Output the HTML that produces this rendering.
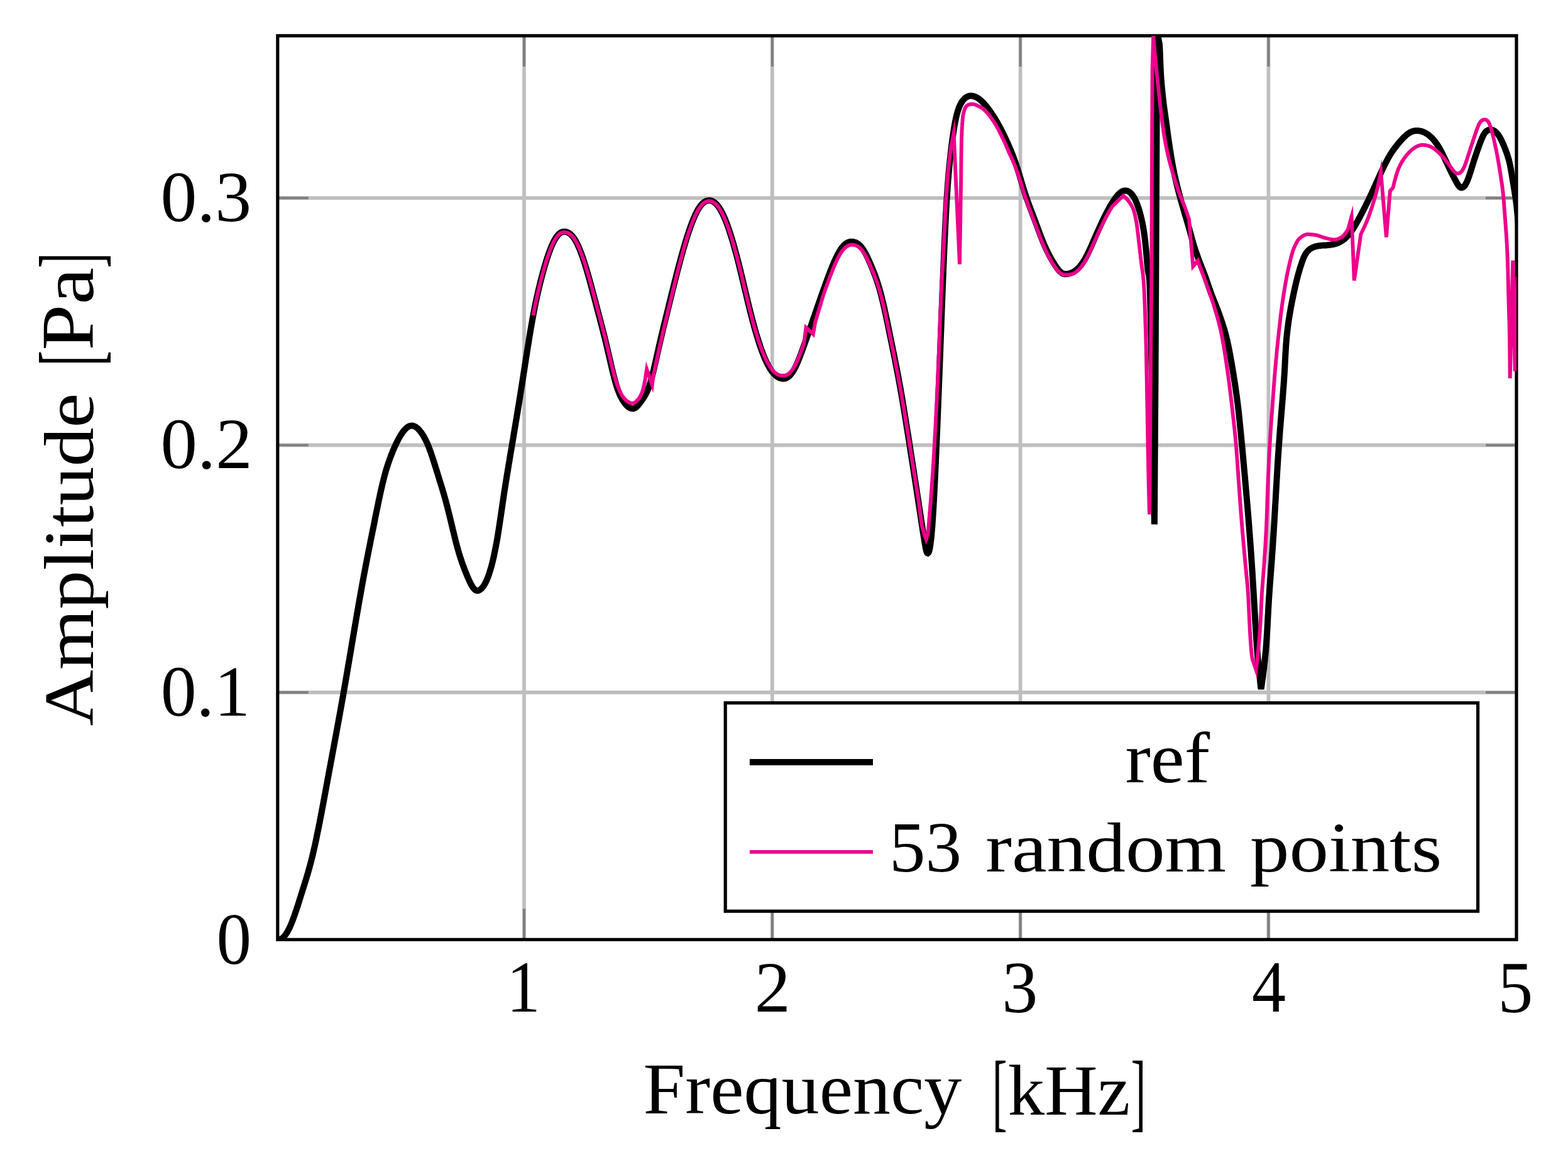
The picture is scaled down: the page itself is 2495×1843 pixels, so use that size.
<!DOCTYPE html>
<html lang="en"><head><meta charset="utf-8"><title>Amplitude vs. Frequency</title>
<style>html,body{margin:0;padding:0;background:#fff;}body{width:2495px;height:1843px;overflow:hidden;}svg{display:block;}text{font-family:"Liberation Serif", "DejaVu Serif", serif;fill:#000;}</style>
</head><body>
<svg xmlns="http://www.w3.org/2000/svg" width="2495" height="1843" viewBox="0 0 2495 1843">
<rect x="0" y="0" width="2495" height="1843" fill="#fff"/>
<defs><clipPath id="pc"><rect x="441.8" y="56.9" width="1971.2" height="1438.5"/></clipPath></defs>
<g stroke="#bfbfbf" stroke-width="5.8" fill="none">
<line x1="834.0" y1="56.9" x2="834.0" y2="1495.4"/>
<line x1="1228.8" y1="56.9" x2="1228.8" y2="1495.4"/>
<line x1="1623.6" y1="56.9" x2="1623.6" y2="1495.4"/>
<line x1="2018.4" y1="56.9" x2="2018.4" y2="1495.4"/>
<line x1="441.8" y1="1102.0" x2="2413.0" y2="1102.0"/>
<line x1="441.8" y1="708.5" x2="2413.0" y2="708.5"/>
<line x1="441.8" y1="315.2" x2="2413.0" y2="315.2"/>
</g>
<g stroke="#808080" stroke-width="4.2" fill="none">
<line x1="834.0" y1="1495.4" x2="834.0" y2="1446.4"/>
<line x1="834.0" y1="56.9" x2="834.0" y2="105.9"/>
<line x1="1228.8" y1="1495.4" x2="1228.8" y2="1446.4"/>
<line x1="1228.8" y1="56.9" x2="1228.8" y2="105.9"/>
<line x1="1623.6" y1="1495.4" x2="1623.6" y2="1446.4"/>
<line x1="1623.6" y1="56.9" x2="1623.6" y2="105.9"/>
<line x1="2018.4" y1="1495.4" x2="2018.4" y2="1446.4"/>
<line x1="2018.4" y1="56.9" x2="2018.4" y2="105.9"/>
<line x1="441.8" y1="1102.0" x2="490.8" y2="1102.0"/>
<line x1="2413.0" y1="1102.0" x2="2364.0" y2="1102.0"/>
<line x1="441.8" y1="708.5" x2="490.8" y2="708.5"/>
<line x1="2413.0" y1="708.5" x2="2364.0" y2="708.5"/>
<line x1="441.8" y1="315.2" x2="490.8" y2="315.2"/>
<line x1="2413.0" y1="315.2" x2="2364.0" y2="315.2"/>
</g>
<rect x="441.8" y="56.9" width="1971.2" height="1438.5" fill="none" stroke="#000" stroke-width="5.2"/>
<g clip-path="url(#pc)" fill="none" stroke-linejoin="bevel" stroke-linecap="butt">
<path d="M441.8,1495.3L442.8,1495.4L443.8,1495.5L444.8,1495.3L445.7,1495.1L446.7,1494.7L447.6,1494.3L448.4,1493.8L449.2,1493.2L450.0,1492.5L450.7,1491.9L451.5,1491.2L452.1,1490.4L452.8,1489.7L453.4,1488.9L454.0,1488.1L454.6,1487.3L455.2,1486.4L455.7,1485.6L456.2,1484.8L456.8,1483.9L457.3,1483.1L457.8,1482.2L458.2,1481.3L458.7,1480.4L459.2,1479.5L459.6,1478.6L460.1,1477.8L460.5,1476.9L460.9,1476.0L461.4,1475.0L461.8,1474.1L462.2,1473.2L462.6,1472.3L463.0,1471.4L463.4,1470.5L463.8,1469.5L464.1,1468.6L464.5,1467.7L464.9,1466.8L465.2,1465.8L465.6,1464.9L466.0,1464.0L466.3,1463.0L466.7,1462.1L467.0,1461.2L467.4,1460.2L467.7,1459.3L468.0,1458.3L468.4,1457.4L468.7,1456.5L469.0,1455.5L469.4,1454.6L469.7,1453.6L470.0,1452.7L470.3,1451.7L470.6,1450.8L471.0,1449.8L471.3,1448.9L471.6,1447.9L471.9,1447.0L472.2,1446.0L472.5,1445.1L472.8,1444.1L473.1,1443.2L473.5,1442.2L473.8,1441.3L474.1,1440.3L474.4,1439.4L474.7,1438.4L475.0,1437.5L475.3,1436.5L475.6,1435.6L475.9,1434.6L476.2,1433.7L476.5,1432.7L476.8,1431.7L477.1,1430.8L477.4,1429.8L477.7,1428.9L478.0,1427.9L478.3,1427.0L478.6,1426.0L478.9,1425.1L479.2,1424.1L479.5,1423.2L479.8,1422.2L480.1,1421.3L480.4,1420.3L480.7,1419.4L481.0,1418.4L481.3,1417.4L481.6,1416.5L481.9,1415.5L482.2,1414.6L482.5,1413.6L482.8,1412.7L483.1,1411.7L483.4,1410.8L483.7,1409.8L484.0,1408.9L484.3,1407.9L484.6,1407.0L484.9,1406.0L485.2,1405.1L485.5,1404.1L485.8,1403.1L486.1,1402.2L486.4,1401.2L486.7,1400.3L487.0,1399.3L487.3,1398.4L487.6,1397.4L487.8,1396.4L488.1,1395.5L488.4,1394.5L488.7,1393.6L489.0,1392.6L489.3,1391.7L489.6,1390.7L489.8,1389.7L490.1,1388.8L490.4,1387.8L490.7,1386.9L490.9,1385.9L491.2,1384.9L491.5,1384.0L491.7,1383.0L492.0,1382.0L492.3,1381.1L492.5,1380.1L492.8,1379.1L493.1,1378.2L493.3,1377.2L493.6,1376.3L493.8,1375.3L494.1,1374.3L494.4,1373.4L494.6,1372.4L494.9,1371.4L495.1,1370.4L495.4,1369.5L495.6,1368.5L495.8,1367.5L496.1,1366.6L496.3,1365.6L496.6,1364.6L496.8,1363.7L497.0,1362.7L497.3,1361.7L497.5,1360.7L497.8,1359.8L498.0,1358.8L498.2,1357.8L498.4,1356.9L498.7,1355.9L498.9,1354.9L499.1,1353.9L499.3,1353.0L499.6,1352.0L499.8,1351.0L500.0,1350.0L500.2,1349.1L500.4,1348.1L500.7,1347.1L500.9,1346.1L501.1,1345.2L501.3,1344.2L501.5,1343.2L501.7,1342.2L501.9,1341.2L502.2,1340.3L502.4,1339.3L502.6,1338.3L502.8,1337.3L503.0,1336.4L503.2,1335.4L503.4,1334.4L503.6,1333.4L503.8,1332.4L504.0,1331.5L504.2,1330.5L504.4,1329.5L504.6,1328.5L504.8,1327.5L505.0,1326.6L505.2,1325.6L505.4,1324.6L505.6,1323.6L505.8,1322.7L506.0,1321.7L506.2,1320.7L506.4,1319.7L506.6,1318.7L506.8,1317.8L507.0,1316.8L507.2,1315.8L507.4,1314.8L507.6,1313.8L507.8,1312.8L508.0,1311.9L508.2,1310.9L508.4,1309.9L508.6,1308.9L508.8,1307.9L508.9,1307.0L509.1,1306.0L509.3,1305.0L509.5,1304.0L509.7,1303.0L509.9,1302.1L510.1,1301.1L510.3,1300.1L510.5,1299.1L510.7,1298.1L510.8,1297.1L511.0,1296.2L511.2,1295.2L511.4,1294.2L511.6,1293.2L511.8,1292.2L512.0,1291.3L512.2,1290.3L512.3,1289.3L512.5,1288.3L512.7,1287.3L512.9,1286.3L513.1,1285.4L513.3,1284.4L513.4,1283.4L513.6,1282.4L513.8,1281.4L514.0,1280.4L514.2,1279.5L514.4,1278.5L514.6,1277.5L514.7,1276.5L514.9,1275.5L515.1,1274.5L515.3,1273.6L515.5,1272.6L515.7,1271.6L515.8,1270.6L516.0,1269.6L516.2,1268.6L516.4,1267.7L516.6,1266.7L516.7,1265.7L516.9,1264.7L517.1,1263.7L517.3,1262.8L517.5,1261.8L517.7,1260.8L517.8,1259.8L518.0,1258.8L518.2,1257.8L518.4,1256.9L518.6,1255.9L518.8,1254.9L518.9,1253.9L519.1,1252.9L519.3,1251.9L519.5,1251.0L519.7,1250.0L519.8,1249.0L520.0,1248.0L520.2,1247.0L520.4,1246.0L520.6,1245.1L520.8,1244.1L520.9,1243.1L521.1,1242.1L521.3,1241.1L521.5,1240.1L521.7,1239.2L521.8,1238.2L522.0,1237.2L522.2,1236.2L522.4,1235.2L522.6,1234.2L522.8,1233.3L522.9,1232.3L523.1,1231.3L523.3,1230.3L523.5,1229.3L523.7,1228.3L523.9,1227.4L524.0,1226.4L524.2,1225.4L524.4,1224.4L524.6,1223.4L524.8,1222.4L525.0,1221.5L525.1,1220.5L525.3,1219.5L525.5,1218.5L525.7,1217.5L525.9,1216.5L526.1,1215.6L526.2,1214.6L526.4,1213.6L526.6,1212.6L526.8,1211.6L527.0,1210.7L527.2,1209.7L527.3,1208.7L527.5,1207.7L527.7,1206.7L527.9,1205.7L528.1,1204.8L528.3,1203.8L528.4,1202.8L528.6,1201.8L528.8,1200.8L529.0,1199.8L529.2,1198.9L529.3,1197.9L529.5,1196.9L529.7,1195.9L529.9,1194.9L530.1,1193.9L530.3,1193.0L530.4,1192.0L530.6,1191.0L530.8,1190.0L531.0,1189.0L531.2,1188.0L531.4,1187.1L531.5,1186.1L531.7,1185.1L531.9,1184.1L532.1,1183.1L532.3,1182.1L532.5,1181.2L532.6,1180.2L532.8,1179.2L533.0,1178.2L533.2,1177.2L533.4,1176.2L533.5,1175.3L533.7,1174.3L533.9,1173.3L534.1,1172.3L534.3,1171.3L534.5,1170.3L534.6,1169.4L534.8,1168.4L535.0,1167.4L535.2,1166.4L535.4,1165.4L535.5,1164.4L535.7,1163.5L535.9,1162.5L536.1,1161.5L536.3,1160.5L536.4,1159.5L536.6,1158.5L536.8,1157.6L537.0,1156.6L537.2,1155.6L537.4,1154.6L537.5,1153.6L537.7,1152.6L537.9,1151.7L538.1,1150.7L538.3,1149.7L538.4,1148.7L538.6,1147.7L538.8,1146.7L539.0,1145.8L539.1,1144.8L539.3,1143.8L539.5,1142.8L539.7,1141.8L539.9,1140.8L540.0,1139.9L540.2,1138.9L540.4,1137.9L540.6,1136.9L540.8,1135.9L540.9,1134.9L541.1,1134.0L541.3,1133.0L541.5,1132.0L541.6,1131.0L541.8,1130.0L542.0,1129.0L542.2,1128.1L542.4,1127.1L542.5,1126.1L542.7,1125.1L542.9,1124.1L543.1,1123.1L543.2,1122.1L543.4,1121.2L543.6,1120.2L543.8,1119.2L543.9,1118.2L544.1,1117.2L544.3,1116.2L544.5,1115.3L544.6,1114.3L544.8,1113.3L545.0,1112.3L545.2,1111.3L545.3,1110.3L545.5,1109.4L545.7,1108.4L545.9,1107.4L546.0,1106.4L546.2,1105.4L546.4,1104.4L546.5,1103.4L546.7,1102.5L546.9,1101.5L547.1,1100.5L547.2,1099.5L547.4,1098.5L547.6,1097.5L547.8,1096.6L547.9,1095.6L548.1,1094.6L548.3,1093.6L548.4,1092.6L548.6,1091.6L548.8,1090.6L549.0,1089.7L549.1,1088.7L549.3,1087.7L549.5,1086.7L549.6,1085.7L549.8,1084.7L550.0,1083.7L550.1,1082.8L550.3,1081.8L550.5,1080.8L550.7,1079.8L550.8,1078.8L551.0,1077.8L551.2,1076.8L551.3,1075.9L551.5,1074.9L551.7,1073.9L551.8,1072.9L552.0,1071.9L552.2,1070.9L552.3,1069.9L552.5,1069.0L552.7,1068.0L552.8,1067.0L553.0,1066.0L553.2,1065.0L553.3,1064.0L553.5,1063.0L553.7,1062.1L553.9,1061.1L554.0,1060.1L554.2,1059.1L554.4,1058.1L554.5,1057.1L554.7,1056.1L554.9,1055.2L555.0,1054.2L555.2,1053.2L555.4,1052.2L555.5,1051.2L555.7,1050.2L555.9,1049.2L556.0,1048.3L556.2,1047.3L556.4,1046.3L556.5,1045.3L556.7,1044.3L556.9,1043.3L557.0,1042.3L557.2,1041.4L557.4,1040.4L557.5,1039.4L557.7,1038.4L557.9,1037.4L558.0,1036.4L558.2,1035.4L558.4,1034.5L558.5,1033.5L558.7,1032.5L558.9,1031.5L559.0,1030.5L559.2,1029.5L559.4,1028.5L559.5,1027.6L559.7,1026.6L559.9,1025.6L560.0,1024.6L560.2,1023.6L560.4,1022.6L560.5,1021.6L560.7,1020.7L560.9,1019.7L561.0,1018.7L561.2,1017.7L561.4,1016.7L561.5,1015.7L561.7,1014.7L561.9,1013.8L562.0,1012.8L562.2,1011.8L562.4,1010.8L562.5,1009.8L562.7,1008.8L562.9,1007.8L563.0,1006.9L563.2,1005.9L563.4,1004.9L563.5,1003.9L563.7,1002.9L563.9,1001.9L564.0,1000.9L564.2,1000.0L564.4,999.0L564.5,998.0L564.7,997.0L564.9,996.0L565.0,995.0L565.2,994.0L565.4,993.1L565.5,992.1L565.7,991.1L565.9,990.1L566.1,989.1L566.2,988.1L566.4,987.1L566.6,986.2L566.7,985.2L566.9,984.2L567.1,983.2L567.2,982.2L567.4,981.2L567.6,980.2L567.7,979.3L567.9,978.3L568.1,977.3L568.2,976.3L568.4,975.3L568.6,974.3L568.8,973.4L568.9,972.4L569.1,971.4L569.3,970.4L569.4,969.4L569.6,968.4L569.8,967.4L570.0,966.5L570.1,965.5L570.3,964.5L570.5,963.5L570.6,962.5L570.8,961.5L571.0,960.5L571.2,959.6L571.3,958.6L571.5,957.6L571.7,956.6L571.8,955.6L572.0,954.6L572.2,953.7L572.4,952.7L572.5,951.7L572.7,950.7L572.9,949.7L573.1,948.7L573.2,947.7L573.4,946.8L573.6,945.8L573.8,944.8L573.9,943.8L574.1,942.8L574.3,941.8L574.5,940.9L574.6,939.9L574.8,938.9L575.0,937.9L575.2,936.9L575.3,935.9L575.5,935.0L575.7,934.0L575.9,933.0L576.1,932.0L576.2,931.0L576.4,930.0L576.6,929.0L576.8,928.1L577.0,927.1L577.1,926.1L577.3,925.1L577.5,924.1L577.7,923.1L577.9,922.2L578.0,921.2L578.2,920.2L578.4,919.2L578.6,918.2L578.8,917.2L578.9,916.3L579.1,915.3L579.3,914.3L579.5,913.3L579.7,912.3L579.9,911.4L580.1,910.4L580.2,909.4L580.4,908.4L580.6,907.4L580.8,906.4L581.0,905.5L581.2,904.5L581.4,903.5L581.5,902.5L581.7,901.5L581.9,900.5L582.1,899.6L582.3,898.6L582.5,897.6L582.7,896.6L582.9,895.6L583.1,894.7L583.2,893.7L583.4,892.7L583.6,891.7L583.8,890.7L584.0,889.7L584.2,888.8L584.4,887.8L584.6,886.8L584.8,885.8L585.0,884.8L585.2,883.9L585.4,882.9L585.5,881.9L585.7,880.9L585.9,879.9L586.1,879.0L586.3,878.0L586.5,877.0L586.7,876.0L586.9,875.0L587.1,874.1L587.3,873.1L587.5,872.1L587.7,871.1L587.9,870.1L588.1,869.1L588.3,868.2L588.5,867.2L588.7,866.2L588.9,865.2L589.1,864.2L589.3,863.3L589.4,862.3L589.6,861.3L589.8,860.3L590.0,859.3L590.2,858.4L590.4,857.4L590.6,856.4L590.8,855.4L591.0,854.4L591.2,853.5L591.4,852.5L591.6,851.5L591.8,850.5L592.0,849.5L592.2,848.6L592.4,847.6L592.6,846.6L592.8,845.6L593.0,844.6L593.2,843.7L593.4,842.7L593.6,841.7L593.8,840.7L594.0,839.7L594.2,838.8L594.4,837.8L594.6,836.8L594.8,835.8L595.0,834.8L595.2,833.9L595.4,832.9L595.6,831.9L595.8,830.9L596.0,829.9L596.2,829.0L596.3,828.0L596.5,827.0L596.7,826.0L596.9,825.0L597.1,824.1L597.3,823.1L597.5,822.1L597.7,821.1L597.9,820.1L598.1,819.2L598.3,818.2L598.5,817.2L598.7,816.2L598.9,815.2L599.1,814.3L599.3,813.3L599.5,812.3L599.7,811.3L599.9,810.3L600.1,809.4L600.3,808.4L600.5,807.4L600.7,806.4L600.9,805.4L601.1,804.5L601.3,803.5L601.5,802.5L601.7,801.5L601.9,800.5L602.1,799.6L602.3,798.6L602.5,797.6L602.7,796.6L602.9,795.7L603.1,794.7L603.4,793.7L603.6,792.7L603.8,791.7L604.0,790.8L604.2,789.8L604.4,788.8L604.6,787.8L604.8,786.9L605.0,785.9L605.2,784.9L605.5,783.9L605.7,782.9L605.9,782.0L606.1,781.0L606.3,780.0L606.5,779.0L606.8,778.1L607.0,777.1L607.2,776.1L607.4,775.1L607.7,774.2L607.9,773.2L608.1,772.2L608.3,771.2L608.6,770.3L608.8,769.3L609.0,768.3L609.3,767.4L609.5,766.4L609.7,765.4L610.0,764.4L610.2,763.5L610.5,762.5L610.7,761.5L611.0,760.6L611.2,759.6L611.5,758.6L611.7,757.7L612.0,756.7L612.2,755.7L612.5,754.8L612.8,753.8L613.0,752.8L613.3,751.9L613.6,750.9L613.8,750.0L614.1,749.0L614.4,748.0L614.7,747.1L615.0,746.1L615.3,745.2L615.6,744.2L615.9,743.3L616.2,742.3L616.5,741.3L616.8,740.4L617.1,739.4L617.4,738.5L617.7,737.5L618.0,736.6L618.4,735.7L618.7,734.7L619.0,733.8L619.4,732.8L619.7,731.9L620.0,730.9L620.4,730.0L620.7,729.1L621.1,728.1L621.4,727.2L621.8,726.3L622.1,725.3L622.5,724.4L622.9,723.5L623.2,722.5L623.6,721.6L624.0,720.7L624.4,719.8L624.7,718.8L625.1,717.9L625.5,717.0L625.9,716.1L626.3,715.1L626.7,714.2L627.1,713.3L627.5,712.4L627.9,711.5L628.3,710.6L628.7,709.7L629.1,708.8L629.6,707.8L630.0,706.9L630.4,706.0L630.8,705.1L631.3,704.2L631.7,703.3L632.2,702.4L632.6,701.6L633.1,700.7L633.6,699.8L634.0,698.9L634.5,698.0L635.0,697.1L635.5,696.3L636.0,695.4L636.5,694.5L637.0,693.7L637.5,692.8L638.0,692.0L638.6,691.1L639.1,690.3L639.7,689.5L640.2,688.6L640.8,687.8L641.4,687.0L642.0,686.2L642.7,685.5L643.3,684.7L644.0,684.0L644.7,683.2L645.4,682.5L646.1,681.8L646.8,681.2L647.6,680.5L648.4,679.9L649.2,679.4L650.1,678.9L651.0,678.4L651.9,678.1L652.9,677.8L653.9,677.6L654.9,677.5L655.9,677.5L656.9,677.6L657.8,677.9L658.8,678.2L659.7,678.5L660.6,679.0L661.5,679.5L662.3,680.1L663.1,680.7L663.9,681.3L664.6,681.9L665.4,682.6L666.1,683.3L666.7,684.1L667.4,684.8L668.0,685.6L668.7,686.4L669.3,687.2L669.9,687.9L670.5,688.8L671.1,689.6L671.6,690.4L672.2,691.2L672.7,692.1L673.2,692.9L673.8,693.8L674.3,694.6L674.8,695.5L675.3,696.4L675.7,697.3L676.2,698.1L676.7,699.0L677.1,699.9L677.6,700.8L678.0,701.7L678.4,702.6L678.9,703.5L679.3,704.4L679.7,705.3L680.1,706.3L680.5,707.2L680.9,708.1L681.3,709.0L681.6,709.9L682.0,710.9L682.4,711.8L682.7,712.7L683.1,713.7L683.4,714.6L683.8,715.5L684.1,716.5L684.5,717.4L684.8,718.4L685.2,719.3L685.5,720.2L685.8,721.2L686.1,722.1L686.5,723.1L686.8,724.0L687.1,725.0L687.4,725.9L687.8,726.9L688.1,727.8L688.4,728.8L688.7,729.7L689.0,730.7L689.3,731.6L689.6,732.6L689.9,733.5L690.2,734.5L690.5,735.4L690.8,736.4L691.1,737.3L691.4,738.3L691.7,739.2L692.0,740.2L692.3,741.1L692.6,742.1L692.9,743.1L693.2,744.0L693.5,745.0L693.8,745.9L694.1,746.9L694.4,747.8L694.7,748.8L695.0,749.7L695.3,750.7L695.6,751.6L695.9,752.6L696.2,753.6L696.5,754.5L696.8,755.5L697.1,756.4L697.4,757.4L697.7,758.3L698.0,759.3L698.3,760.2L698.6,761.2L698.8,762.2L699.1,763.1L699.4,764.1L699.7,765.0L700.0,766.0L700.3,766.9L700.6,767.9L700.9,768.8L701.2,769.8L701.5,770.7L701.8,771.7L702.1,772.7L702.4,773.6L702.7,774.6L703.0,775.5L703.3,776.5L703.6,777.4L703.8,778.4L704.1,779.4L704.4,780.3L704.7,781.3L705.0,782.2L705.3,783.2L705.5,784.2L705.8,785.1L706.1,786.1L706.4,787.0L706.7,788.0L706.9,789.0L707.2,789.9L707.5,790.9L707.8,791.8L708.0,792.8L708.3,793.8L708.6,794.7L708.8,795.7L709.1,796.7L709.4,797.6L709.6,798.6L709.9,799.5L710.1,800.5L710.4,801.5L710.6,802.4L710.9,803.4L711.2,804.4L711.4,805.4L711.7,806.3L711.9,807.3L712.2,808.3L712.4,809.2L712.6,810.2L712.9,811.2L713.1,812.1L713.4,813.1L713.6,814.1L713.9,815.0L714.1,816.0L714.3,817.0L714.6,818.0L714.8,818.9L715.1,819.9L715.3,820.9L715.5,821.8L715.8,822.8L716.0,823.8L716.2,824.8L716.5,825.7L716.7,826.7L717.0,827.7L717.2,828.6L717.4,829.6L717.7,830.6L717.9,831.6L718.1,832.5L718.4,833.5L718.6,834.5L718.8,835.4L719.1,836.4L719.3,837.4L719.5,838.4L719.8,839.3L720.0,840.3L720.2,841.3L720.5,842.2L720.7,843.2L720.9,844.2L721.2,845.2L721.4,846.1L721.6,847.1L721.9,848.1L722.1,849.1L722.3,850.0L722.6,851.0L722.8,852.0L723.1,852.9L723.3,853.9L723.5,854.9L723.8,855.8L724.0,856.8L724.3,857.8L724.5,858.8L724.7,859.7L725.0,860.7L725.2,861.7L725.5,862.6L725.7,863.6L726.0,864.6L726.2,865.5L726.5,866.5L726.7,867.5L727.0,868.4L727.3,869.4L727.5,870.4L727.8,871.3L728.0,872.3L728.3,873.3L728.6,874.2L728.9,875.2L729.1,876.1L729.4,877.1L729.7,878.1L730.0,879.0L730.2,880.0L730.5,880.9L730.8,881.9L731.1,882.9L731.4,883.8L731.7,884.8L732.0,885.7L732.3,886.7L732.6,887.6L732.9,888.6L733.2,889.5L733.6,890.5L733.9,891.4L734.2,892.4L734.5,893.3L734.8,894.3L735.2,895.2L735.5,896.2L735.8,897.1L736.2,898.0L736.5,899.0L736.9,899.9L737.2,900.9L737.5,901.8L737.9,902.7L738.3,903.7L738.6,904.6L739.0,905.5L739.3,906.5L739.7,907.4L740.0,908.3L740.4,909.3L740.8,910.2L741.1,911.1L741.5,912.0L741.9,913.0L742.3,913.9L742.6,914.8L743.0,915.8L743.4,916.7L743.8,917.6L744.2,918.5L744.6,919.4L745.0,920.4L745.4,921.3L745.8,922.2L746.2,923.1L746.6,924.0L747.0,924.9L747.4,925.8L747.9,926.7L748.3,927.6L748.8,928.5L749.2,929.4L749.7,930.3L750.2,931.2L750.7,932.0L751.2,932.9L751.7,933.7L752.3,934.6L752.9,935.4L753.5,936.2L754.1,936.9L754.8,937.7L755.5,938.3L756.3,938.9L757.2,939.5L758.1,939.8L759.1,940.0L760.1,940.0L761.1,939.8L762.0,939.5L762.9,939.1L763.8,938.6L764.6,938.0L765.4,937.4L766.1,936.7L766.8,936.0L767.5,935.3L768.1,934.5L768.7,933.7L769.3,932.9L769.9,932.0L770.4,931.2L770.9,930.3L771.4,929.5L771.9,928.6L772.4,927.7L772.8,926.8L773.2,925.9L773.7,925.0L774.1,924.1L774.5,923.2L774.9,922.3L775.3,921.3L775.7,920.4L776.0,919.5L776.4,918.6L776.7,917.6L777.1,916.7L777.4,915.7L777.7,914.8L778.1,913.9L778.4,912.9L778.7,912.0L779.0,911.0L779.3,910.1L779.6,909.1L779.9,908.1L780.2,907.2L780.5,906.2L780.8,905.3L781.1,904.3L781.3,903.3L781.6,902.4L781.9,901.4L782.1,900.5L782.4,899.5L782.6,898.5L782.9,897.6L783.1,896.6L783.4,895.6L783.6,894.6L783.9,893.7L784.1,892.7L784.3,891.7L784.6,890.8L784.8,889.8L785.0,888.8L785.2,887.8L785.5,886.9L785.7,885.9L785.9,884.9L786.1,883.9L786.3,883.0L786.5,882.0L786.7,881.0L786.9,880.0L787.1,879.0L787.3,878.1L787.5,877.1L787.7,876.1L787.9,875.1L788.1,874.1L788.3,873.2L788.5,872.2L788.7,871.2L788.9,870.2L789.1,869.2L789.3,868.2L789.4,867.3L789.6,866.3L789.8,865.3L790.0,864.3L790.2,863.3L790.3,862.3L790.5,861.4L790.7,860.4L790.9,859.4L791.0,858.4L791.2,857.4L791.4,856.4L791.5,855.5L791.7,854.5L791.9,853.5L792.0,852.5L792.2,851.5L792.4,850.5L792.5,849.5L792.7,848.5L792.8,847.6L793.0,846.6L793.2,845.6L793.3,844.6L793.5,843.6L793.6,842.6L793.8,841.6L793.9,840.6L794.1,839.7L794.2,838.7L794.4,837.7L794.5,836.7L794.7,835.7L794.8,834.7L795.0,833.7L795.1,832.7L795.3,831.8L795.4,830.8L795.6,829.8L795.7,828.8L795.9,827.8L796.0,826.8L796.2,825.8L796.3,824.8L796.5,823.8L796.6,822.9L796.7,821.9L796.9,820.9L797.0,819.9L797.2,818.9L797.3,817.9L797.5,816.9L797.6,815.9L797.8,814.9L797.9,813.9L798.0,813.0L798.2,812.0L798.3,811.0L798.5,810.0L798.6,809.0L798.8,808.0L798.9,807.0L799.1,806.0L799.2,805.0L799.3,804.1L799.5,803.1L799.6,802.1L799.8,801.1L799.9,800.1L800.1,799.1L800.2,798.1L800.4,797.1L800.5,796.1L800.7,795.2L800.8,794.2L801.0,793.2L801.1,792.2L801.3,791.2L801.4,790.2L801.5,789.2L801.7,788.2L801.8,787.2L802.0,786.3L802.1,785.3L802.3,784.3L802.4,783.3L802.6,782.3L802.8,781.3L802.9,780.3L803.1,779.3L803.2,778.3L803.4,777.4L803.5,776.4L803.7,775.4L803.8,774.4L804.0,773.4L804.1,772.4L804.3,771.4L804.4,770.4L804.6,769.5L804.8,768.5L804.9,767.5L805.1,766.5L805.2,765.5L805.4,764.5L805.5,763.5L805.7,762.5L805.9,761.6L806.0,760.6L806.2,759.6L806.3,758.6L806.5,757.6L806.7,756.6L806.8,755.6L807.0,754.6L807.1,753.7L807.3,752.7L807.5,751.7L807.6,750.7L807.8,749.7L807.9,748.7L808.1,747.7L808.3,746.8L808.4,745.8L808.6,744.8L808.8,743.8L808.9,742.8L809.1,741.8L809.2,740.8L809.4,739.8L809.6,738.9L809.7,737.9L809.9,736.9L810.1,735.9L810.2,734.9L810.4,733.9L810.6,732.9L810.7,732.0L810.9,731.0L811.0,730.0L811.2,729.0L811.4,728.0L811.5,727.0L811.7,726.0L811.9,725.1L812.0,724.1L812.2,723.1L812.4,722.1L812.5,721.1L812.7,720.1L812.9,719.1L813.0,718.2L813.2,717.2L813.4,716.2L813.5,715.2L813.7,714.2L813.9,713.2L814.0,712.2L814.2,711.3L814.4,710.3L814.5,709.3L814.7,708.3L814.9,707.3L815.0,706.3L815.2,705.3L815.4,704.4L815.5,703.4L815.7,702.4L815.9,701.4L816.0,700.4L816.2,699.4L816.4,698.4L816.5,697.5L816.7,696.5L816.9,695.5L817.0,694.5L817.2,693.5L817.4,692.5L817.5,691.5L817.7,690.5L817.8,689.6L818.0,688.6L818.2,687.6L818.3,686.6L818.5,685.6L818.7,684.6L818.8,683.6L819.0,682.7L819.2,681.7L819.3,680.7L819.5,679.7L819.7,678.7L819.8,677.7L820.0,676.7L820.2,675.8L820.3,674.8L820.5,673.8L820.6,672.8L820.8,671.8L821.0,670.8L821.1,669.8L821.3,668.9L821.5,667.9L821.6,666.9L821.8,665.9L822.0,664.9L822.1,663.9L822.3,662.9L822.4,661.9L822.6,661.0L822.8,660.0L822.9,659.0L823.1,658.0L823.3,657.0L823.4,656.0L823.6,655.0L823.7,654.1L823.9,653.1L824.1,652.1L824.2,651.1L824.4,650.1L824.5,649.1L824.7,648.1L824.9,647.1L825.0,646.2L825.2,645.2L825.4,644.2L825.5,643.2L825.7,642.2L825.8,641.2L826.0,640.2L826.2,639.3L826.3,638.3L826.5,637.3L826.6,636.3L826.8,635.3L826.9,634.3L827.1,633.3L827.3,632.3L827.4,631.4L827.6,630.4L827.7,629.4L827.9,628.4L828.1,627.4L828.2,626.4L828.4,625.4L828.5,624.4L828.7,623.5L828.8,622.5L829.0,621.5L829.2,620.5L829.3,619.5L829.5,618.5L829.6,617.5L829.8,616.5L829.9,615.6L830.1,614.6L830.3,613.6L830.4,612.6L830.6,611.6L830.7,610.6L830.9,609.6L831.0,608.6L831.2,607.7L831.3,606.7L831.5,605.7L831.7,604.7L831.8,603.7L832.0,602.7L832.1,601.7L832.3,600.7L832.4,599.8L832.6,598.8L832.7,597.8L832.9,596.8L833.0,595.8L833.2,594.8L833.3,593.8L833.5,592.8L833.7,591.9L833.8,590.9L834.0,589.9L834.1,588.9L834.3,587.9L834.4,586.9L834.6,585.9L834.7,584.9L834.9,583.9L835.0,583.0L835.2,582.0L835.3,581.0L835.5,580.0L835.6,579.0L835.8,578.0L836.0,577.0L836.1,576.0L836.3,575.1L836.4,574.1L836.6,573.1L836.7,572.1L836.9,571.1L837.0,570.1L837.2,569.1L837.3,568.1L837.5,567.2L837.7,566.2L837.8,565.2L838.0,564.2L838.1,563.2L838.3,562.2L838.4,561.2L838.6,560.2L838.7,559.3L838.9,558.3L839.0,557.3L839.2,556.3L839.4,555.3L839.5,554.3L839.7,553.3L839.8,552.3L840.0,551.4L840.1,550.4L840.3,549.4L840.5,548.4L840.6,547.4L840.8,546.4L840.9,545.4L841.1,544.4L841.3,543.5L841.4,542.5L841.6,541.5L841.7,540.5L841.9,539.5L842.1,538.5L842.2,537.5L842.4,536.5L842.5,535.6L842.7,534.6L842.9,533.6L843.0,532.6L843.2,531.6L843.4,530.6L843.5,529.6L843.7,528.7L843.9,527.7L844.0,526.7L844.2,525.7L844.4,524.7L844.5,523.7L844.7,522.7L844.9,521.8L845.0,520.8L845.2,519.8L845.4,518.8L845.5,517.8L845.7,516.8L845.9,515.8L846.1,514.9L846.2,513.9L846.4,512.9L846.6,511.9L846.8,510.9L846.9,509.9L847.1,509.0L847.3,508.0L847.5,507.0L847.7,506.0L847.8,505.0L848.0,504.0L848.2,503.1L848.4,502.1L848.6,501.1L848.7,500.1L848.9,499.1L849.1,498.1L849.3,497.2L849.5,496.2L849.7,495.2L849.9,494.2L850.1,493.2L850.3,492.3L850.5,491.3L850.6,490.3L850.8,489.3L851.0,488.3L851.2,487.3L851.4,486.4L851.6,485.4L851.8,484.4L852.0,483.4L852.2,482.5L852.4,481.5L852.6,480.5L852.8,479.5L853.1,478.5L853.3,477.6L853.5,476.6L853.7,475.6L853.9,474.6L854.1,473.6L854.3,472.7L854.5,471.7L854.7,470.7L855.0,469.7L855.2,468.8L855.4,467.8L855.6,466.8L855.8,465.8L856.1,464.9L856.3,463.9L856.5,462.9L856.7,461.9L857.0,461.0L857.2,460.0L857.4,459.0L857.7,458.1L857.9,457.1L858.1,456.1L858.4,455.1L858.6,454.2L858.8,453.2L859.1,452.2L859.3,451.2L859.5,450.3L859.8,449.3L860.0,448.3L860.3,447.4L860.5,446.4L860.8,445.4L861.0,444.5L861.3,443.5L861.5,442.5L861.8,441.6L862.0,440.6L862.3,439.6L862.5,438.7L862.8,437.7L863.1,436.7L863.3,435.8L863.6,434.8L863.8,433.8L864.1,432.9L864.4,431.9L864.6,430.9L864.9,430.0L865.2,429.0L865.4,428.1L865.7,427.1L866.0,426.1L866.3,425.2L866.5,424.2L866.8,423.3L867.1,422.3L867.4,421.3L867.7,420.4L868.0,419.4L868.3,418.5L868.5,417.5L868.8,416.5L869.1,415.6L869.4,414.6L869.7,413.7L870.0,412.7L870.3,411.8L870.6,410.8L871.0,409.9L871.3,408.9L871.6,408.0L871.9,407.0L872.2,406.1L872.6,405.1L872.9,404.2L873.2,403.3L873.5,402.3L873.9,401.4L874.2,400.4L874.6,399.5L874.9,398.6L875.3,397.6L875.6,396.7L876.0,395.8L876.4,394.8L876.8,393.9L877.1,393.0L877.5,392.1L877.9,391.1L878.3,390.2L878.7,389.3L879.1,388.4L879.6,387.5L880.0,386.6L880.4,385.7L880.9,384.8L881.3,383.9L881.8,383.0L882.3,382.1L882.8,381.3L883.3,380.4L883.8,379.6L884.3,378.7L884.9,377.9L885.5,377.1L886.0,376.3L886.7,375.5L887.3,374.7L887.9,373.9L888.6,373.2L889.3,372.5L890.1,371.8L890.9,371.2L891.7,370.6L892.5,370.1L893.4,369.6L894.3,369.3L895.3,369.0L896.3,368.8L897.3,368.7L898.3,368.7L899.3,368.8L900.3,369.0L901.2,369.2L902.2,369.5L903.1,369.8L904.0,370.3L904.9,370.7L905.8,371.3L906.6,371.8L907.4,372.4L908.1,373.1L908.9,373.8L909.6,374.5L910.3,375.2L910.9,376.0L911.6,376.7L912.2,377.5L912.8,378.3L913.3,379.1L913.9,380.0L914.4,380.8L915.0,381.7L915.5,382.5L916.0,383.4L916.5,384.2L916.9,385.1L917.4,386.0L917.9,386.9L918.3,387.8L918.8,388.7L919.2,389.6L919.6,390.5L920.0,391.4L920.4,392.3L920.8,393.2L921.2,394.2L921.6,395.1L922.0,396.0L922.4,396.9L922.8,397.9L923.1,398.8L923.5,399.7L923.8,400.6L924.2,401.6L924.6,402.5L924.9,403.5L925.3,404.4L925.6,405.3L925.9,406.3L926.3,407.2L926.6,408.2L926.9,409.1L927.3,410.0L927.6,411.0L927.9,411.9L928.2,412.9L928.6,413.8L928.9,414.8L929.2,415.7L929.5,416.7L929.8,417.6L930.1,418.6L930.4,419.5L930.7,420.5L931.0,421.4L931.3,422.4L931.6,423.4L931.9,424.3L932.2,425.3L932.5,426.2L932.8,427.2L933.1,428.1L933.4,429.1L933.6,430.0L933.9,431.0L934.2,432.0L934.5,432.9L934.8,433.9L935.0,434.8L935.3,435.8L935.6,436.8L935.9,437.7L936.2,438.7L936.4,439.6L936.7,440.6L937.0,441.6L937.2,442.5L937.5,443.5L937.8,444.5L938.1,445.4L938.3,446.4L938.6,447.4L938.9,448.3L939.1,449.3L939.4,450.2L939.6,451.2L939.9,452.2L940.2,453.1L940.4,454.1L940.7,455.1L941.0,456.0L941.2,457.0L941.5,458.0L941.7,458.9L942.0,459.9L942.3,460.9L942.5,461.8L942.8,462.8L943.0,463.8L943.3,464.7L943.5,465.7L943.8,466.7L944.1,467.6L944.3,468.6L944.6,469.6L944.8,470.5L945.1,471.5L945.3,472.5L945.6,473.4L945.8,474.4L946.1,475.4L946.3,476.3L946.6,477.3L946.8,478.3L947.1,479.2L947.4,480.2L947.6,481.2L947.9,482.1L948.1,483.1L948.4,484.1L948.6,485.0L948.9,486.0L949.1,487.0L949.4,487.9L949.6,488.9L949.9,489.9L950.1,490.8L950.4,491.8L950.6,492.8L950.9,493.7L951.2,494.7L951.4,495.7L951.7,496.6L951.9,497.6L952.2,498.6L952.4,499.5L952.7,500.5L952.9,501.5L953.2,502.4L953.4,503.4L953.7,504.4L954.0,505.3L954.2,506.3L954.5,507.3L954.7,508.2L955.0,509.2L955.2,510.2L955.5,511.1L955.7,512.1L956.0,513.1L956.2,514.0L956.5,515.0L956.7,516.0L957.0,516.9L957.2,517.9L957.5,518.9L957.7,519.8L958.0,520.8L958.2,521.8L958.5,522.8L958.7,523.7L959.0,524.7L959.2,525.7L959.5,526.6L959.7,527.6L960.0,528.6L960.2,529.5L960.5,530.5L960.7,531.5L961.0,532.4L961.2,533.4L961.4,534.4L961.7,535.4L961.9,536.3L962.2,537.3L962.4,538.3L962.7,539.2L962.9,540.2L963.1,541.2L963.4,542.1L963.6,543.1L963.8,544.1L964.1,545.1L964.3,546.0L964.5,547.0L964.8,548.0L965.0,548.9L965.2,549.9L965.5,550.9L965.7,551.9L965.9,552.8L966.2,553.8L966.4,554.8L966.6,555.8L966.8,556.7L967.1,557.7L967.3,558.7L967.5,559.7L967.7,560.6L968.0,561.6L968.2,562.6L968.4,563.6L968.6,564.5L968.9,565.5L969.1,566.5L969.3,567.5L969.5,568.4L969.8,569.4L970.0,570.4L970.2,571.3L970.4,572.3L970.7,573.3L970.9,574.3L971.1,575.2L971.3,576.2L971.6,577.2L971.8,578.2L972.0,579.1L972.2,580.1L972.5,581.1L972.7,582.1L972.9,583.0L973.1,584.0L973.4,585.0L973.6,586.0L973.8,586.9L974.1,587.9L974.3,588.9L974.5,589.8L974.8,590.8L975.0,591.8L975.2,592.8L975.5,593.7L975.7,594.7L976.0,595.7L976.2,596.6L976.5,597.6L976.7,598.6L976.9,599.5L977.2,600.5L977.5,601.5L977.7,602.5L978.0,603.4L978.2,604.4L978.5,605.3L978.8,606.3L979.0,607.3L979.3,608.2L979.6,609.2L979.9,610.2L980.1,611.1L980.4,612.1L980.7,613.0L981.0,614.0L981.3,614.9L981.6,615.9L981.9,616.8L982.3,617.8L982.6,618.7L982.9,619.7L983.3,620.6L983.6,621.6L984.0,622.5L984.3,623.4L984.7,624.3L985.1,625.3L985.4,626.2L985.8,627.1L986.2,628.0L986.6,628.9L987.1,629.9L987.5,630.8L987.9,631.7L988.4,632.5L988.9,633.4L989.3,634.3L989.8,635.2L990.3,636.0L990.8,636.9L991.4,637.8L991.9,638.6L992.5,639.4L993.0,640.2L993.6,641.1L994.2,641.9L994.8,642.6L995.5,643.4L996.1,644.2L996.8,644.9L997.5,645.6L998.2,646.3L999.0,647.0L999.8,647.6L1000.6,648.1L1001.4,648.7L1002.3,649.1L1003.2,649.6L1004.2,649.9L1005.1,650.1L1006.1,650.3L1007.1,650.3L1008.1,650.2L1009.1,649.9L1010.0,649.5L1010.9,649.0L1011.7,648.4L1012.5,647.8L1013.2,647.1L1013.9,646.4L1014.6,645.7L1015.3,645.0L1015.9,644.2L1016.6,643.4L1017.2,642.7L1017.8,641.9L1018.4,641.1L1019.0,640.3L1019.6,639.5L1020.2,638.6L1020.8,637.8L1021.3,637.0L1021.9,636.2L1022.5,635.4L1023.1,634.6L1023.6,633.7L1024.2,632.9L1024.7,632.1L1025.2,631.2L1025.8,630.4L1026.3,629.5L1026.8,628.6L1027.2,627.8L1027.7,626.9L1028.2,626.0L1028.6,625.1L1029.1,624.2L1029.5,623.3L1029.9,622.4L1030.3,621.5L1030.7,620.5L1031.1,619.6L1031.4,618.7L1031.8,617.8L1032.2,616.8L1032.5,615.9L1032.8,614.9L1033.2,614.0L1033.5,613.0L1033.8,612.1L1034.1,611.1L1034.4,610.2L1034.7,609.2L1035.0,608.3L1035.3,607.3L1035.5,606.4L1035.8,605.4L1036.1,604.4L1036.4,603.5L1036.6,602.5L1036.9,601.5L1037.1,600.6L1037.4,599.6L1037.7,598.6L1037.9,597.7L1038.2,596.7L1038.4,595.7L1038.6,594.8L1038.9,593.8L1039.1,592.8L1039.4,591.9L1039.6,590.9L1039.8,589.9L1040.1,588.9L1040.3,588.0L1040.5,587.0L1040.8,586.0L1041.0,585.1L1041.2,584.1L1041.4,583.1L1041.7,582.1L1041.9,581.2L1042.1,580.2L1042.3,579.2L1042.6,578.2L1042.8,577.3L1043.0,576.3L1043.2,575.3L1043.5,574.3L1043.7,573.4L1043.9,572.4L1044.1,571.4L1044.3,570.4L1044.5,569.5L1044.8,568.5L1045.0,567.5L1045.2,566.5L1045.4,565.5L1045.6,564.6L1045.9,563.6L1046.1,562.6L1046.3,561.6L1046.5,560.7L1046.7,559.7L1046.9,558.7L1047.2,557.7L1047.4,556.8L1047.6,555.8L1047.8,554.8L1048.0,553.8L1048.3,552.9L1048.5,551.9L1048.7,550.9L1048.9,549.9L1049.1,549.0L1049.4,548.0L1049.6,547.0L1049.8,546.0L1050.0,545.1L1050.3,544.1L1050.5,543.1L1050.7,542.1L1051.0,541.2L1051.2,540.2L1051.4,539.2L1051.6,538.3L1051.9,537.3L1052.1,536.3L1052.3,535.3L1052.6,534.4L1052.8,533.4L1053.0,532.4L1053.2,531.4L1053.5,530.5L1053.7,529.5L1053.9,528.5L1054.2,527.6L1054.4,526.6L1054.6,525.6L1054.9,524.6L1055.1,523.7L1055.3,522.7L1055.6,521.7L1055.8,520.7L1056.0,519.8L1056.3,518.8L1056.5,517.8L1056.8,516.9L1057.0,515.9L1057.2,514.9L1057.5,513.9L1057.7,513.0L1057.9,512.0L1058.2,511.0L1058.4,510.1L1058.7,509.1L1058.9,508.1L1059.1,507.1L1059.4,506.2L1059.6,505.2L1059.8,504.2L1060.1,503.3L1060.3,502.3L1060.6,501.3L1060.8,500.4L1061.0,499.4L1061.3,498.4L1061.5,497.4L1061.8,496.5L1062.0,495.5L1062.2,494.5L1062.5,493.6L1062.7,492.6L1062.9,491.6L1063.2,490.6L1063.4,489.7L1063.7,488.7L1063.9,487.7L1064.1,486.8L1064.4,485.8L1064.6,484.8L1064.9,483.8L1065.1,482.9L1065.3,481.9L1065.6,480.9L1065.8,480.0L1066.0,479.0L1066.3,478.0L1066.5,477.1L1066.8,476.1L1067.0,475.1L1067.2,474.1L1067.5,473.2L1067.7,472.2L1068.0,471.2L1068.2,470.3L1068.4,469.3L1068.7,468.3L1068.9,467.3L1069.1,466.4L1069.4,465.4L1069.6,464.4L1069.9,463.5L1070.1,462.5L1070.3,461.5L1070.6,460.5L1070.8,459.6L1071.1,458.6L1071.3,457.6L1071.6,456.7L1071.8,455.7L1072.0,454.7L1072.3,453.8L1072.5,452.8L1072.8,451.8L1073.0,450.8L1073.3,449.9L1073.5,448.9L1073.7,447.9L1074.0,447.0L1074.2,446.0L1074.5,445.0L1074.7,444.1L1075.0,443.1L1075.2,442.1L1075.5,441.2L1075.7,440.2L1075.9,439.2L1076.2,438.2L1076.4,437.3L1076.7,436.3L1076.9,435.3L1077.2,434.4L1077.4,433.4L1077.7,432.4L1077.9,431.5L1078.2,430.5L1078.4,429.5L1078.7,428.6L1078.9,427.6L1079.2,426.6L1079.4,425.7L1079.7,424.7L1080.0,423.7L1080.2,422.8L1080.5,421.8L1080.7,420.8L1081.0,419.9L1081.2,418.9L1081.5,417.9L1081.8,417.0L1082.0,416.0L1082.3,415.0L1082.5,414.1L1082.8,413.1L1083.1,412.1L1083.3,411.2L1083.6,410.2L1083.8,409.2L1084.1,408.3L1084.4,407.3L1084.6,406.4L1084.9,405.4L1085.2,404.4L1085.4,403.5L1085.7,402.5L1086.0,401.5L1086.3,400.6L1086.5,399.6L1086.8,398.7L1087.1,397.7L1087.4,396.7L1087.6,395.8L1087.9,394.8L1088.2,393.8L1088.5,392.9L1088.7,391.9L1089.0,391.0L1089.3,390.0L1089.6,389.1L1089.9,388.1L1090.2,387.1L1090.5,386.2L1090.7,385.2L1091.0,384.3L1091.3,383.3L1091.6,382.4L1091.9,381.4L1092.2,380.4L1092.5,379.5L1092.8,378.5L1093.1,377.6L1093.4,376.6L1093.7,375.7L1094.0,374.7L1094.3,373.8L1094.6,372.8L1094.9,371.9L1095.3,370.9L1095.6,370.0L1095.9,369.0L1096.2,368.1L1096.5,367.1L1096.9,366.2L1097.2,365.2L1097.5,364.3L1097.8,363.3L1098.2,362.4L1098.5,361.5L1098.8,360.5L1099.2,359.6L1099.5,358.6L1099.9,357.7L1100.2,356.8L1100.6,355.8L1100.9,354.9L1101.3,354.0L1101.6,353.0L1102.0,352.1L1102.4,351.2L1102.8,350.2L1103.1,349.3L1103.5,348.4L1103.9,347.5L1104.3,346.5L1104.7,345.6L1105.1,344.7L1105.5,343.8L1105.9,342.9L1106.3,342.0L1106.7,341.1L1107.2,340.2L1107.6,339.3L1108.1,338.4L1108.5,337.5L1109.0,336.6L1109.5,335.7L1109.9,334.9L1110.4,334.0L1110.9,333.1L1111.5,332.3L1112.0,331.4L1112.5,330.6L1113.1,329.7L1113.7,328.9L1114.2,328.1L1114.9,327.3L1115.5,326.5L1116.1,325.8L1116.8,325.0L1117.5,324.3L1118.2,323.6L1119.0,323.0L1119.7,322.3L1120.5,321.7L1121.4,321.2L1122.2,320.7L1123.1,320.2L1124.0,319.8L1125.0,319.5L1126.0,319.3L1126.9,319.1L1127.9,319.0L1128.9,319.0L1129.9,319.1L1130.9,319.3L1131.9,319.5L1132.8,319.8L1133.8,320.2L1134.6,320.7L1135.5,321.2L1136.3,321.8L1137.1,322.4L1137.9,323.0L1138.7,323.7L1139.4,324.3L1140.1,325.1L1140.7,325.8L1141.4,326.6L1142.0,327.3L1142.6,328.1L1143.2,328.9L1143.8,329.8L1144.4,330.6L1144.9,331.4L1145.5,332.3L1146.0,333.1L1146.5,334.0L1147.0,334.8L1147.5,335.7L1148.0,336.6L1148.4,337.5L1148.9,338.4L1149.3,339.2L1149.8,340.1L1150.2,341.0L1150.6,341.9L1151.1,342.8L1151.5,343.8L1151.9,344.7L1152.3,345.6L1152.7,346.5L1153.1,347.4L1153.5,348.3L1153.9,349.3L1154.3,350.2L1154.6,351.1L1155.0,352.0L1155.4,353.0L1155.7,353.9L1156.1,354.8L1156.5,355.8L1156.8,356.7L1157.2,357.6L1157.5,358.6L1157.8,359.5L1158.2,360.5L1158.5,361.4L1158.8,362.3L1159.2,363.3L1159.5,364.2L1159.8,365.2L1160.2,366.1L1160.5,367.1L1160.8,368.0L1161.1,369.0L1161.4,369.9L1161.7,370.9L1162.0,371.8L1162.3,372.8L1162.6,373.7L1162.9,374.7L1163.2,375.6L1163.5,376.6L1163.8,377.5L1164.1,378.5L1164.4,379.5L1164.7,380.4L1165.0,381.4L1165.3,382.3L1165.6,383.3L1165.9,384.2L1166.1,385.2L1166.4,386.2L1166.7,387.1L1167.0,388.1L1167.3,389.0L1167.5,390.0L1167.8,391.0L1168.1,391.9L1168.3,392.9L1168.6,393.9L1168.9,394.8L1169.1,395.8L1169.4,396.7L1169.7,397.7L1169.9,398.7L1170.2,399.6L1170.5,400.6L1170.7,401.6L1171.0,402.5L1171.2,403.5L1171.5,404.5L1171.8,405.4L1172.0,406.4L1172.3,407.4L1172.5,408.3L1172.8,409.3L1173.0,410.3L1173.3,411.2L1173.5,412.2L1173.8,413.2L1174.0,414.1L1174.3,415.1L1174.5,416.1L1174.8,417.0L1175.0,418.0L1175.3,419.0L1175.5,420.0L1175.8,420.9L1176.0,421.9L1176.2,422.9L1176.5,423.8L1176.7,424.8L1177.0,425.8L1177.2,426.7L1177.4,427.7L1177.7,428.7L1177.9,429.7L1178.2,430.6L1178.4,431.6L1178.6,432.6L1178.9,433.5L1179.1,434.5L1179.3,435.5L1179.6,436.5L1179.8,437.4L1180.0,438.4L1180.3,439.4L1180.5,440.3L1180.7,441.3L1181.0,442.3L1181.2,443.3L1181.4,444.2L1181.7,445.2L1181.9,446.2L1182.1,447.2L1182.4,448.1L1182.6,449.1L1182.8,450.1L1183.1,451.0L1183.3,452.0L1183.5,453.0L1183.7,454.0L1184.0,454.9L1184.2,455.9L1184.4,456.9L1184.7,457.9L1184.9,458.8L1185.1,459.8L1185.4,460.8L1185.6,461.7L1185.8,462.7L1186.0,463.7L1186.3,464.7L1186.5,465.6L1186.7,466.6L1187.0,467.6L1187.2,468.6L1187.4,469.5L1187.7,470.5L1187.9,471.5L1188.1,472.4L1188.3,473.4L1188.6,474.4L1188.8,475.4L1189.0,476.3L1189.3,477.3L1189.5,478.3L1189.7,479.3L1190.0,480.2L1190.2,481.2L1190.4,482.2L1190.7,483.1L1190.9,484.1L1191.2,485.1L1191.4,486.1L1191.6,487.0L1191.9,488.0L1192.1,489.0L1192.3,489.9L1192.6,490.9L1192.8,491.9L1193.1,492.9L1193.3,493.8L1193.5,494.8L1193.8,495.8L1194.0,496.7L1194.3,497.7L1194.5,498.7L1194.8,499.6L1195.0,500.6L1195.3,501.6L1195.5,502.5L1195.8,503.5L1196.0,504.5L1196.3,505.5L1196.5,506.4L1196.8,507.4L1197.0,508.4L1197.3,509.3L1197.5,510.3L1197.8,511.3L1198.0,512.2L1198.3,513.2L1198.6,514.2L1198.8,515.1L1199.1,516.1L1199.4,517.0L1199.6,518.0L1199.9,519.0L1200.1,519.9L1200.4,520.9L1200.7,521.9L1201.0,522.8L1201.2,523.8L1201.5,524.8L1201.8,525.7L1202.0,526.7L1202.3,527.6L1202.6,528.6L1202.9,529.6L1203.2,530.5L1203.4,531.5L1203.7,532.4L1204.0,533.4L1204.3,534.3L1204.6,535.3L1204.9,536.3L1205.2,537.2L1205.5,538.2L1205.8,539.1L1206.1,540.1L1206.4,541.0L1206.7,542.0L1207.0,542.9L1207.3,543.9L1207.6,544.8L1207.9,545.8L1208.2,546.7L1208.5,547.7L1208.8,548.6L1209.1,549.6L1209.5,550.5L1209.8,551.5L1210.1,552.4L1210.4,553.4L1210.8,554.3L1211.1,555.3L1211.4,556.2L1211.8,557.1L1212.1,558.1L1212.5,559.0L1212.8,560.0L1213.2,560.9L1213.5,561.8L1213.9,562.8L1214.3,563.7L1214.6,564.6L1215.0,565.6L1215.4,566.5L1215.7,567.4L1216.1,568.3L1216.5,569.2L1216.9,570.2L1217.3,571.1L1217.7,572.0L1218.1,572.9L1218.5,573.8L1218.9,574.7L1219.4,575.6L1219.8,576.5L1220.2,577.4L1220.7,578.3L1221.1,579.2L1221.6,580.1L1222.0,581.0L1222.5,581.9L1223.0,582.8L1223.5,583.6L1224.0,584.5L1224.5,585.4L1225.0,586.2L1225.5,587.1L1226.1,587.9L1226.6,588.7L1227.2,589.6L1227.8,590.4L1228.4,591.2L1229.0,592.0L1229.6,592.8L1230.2,593.5L1230.9,594.3L1231.5,595.0L1232.2,595.8L1233.0,596.5L1233.7,597.1L1234.4,597.8L1235.2,598.4L1236.0,599.0L1236.8,599.6L1237.7,600.1L1238.5,600.6L1239.4,601.1L1240.4,601.5L1241.3,601.8L1242.2,602.1L1243.2,602.4L1244.2,602.5L1245.2,602.6L1246.2,602.7L1247.2,602.7L1248.2,602.6L1249.2,602.4L1250.1,602.1L1251.1,601.7L1252.0,601.3L1252.8,600.8L1253.7,600.2L1254.5,599.6L1255.2,599.0L1256.0,598.3L1256.7,597.6L1257.4,596.9L1258.0,596.2L1258.7,595.4L1259.3,594.6L1259.9,593.8L1260.5,593.0L1261.1,592.2L1261.6,591.3L1262.1,590.5L1262.7,589.6L1263.2,588.8L1263.7,587.9L1264.1,587.0L1264.6,586.2L1265.1,585.3L1265.5,584.4L1266.0,583.5L1266.4,582.6L1266.8,581.7L1267.3,580.8L1267.7,579.9L1268.1,578.9L1268.5,578.0L1268.9,577.1L1269.3,576.2L1269.7,575.3L1270.1,574.4L1270.4,573.4L1270.8,572.5L1271.2,571.6L1271.6,570.6L1271.9,569.7L1272.3,568.8L1272.7,567.9L1273.0,566.9L1273.4,566.0L1273.7,565.1L1274.1,564.1L1274.4,563.2L1274.8,562.2L1275.1,561.3L1275.5,560.4L1275.8,559.4L1276.2,558.5L1276.5,557.6L1276.9,556.6L1277.2,555.7L1277.6,554.7L1277.9,553.8L1278.2,552.9L1278.6,551.9L1278.9,551.0L1279.3,550.0L1279.6,549.1L1279.9,548.2L1280.3,547.2L1280.6,546.3L1280.9,545.3L1281.3,544.4L1281.6,543.5L1282.0,542.5L1282.3,541.6L1282.6,540.6L1283.0,539.7L1283.3,538.7L1283.6,537.8L1284.0,536.9L1284.3,535.9L1284.6,535.0L1285.0,534.0L1285.3,533.1L1285.6,532.1L1286.0,531.2L1286.3,530.3L1286.6,529.3L1287.0,528.4L1287.3,527.4L1287.6,526.5L1287.9,525.5L1288.3,524.6L1288.6,523.7L1288.9,522.7L1289.3,521.8L1289.6,520.8L1289.9,519.9L1290.2,518.9L1290.6,518.0L1290.9,517.0L1291.2,516.1L1291.6,515.2L1291.9,514.2L1292.2,513.3L1292.5,512.3L1292.9,511.4L1293.2,510.4L1293.5,509.5L1293.9,508.5L1294.2,507.6L1294.5,506.7L1294.8,505.7L1295.2,504.8L1295.5,503.8L1295.8,502.9L1296.1,501.9L1296.5,501.0L1296.8,500.0L1297.1,499.1L1297.4,498.1L1297.8,497.2L1298.1,496.3L1298.4,495.3L1298.8,494.4L1299.1,493.4L1299.4,492.5L1299.7,491.5L1300.1,490.6L1300.4,489.6L1300.7,488.7L1301.0,487.8L1301.4,486.8L1301.7,485.9L1302.0,484.9L1302.3,484.0L1302.7,483.0L1303.0,482.1L1303.3,481.1L1303.7,480.2L1304.0,479.2L1304.3,478.3L1304.6,477.4L1305.0,476.4L1305.3,475.5L1305.6,474.5L1306.0,473.6L1306.3,472.6L1306.6,471.7L1306.9,470.8L1307.3,469.8L1307.6,468.9L1307.9,467.9L1308.3,467.0L1308.6,466.0L1308.9,465.1L1309.3,464.1L1309.6,463.2L1309.9,462.3L1310.3,461.3L1310.6,460.4L1310.9,459.4L1311.3,458.5L1311.6,457.6L1312.0,456.6L1312.3,455.7L1312.6,454.7L1313.0,453.8L1313.3,452.9L1313.7,451.9L1314.0,451.0L1314.3,450.0L1314.7,449.1L1315.0,448.2L1315.4,447.2L1315.7,446.3L1316.1,445.3L1316.4,444.4L1316.8,443.5L1317.1,442.5L1317.5,441.6L1317.8,440.7L1318.2,439.7L1318.5,438.8L1318.9,437.9L1319.2,436.9L1319.6,436.0L1320.0,435.1L1320.3,434.1L1320.7,433.2L1321.0,432.3L1321.4,431.3L1321.8,430.4L1322.1,429.5L1322.5,428.5L1322.9,427.6L1323.3,426.7L1323.6,425.8L1324.0,424.8L1324.4,423.9L1324.8,423.0L1325.1,422.1L1325.5,421.1L1325.9,420.2L1326.3,419.3L1326.7,418.4L1327.1,417.5L1327.5,416.5L1327.9,415.6L1328.3,414.7L1328.7,413.8L1329.1,412.9L1329.6,412.0L1330.0,411.1L1330.4,410.2L1330.8,409.3L1331.3,408.4L1331.7,407.5L1332.2,406.6L1332.6,405.7L1333.1,404.8L1333.6,403.9L1334.0,403.0L1334.5,402.2L1335.0,401.3L1335.5,400.4L1336.0,399.6L1336.5,398.7L1337.1,397.9L1337.6,397.0L1338.2,396.2L1338.7,395.4L1339.3,394.6L1339.9,393.8L1340.6,393.0L1341.2,392.2L1341.9,391.5L1342.5,390.7L1343.2,390.0L1344.0,389.4L1344.7,388.7L1345.5,388.1L1346.3,387.5L1347.2,386.9L1348.0,386.4L1348.9,386.0L1349.8,385.6L1350.8,385.3L1351.7,385.0L1352.7,384.8L1353.7,384.7L1354.7,384.7L1355.7,384.7L1356.7,384.8L1357.7,384.9L1358.7,385.1L1359.7,385.4L1360.6,385.7L1361.5,386.0L1362.5,386.5L1363.3,386.9L1364.2,387.4L1365.0,388.0L1365.9,388.6L1366.6,389.2L1367.4,389.8L1368.1,390.5L1368.8,391.2L1369.5,392.0L1370.2,392.7L1370.8,393.5L1371.4,394.3L1372.0,395.1L1372.6,395.9L1373.2,396.7L1373.7,397.5L1374.3,398.4L1374.8,399.2L1375.3,400.1L1375.8,401.0L1376.3,401.8L1376.8,402.7L1377.2,403.6L1377.7,404.5L1378.2,405.4L1378.6,406.2L1379.1,407.1L1379.5,408.0L1380.0,408.9L1380.4,409.8L1380.8,410.7L1381.2,411.6L1381.7,412.6L1382.1,413.5L1382.5,414.4L1382.9,415.3L1383.3,416.2L1383.7,417.1L1384.1,418.0L1384.5,418.9L1384.9,419.9L1385.3,420.8L1385.7,421.7L1386.1,422.6L1386.4,423.5L1386.8,424.5L1387.2,425.4L1387.6,426.3L1388.0,427.2L1388.4,428.2L1388.7,429.1L1389.1,430.0L1389.5,431.0L1389.8,431.9L1390.2,432.8L1390.6,433.7L1390.9,434.7L1391.3,435.6L1391.7,436.5L1392.0,437.5L1392.4,438.4L1392.7,439.3L1393.1,440.3L1393.4,441.2L1393.7,442.2L1394.1,443.1L1394.4,444.1L1394.7,445.0L1395.1,445.9L1395.4,446.9L1395.7,447.8L1396.0,448.8L1396.3,449.7L1396.6,450.7L1396.9,451.6L1397.2,452.6L1397.5,453.5L1397.8,454.5L1398.1,455.5L1398.4,456.4L1398.7,457.4L1399.0,458.3L1399.3,459.3L1399.5,460.3L1399.8,461.2L1400.1,462.2L1400.3,463.1L1400.6,464.1L1400.9,465.1L1401.1,466.0L1401.4,467.0L1401.6,468.0L1401.9,468.9L1402.1,469.9L1402.4,470.9L1402.6,471.8L1402.9,472.8L1403.1,473.8L1403.4,474.8L1403.6,475.7L1403.9,476.7L1404.1,477.7L1404.3,478.6L1404.6,479.6L1404.8,480.6L1405.0,481.6L1405.2,482.5L1405.5,483.5L1405.7,484.5L1405.9,485.4L1406.2,486.4L1406.4,487.4L1406.6,488.4L1406.8,489.3L1407.0,490.3L1407.3,491.3L1407.5,492.3L1407.7,493.2L1407.9,494.2L1408.1,495.2L1408.3,496.2L1408.6,497.2L1408.8,498.1L1409.0,499.1L1409.2,500.1L1409.4,501.1L1409.6,502.0L1409.8,503.0L1410.0,504.0L1410.3,505.0L1410.5,505.9L1410.7,506.9L1410.9,507.9L1411.1,508.9L1411.3,509.9L1411.5,510.8L1411.7,511.8L1411.9,512.8L1412.1,513.8L1412.3,514.8L1412.5,515.7L1412.7,516.7L1412.9,517.7L1413.1,518.7L1413.3,519.6L1413.5,520.6L1413.7,521.6L1413.9,522.6L1414.1,523.6L1414.3,524.5L1414.5,525.5L1414.7,526.5L1414.9,527.5L1415.1,528.5L1415.3,529.4L1415.5,530.4L1415.7,531.4L1415.9,532.4L1416.1,533.4L1416.3,534.3L1416.5,535.3L1416.7,536.3L1416.9,537.3L1417.1,538.3L1417.3,539.2L1417.5,540.2L1417.7,541.2L1417.9,542.2L1418.1,543.2L1418.3,544.1L1418.5,545.1L1418.7,546.1L1418.9,547.1L1419.1,548.1L1419.3,549.0L1419.5,550.0L1419.7,551.0L1419.9,552.0L1420.1,553.0L1420.3,553.9L1420.5,554.9L1420.7,555.9L1420.9,556.9L1421.1,557.9L1421.3,558.8L1421.5,559.8L1421.7,560.8L1421.9,561.8L1422.1,562.8L1422.3,563.7L1422.5,564.7L1422.7,565.7L1422.9,566.7L1423.1,567.7L1423.3,568.6L1423.5,569.6L1423.7,570.6L1423.9,571.6L1424.1,572.6L1424.3,573.5L1424.5,574.5L1424.7,575.5L1424.8,576.5L1425.0,577.5L1425.2,578.4L1425.4,579.4L1425.6,580.4L1425.8,581.4L1426.0,582.4L1426.2,583.4L1426.4,584.3L1426.6,585.3L1426.8,586.3L1426.9,587.3L1427.1,588.3L1427.3,589.2L1427.5,590.2L1427.7,591.2L1427.9,592.2L1428.1,593.2L1428.3,594.2L1428.4,595.1L1428.6,596.1L1428.8,597.1L1429.0,598.1L1429.2,599.1L1429.4,600.0L1429.6,601.0L1429.7,602.0L1429.9,603.0L1430.1,604.0L1430.3,605.0L1430.5,605.9L1430.6,606.9L1430.8,607.9L1431.0,608.9L1431.2,609.9L1431.4,610.9L1431.5,611.8L1431.7,612.8L1431.9,613.8L1432.1,614.8L1432.3,615.8L1432.4,616.8L1432.6,617.8L1432.8,618.7L1433.0,619.7L1433.1,620.7L1433.3,621.7L1433.5,622.7L1433.6,623.7L1433.8,624.6L1434.0,625.6L1434.2,626.6L1434.3,627.6L1434.5,628.6L1434.7,629.6L1434.8,630.6L1435.0,631.5L1435.2,632.5L1435.4,633.5L1435.5,634.5L1435.7,635.5L1435.9,636.5L1436.0,637.5L1436.2,638.4L1436.4,639.4L1436.5,640.4L1436.7,641.4L1436.8,642.4L1437.0,643.4L1437.2,644.4L1437.3,645.3L1437.5,646.3L1437.7,647.3L1437.8,648.3L1438.0,649.3L1438.2,650.3L1438.3,651.3L1438.5,652.2L1438.6,653.2L1438.8,654.2L1439.0,655.2L1439.1,656.2L1439.3,657.2L1439.4,658.2L1439.6,659.2L1439.8,660.1L1439.9,661.1L1440.1,662.1L1440.2,663.1L1440.4,664.1L1440.6,665.1L1440.7,666.1L1440.9,667.1L1441.0,668.0L1441.2,669.0L1441.4,670.0L1441.5,671.0L1441.7,672.0L1441.8,673.0L1442.0,674.0L1442.1,674.9L1442.3,675.9L1442.5,676.9L1442.6,677.9L1442.8,678.9L1442.9,679.9L1443.1,680.9L1443.2,681.9L1443.4,682.8L1443.6,683.8L1443.7,684.8L1443.9,685.8L1444.0,686.8L1444.2,687.8L1444.3,688.8L1444.5,689.8L1444.6,690.8L1444.8,691.7L1445.0,692.7L1445.1,693.7L1445.3,694.7L1445.4,695.7L1445.6,696.7L1445.7,697.7L1445.9,698.7L1446.0,699.6L1446.2,700.6L1446.4,701.6L1446.5,702.6L1446.7,703.6L1446.8,704.6L1447.0,705.6L1447.1,706.6L1447.3,707.5L1447.4,708.5L1447.6,709.5L1447.7,710.5L1447.9,711.5L1448.1,712.5L1448.2,713.5L1448.4,714.5L1448.5,715.4L1448.7,716.4L1448.8,717.4L1449.0,718.4L1449.1,719.4L1449.3,720.4L1449.4,721.4L1449.6,722.4L1449.8,723.3L1449.9,724.3L1450.1,725.3L1450.2,726.3L1450.4,727.3L1450.5,728.3L1450.7,729.3L1450.8,730.3L1451.0,731.3L1451.1,732.2L1451.3,733.2L1451.4,734.2L1451.6,735.2L1451.8,736.2L1451.9,737.2L1452.1,738.2L1452.2,739.2L1452.4,740.1L1452.5,741.1L1452.7,742.1L1452.8,743.1L1453.0,744.1L1453.1,745.1L1453.3,746.1L1453.4,747.1L1453.6,748.0L1453.8,749.0L1453.9,750.0L1454.1,751.0L1454.2,752.0L1454.4,753.0L1454.5,754.0L1454.7,755.0L1454.8,755.9L1455.0,756.9L1455.1,757.9L1455.3,758.9L1455.4,759.9L1455.6,760.9L1455.7,761.9L1455.9,762.9L1456.0,763.9L1456.2,764.8L1456.4,765.8L1456.5,766.8L1456.7,767.8L1456.8,768.8L1457.0,769.8L1457.1,770.8L1457.3,771.8L1457.4,772.7L1457.6,773.7L1457.7,774.7L1457.9,775.7L1458.0,776.7L1458.2,777.7L1458.3,778.7L1458.5,779.7L1458.6,780.7L1458.8,781.6L1458.9,782.6L1459.1,783.6L1459.2,784.6L1459.4,785.6L1459.5,786.6L1459.7,787.6L1459.8,788.6L1460.0,789.5L1460.1,790.5L1460.3,791.5L1460.4,792.5L1460.6,793.5L1460.7,794.5L1460.9,795.5L1461.1,796.5L1461.2,797.5L1461.4,798.4L1461.5,799.4L1461.7,800.4L1461.8,801.4L1462.0,802.4L1462.1,803.4L1462.3,804.4L1462.4,805.4L1462.6,806.3L1462.7,807.3L1462.9,808.3L1463.0,809.3L1463.2,810.3L1463.3,811.3L1463.5,812.3L1463.6,813.3L1463.8,814.3L1463.9,815.2L1464.1,816.2L1464.2,817.2L1464.4,818.2L1464.5,819.2L1464.7,820.2L1464.8,821.2L1465.0,822.2L1465.1,823.2L1465.3,824.1L1465.4,825.1L1465.6,826.1L1465.7,827.1L1465.9,828.1L1466.0,829.1L1466.2,830.1L1466.3,831.1L1466.5,832.1L1466.6,833.0L1466.8,834.0L1466.9,835.0L1467.1,836.0L1467.2,837.0L1467.4,838.0L1467.5,839.0L1467.7,840.0L1467.8,840.9L1468.0,841.9L1468.1,842.9L1468.3,843.9L1468.4,844.9L1468.6,845.9L1468.7,846.9L1468.9,847.9L1469.1,848.8L1469.2,849.8L1469.4,850.8L1469.5,851.8L1469.7,852.8L1469.8,853.8L1470.0,854.8L1470.1,855.8L1470.3,856.7L1470.5,857.7L1470.6,858.7L1470.8,859.7L1470.9,860.7L1471.1,861.7L1471.3,862.7L1471.4,863.7L1471.6,864.6L1471.7,865.6L1471.9,866.6L1472.1,867.6L1472.3,868.6L1472.5,869.6L1472.6,870.5L1472.8,871.5L1473.0,872.5L1473.2,873.5L1473.5,874.5L1473.7,875.4L1473.9,876.4L1474.2,877.4L1474.5,878.3L1474.9,879.2L1475.4,880.1L1476.3,880.5L1477.0,879.9L1477.6,879.0L1478.0,878.1L1478.3,877.2L1478.6,876.2L1478.8,875.2L1479.1,874.3L1479.3,873.3L1479.5,872.3L1479.7,871.3L1479.8,870.3L1480.0,869.3L1480.2,868.4L1480.3,867.4L1480.5,866.4L1480.6,865.4L1480.7,864.4L1480.9,863.4L1481.0,862.4L1481.1,861.4L1481.2,860.4L1481.3,859.4L1481.4,858.4L1481.6,857.5L1481.7,856.5L1481.8,855.5L1481.9,854.5L1482.0,853.5L1482.1,852.5L1482.2,851.5L1482.3,850.5L1482.3,849.5L1482.4,848.5L1482.5,847.5L1482.6,846.5L1482.7,845.5L1482.8,844.5L1482.9,843.5L1482.9,842.5L1483.0,841.5L1483.1,840.5L1483.2,839.5L1483.3,838.5L1483.3,837.5L1483.4,836.5L1483.5,835.5L1483.6,834.5L1483.6,833.5L1483.7,832.5L1483.8,831.6L1483.8,830.6L1483.9,829.6L1484.0,828.6L1484.1,827.6L1484.1,826.6L1484.2,825.6L1484.3,824.6L1484.3,823.6L1484.4,822.6L1484.5,821.6L1484.5,820.6L1484.6,819.6L1484.6,818.6L1484.7,817.6L1484.8,816.6L1484.8,815.6L1484.9,814.6L1485.0,813.6L1485.0,812.6L1485.1,811.6L1485.1,810.6L1485.2,809.6L1485.3,808.6L1485.3,807.6L1485.4,806.6L1485.4,805.6L1485.5,804.6L1485.5,803.6L1485.6,802.6L1485.7,801.6L1485.7,800.6L1485.8,799.6L1485.8,798.6L1485.9,797.6L1485.9,796.6L1486.0,795.6L1486.0,794.6L1486.1,793.6L1486.2,792.6L1486.2,791.6L1486.3,790.6L1486.3,789.6L1486.4,788.6L1486.4,787.6L1486.5,786.6L1486.5,785.6L1486.6,784.6L1486.6,783.6L1486.7,782.6L1486.7,781.6L1486.8,780.6L1486.8,779.7L1486.9,778.7L1486.9,777.7L1487.0,776.7L1487.0,775.7L1487.1,774.7L1487.1,773.7L1487.2,772.7L1487.2,771.7L1487.3,770.7L1487.3,769.7L1487.4,768.7L1487.4,767.7L1487.5,766.7L1487.5,765.7L1487.6,764.7L1487.6,763.7L1487.7,762.7L1487.7,761.7L1487.8,760.7L1487.8,759.7L1487.8,758.7L1487.9,757.7L1487.9,756.7L1488.0,755.7L1488.0,754.7L1488.1,753.7L1488.1,752.7L1488.2,751.7L1488.2,750.7L1488.3,749.7L1488.3,748.7L1488.4,747.7L1488.4,746.7L1488.4,745.7L1488.5,744.7L1488.5,743.7L1488.6,742.7L1488.6,741.7L1488.7,740.7L1488.7,739.7L1488.8,738.7L1488.8,737.7L1488.9,736.7L1488.9,735.7L1488.9,734.7L1489.0,733.7L1489.0,732.7L1489.1,731.7L1489.1,730.7L1489.2,729.7L1489.2,728.7L1489.3,727.7L1489.3,726.7L1489.3,725.7L1489.4,724.7L1489.4,723.7L1489.5,722.7L1489.5,721.7L1489.6,720.7L1489.6,719.7L1489.6,718.7L1489.7,717.7L1489.7,716.7L1489.8,715.7L1489.8,714.7L1489.9,713.7L1489.9,712.7L1490.0,711.7L1490.0,710.7L1490.0,709.7L1490.1,708.7L1490.1,707.7L1490.2,706.7L1490.2,705.7L1490.3,704.7L1490.3,703.7L1490.3,702.7L1490.4,701.7L1490.4,700.7L1490.5,699.7L1490.5,698.8L1490.6,697.8L1490.6,696.8L1490.6,695.8L1490.7,694.8L1490.7,693.8L1490.8,692.8L1490.8,691.8L1490.9,690.8L1490.9,689.8L1490.9,688.8L1491.0,687.8L1491.0,686.8L1491.1,685.8L1491.1,684.8L1491.1,683.8L1491.2,682.8L1491.2,681.8L1491.3,680.8L1491.3,679.8L1491.4,678.8L1491.4,677.8L1491.4,676.8L1491.5,675.8L1491.5,674.8L1491.6,673.8L1491.6,672.8L1491.6,671.8L1491.7,670.8L1491.7,669.8L1491.8,668.8L1491.8,667.8L1491.9,666.8L1491.9,665.8L1491.9,664.8L1492.0,663.8L1492.0,662.8L1492.1,661.8L1492.1,660.8L1492.1,659.8L1492.2,658.8L1492.2,657.8L1492.3,656.8L1492.3,655.8L1492.3,654.8L1492.4,653.8L1492.4,652.8L1492.5,651.8L1492.5,650.8L1492.6,649.8L1492.6,648.8L1492.6,647.8L1492.7,646.8L1492.7,645.8L1492.8,644.8L1492.8,643.8L1492.8,642.8L1492.9,641.8L1492.9,640.8L1493.0,639.8L1493.0,638.8L1493.0,637.8L1493.1,636.8L1493.1,635.8L1493.2,634.8L1493.2,633.8L1493.2,632.8L1493.3,631.8L1493.3,630.8L1493.4,629.8L1493.4,628.8L1493.4,627.8L1493.5,626.8L1493.5,625.8L1493.6,624.8L1493.6,623.8L1493.6,622.8L1493.7,621.8L1493.7,620.8L1493.7,619.8L1493.8,618.8L1493.8,617.8L1493.9,616.8L1493.9,615.8L1493.9,614.8L1494.0,613.8L1494.0,612.8L1494.1,611.8L1494.1,610.8L1494.1,609.8L1494.2,608.8L1494.2,607.8L1494.3,606.8L1494.3,605.8L1494.3,604.8L1494.4,603.8L1494.4,602.8L1494.4,601.8L1494.5,600.8L1494.5,599.9L1494.6,598.9L1494.6,597.9L1494.6,596.9L1494.7,595.9L1494.7,594.9L1494.8,593.9L1494.8,592.9L1494.8,591.9L1494.9,590.9L1494.9,589.9L1494.9,588.9L1495.0,587.9L1495.0,586.9L1495.1,585.9L1495.1,584.9L1495.1,583.9L1495.2,582.9L1495.2,581.9L1495.3,580.9L1495.3,579.9L1495.3,578.9L1495.4,577.9L1495.4,576.9L1495.4,575.9L1495.5,574.9L1495.5,573.9L1495.6,572.9L1495.6,571.9L1495.6,570.9L1495.7,569.9L1495.7,568.9L1495.7,567.9L1495.8,566.9L1495.8,565.9L1495.9,564.9L1495.9,563.9L1495.9,562.9L1496.0,561.9L1496.0,560.9L1496.0,559.9L1496.1,558.9L1496.1,557.9L1496.2,556.9L1496.2,555.9L1496.2,554.9L1496.3,553.9L1496.3,552.9L1496.4,551.9L1496.4,550.9L1496.4,549.9L1496.5,548.9L1496.5,547.9L1496.5,546.9L1496.6,545.9L1496.6,544.9L1496.7,543.9L1496.7,542.9L1496.7,541.9L1496.8,540.9L1496.8,539.9L1496.8,538.9L1496.9,537.9L1496.9,536.9L1497.0,535.9L1497.0,534.9L1497.0,533.9L1497.1,532.9L1497.1,531.9L1497.1,530.9L1497.2,529.9L1497.2,528.9L1497.3,527.9L1497.3,526.9L1497.3,525.9L1497.4,524.9L1497.4,523.9L1497.4,522.9L1497.5,521.9L1497.5,520.9L1497.6,519.9L1497.6,518.9L1497.6,517.9L1497.7,516.9L1497.7,515.9L1497.7,514.9L1497.8,513.9L1497.8,512.9L1497.9,511.9L1497.9,510.9L1497.9,509.9L1498.0,508.9L1498.0,507.9L1498.1,506.9L1498.1,505.9L1498.1,504.9L1498.2,503.9L1498.2,502.9L1498.2,501.9L1498.3,500.9L1498.3,499.9L1498.4,498.9L1498.4,497.9L1498.4,496.9L1498.5,495.9L1498.5,494.9L1498.5,493.9L1498.6,492.9L1498.6,491.9L1498.7,490.9L1498.7,489.9L1498.7,489.0L1498.8,488.0L1498.8,487.0L1498.9,486.0L1498.9,485.0L1498.9,484.0L1499.0,483.0L1499.0,482.0L1499.0,481.0L1499.1,480.0L1499.1,479.0L1499.2,478.0L1499.2,477.0L1499.2,476.0L1499.3,475.0L1499.3,474.0L1499.4,473.0L1499.4,472.0L1499.4,471.0L1499.5,470.0L1499.5,469.0L1499.6,468.0L1499.6,467.0L1499.6,466.0L1499.7,465.0L1499.7,464.0L1499.8,463.0L1499.8,462.0L1499.8,461.0L1499.9,460.0L1499.9,459.0L1499.9,458.0L1500.0,457.0L1500.0,456.0L1500.1,455.0L1500.1,454.0L1500.1,453.0L1500.2,452.0L1500.2,451.0L1500.3,450.0L1500.3,449.0L1500.3,448.0L1500.4,447.0L1500.4,446.0L1500.5,445.0L1500.5,444.0L1500.5,443.0L1500.6,442.0L1500.6,441.0L1500.7,440.0L1500.7,439.0L1500.7,438.0L1500.8,437.0L1500.8,436.0L1500.9,435.0L1500.9,434.0L1501.0,433.0L1501.0,432.0L1501.0,431.0L1501.1,430.0L1501.1,429.0L1501.2,428.0L1501.2,427.0L1501.2,426.0L1501.3,425.0L1501.3,424.0L1501.4,423.0L1501.4,422.0L1501.4,421.0L1501.5,420.0L1501.5,419.0L1501.6,418.0L1501.6,417.0L1501.7,416.0L1501.7,415.0L1501.7,414.0L1501.8,413.0L1501.8,412.0L1501.9,411.0L1501.9,410.0L1502.0,409.0L1502.0,408.0L1502.0,407.0L1502.1,406.0L1502.1,405.0L1502.2,404.0L1502.2,403.0L1502.3,402.0L1502.3,401.0L1502.3,400.0L1502.4,399.0L1502.4,398.0L1502.5,397.0L1502.5,396.0L1502.6,395.0L1502.6,394.0L1502.6,393.0L1502.7,392.0L1502.7,391.1L1502.8,390.1L1502.8,389.1L1502.9,388.1L1502.9,387.1L1503.0,386.1L1503.0,385.1L1503.1,384.1L1503.1,383.1L1503.1,382.1L1503.2,381.1L1503.2,380.1L1503.3,379.1L1503.3,378.1L1503.4,377.1L1503.4,376.1L1503.5,375.1L1503.5,374.1L1503.6,373.1L1503.6,372.1L1503.7,371.1L1503.7,370.1L1503.7,369.1L1503.8,368.1L1503.8,367.1L1503.9,366.1L1503.9,365.1L1504.0,364.1L1504.0,363.1L1504.1,362.1L1504.1,361.1L1504.2,360.1L1504.2,359.1L1504.3,358.1L1504.3,357.1L1504.4,356.1L1504.4,355.1L1504.5,354.1L1504.5,353.1L1504.6,352.1L1504.6,351.1L1504.7,350.1L1504.7,349.1L1504.8,348.1L1504.8,347.1L1504.9,346.1L1504.9,345.1L1505.0,344.1L1505.0,343.1L1505.1,342.1L1505.1,341.1L1505.2,340.1L1505.3,339.1L1505.3,338.1L1505.4,337.1L1505.4,336.1L1505.5,335.1L1505.5,334.1L1505.6,333.1L1505.6,332.1L1505.7,331.1L1505.7,330.1L1505.8,329.1L1505.9,328.1L1505.9,327.1L1506.0,326.1L1506.0,325.1L1506.1,324.1L1506.2,323.1L1506.2,322.2L1506.3,321.2L1506.3,320.2L1506.4,319.2L1506.4,318.2L1506.5,317.2L1506.6,316.2L1506.6,315.2L1506.7,314.2L1506.8,313.2L1506.8,312.2L1506.9,311.2L1506.9,310.2L1507.0,309.2L1507.1,308.2L1507.1,307.2L1507.2,306.2L1507.3,305.2L1507.3,304.2L1507.4,303.2L1507.5,302.2L1507.6,301.2L1507.6,300.2L1507.7,299.2L1507.8,298.2L1507.8,297.2L1507.9,296.2L1508.0,295.2L1508.1,294.2L1508.1,293.2L1508.2,292.2L1508.3,291.2L1508.4,290.2L1508.4,289.2L1508.5,288.2L1508.6,287.2L1508.7,286.2L1508.8,285.2L1508.8,284.3L1508.9,283.3L1509.0,282.3L1509.1,281.3L1509.2,280.3L1509.2,279.3L1509.3,278.3L1509.4,277.3L1509.5,276.3L1509.6,275.3L1509.7,274.3L1509.8,273.3L1509.9,272.3L1510.0,271.3L1510.0,270.3L1510.1,269.3L1510.2,268.3L1510.3,267.3L1510.4,266.3L1510.5,265.3L1510.6,264.3L1510.7,263.3L1510.8,262.3L1510.9,261.3L1511.0,260.4L1511.1,259.4L1511.2,258.4L1511.3,257.4L1511.4,256.4L1511.5,255.4L1511.6,254.4L1511.7,253.4L1511.8,252.4L1512.0,251.4L1512.1,250.4L1512.2,249.4L1512.3,248.4L1512.4,247.4L1512.5,246.4L1512.6,245.4L1512.7,244.4L1512.8,243.5L1512.9,242.5L1513.1,241.5L1513.2,240.5L1513.3,239.5L1513.4,238.5L1513.5,237.5L1513.6,236.5L1513.8,235.5L1513.9,234.5L1514.0,233.5L1514.1,232.5L1514.2,231.5L1514.4,230.5L1514.5,229.6L1514.6,228.6L1514.7,227.6L1514.9,226.6L1515.0,225.6L1515.1,224.6L1515.2,223.6L1515.4,222.6L1515.5,221.6L1515.6,220.6L1515.8,219.6L1515.9,218.7L1516.1,217.7L1516.2,216.7L1516.3,215.7L1516.5,214.7L1516.6,213.7L1516.8,212.7L1516.9,211.7L1517.1,210.7L1517.2,209.7L1517.4,208.8L1517.5,207.8L1517.7,206.8L1517.8,205.8L1518.0,204.8L1518.1,203.8L1518.3,202.8L1518.5,201.8L1518.6,200.9L1518.8,199.9L1519.0,198.9L1519.2,197.9L1519.3,196.9L1519.5,195.9L1519.7,195.0L1519.9,194.0L1520.1,193.0L1520.3,192.0L1520.5,191.0L1520.7,190.1L1520.9,189.1L1521.1,188.1L1521.3,187.1L1521.5,186.2L1521.8,185.2L1522.0,184.2L1522.2,183.2L1522.5,182.3L1522.7,181.3L1523.0,180.3L1523.3,179.4L1523.5,178.4L1523.8,177.5L1524.1,176.5L1524.4,175.5L1524.7,174.6L1525.1,173.6L1525.4,172.7L1525.7,171.8L1526.1,170.8L1526.5,169.9L1526.9,169.0L1527.3,168.1L1527.7,167.2L1528.2,166.3L1528.6,165.4L1529.1,164.5L1529.6,163.7L1530.1,162.8L1530.7,162.0L1531.2,161.1L1531.8,160.3L1532.4,159.5L1533.1,158.8L1533.7,158.0L1534.4,157.3L1535.1,156.6L1535.9,155.9L1536.7,155.3L1537.5,154.8L1538.4,154.3L1539.3,153.8L1540.2,153.5L1541.2,153.1L1542.1,152.9L1543.1,152.7L1544.1,152.6L1545.1,152.6L1546.1,152.6L1547.1,152.7L1548.1,152.9L1549.1,153.1L1550.0,153.4L1551.0,153.7L1551.9,154.1L1552.8,154.5L1553.7,154.9L1554.6,155.4L1555.4,155.9L1556.3,156.5L1557.1,157.0L1557.9,157.6L1558.7,158.2L1559.5,158.8L1560.2,159.5L1561.0,160.1L1561.7,160.8L1562.5,161.5L1563.2,162.2L1563.9,162.9L1564.6,163.6L1565.3,164.4L1566.0,165.1L1566.6,165.8L1567.3,166.6L1567.9,167.3L1568.6,168.1L1569.2,168.9L1569.9,169.6L1570.5,170.4L1571.1,171.2L1571.7,172.0L1572.3,172.8L1572.9,173.6L1573.5,174.4L1574.1,175.2L1574.7,176.0L1575.3,176.8L1575.9,177.6L1576.4,178.4L1577.0,179.3L1577.6,180.1L1578.1,180.9L1578.7,181.8L1579.2,182.6L1579.8,183.4L1580.3,184.3L1580.9,185.1L1581.4,185.9L1581.9,186.8L1582.5,187.6L1583.0,188.5L1583.5,189.4L1584.0,190.2L1584.5,191.1L1585.1,191.9L1585.6,192.8L1586.1,193.7L1586.6,194.5L1587.1,195.4L1587.6,196.3L1588.0,197.1L1588.5,198.0L1589.0,198.9L1589.5,199.7L1590.0,200.6L1590.5,201.5L1590.9,202.4L1591.4,203.3L1591.9,204.1L1592.3,205.0L1592.8,205.9L1593.3,206.8L1593.7,207.7L1594.2,208.6L1594.6,209.5L1595.1,210.4L1595.5,211.3L1596.0,212.2L1596.4,213.1L1596.9,214.0L1597.3,214.9L1597.7,215.7L1598.2,216.6L1598.6,217.6L1599.0,218.5L1599.5,219.4L1599.9,220.3L1600.3,221.2L1600.7,222.1L1601.2,223.0L1601.6,223.9L1602.0,224.8L1602.4,225.7L1602.8,226.6L1603.2,227.5L1603.6,228.4L1604.0,229.4L1604.4,230.3L1604.8,231.2L1605.2,232.1L1605.6,233.0L1606.0,233.9L1606.4,234.9L1606.8,235.8L1607.2,236.7L1607.6,237.6L1608.0,238.5L1608.4,239.5L1608.8,240.4L1609.1,241.3L1609.5,242.2L1609.9,243.2L1610.3,244.1L1610.6,245.0L1611.0,246.0L1611.4,246.9L1611.7,247.8L1612.1,248.8L1612.4,249.7L1612.8,250.6L1613.1,251.6L1613.5,252.5L1613.8,253.4L1614.2,254.4L1614.5,255.3L1614.8,256.3L1615.2,257.2L1615.5,258.1L1615.8,259.1L1616.2,260.0L1616.5,261.0L1616.8,261.9L1617.1,262.9L1617.5,263.8L1617.8,264.8L1618.1,265.7L1618.4,266.7L1618.7,267.6L1619.0,268.6L1619.3,269.5L1619.6,270.5L1619.9,271.4L1620.2,272.4L1620.5,273.3L1620.8,274.3L1621.1,275.2L1621.4,276.2L1621.7,277.2L1622.0,278.1L1622.3,279.1L1622.6,280.0L1622.8,281.0L1623.1,281.9L1623.4,282.9L1623.7,283.9L1624.0,284.8L1624.3,285.8L1624.6,286.7L1624.9,287.7L1625.1,288.6L1625.4,289.6L1625.7,290.6L1626.0,291.5L1626.3,292.5L1626.6,293.4L1626.9,294.4L1627.2,295.3L1627.5,296.3L1627.7,297.3L1628.0,298.2L1628.3,299.2L1628.6,300.1L1628.9,301.1L1629.2,302.0L1629.5,303.0L1629.8,303.9L1630.1,304.9L1630.4,305.8L1630.7,306.8L1631.0,307.8L1631.3,308.7L1631.7,309.7L1632.0,310.6L1632.3,311.5L1632.6,312.5L1632.9,313.4L1633.3,314.4L1633.6,315.3L1633.9,316.3L1634.2,317.2L1634.6,318.2L1634.9,319.1L1635.2,320.1L1635.6,321.0L1635.9,321.9L1636.3,322.9L1636.6,323.8L1636.9,324.8L1637.3,325.7L1637.6,326.6L1638.0,327.6L1638.3,328.5L1638.7,329.4L1639.0,330.4L1639.4,331.3L1639.7,332.3L1640.1,333.2L1640.4,334.1L1640.8,335.1L1641.1,336.0L1641.5,336.9L1641.9,337.9L1642.2,338.8L1642.6,339.7L1642.9,340.7L1643.3,341.6L1643.6,342.5L1644.0,343.5L1644.3,344.4L1644.7,345.3L1645.0,346.3L1645.4,347.2L1645.8,348.1L1646.1,349.1L1646.5,350.0L1646.8,351.0L1647.2,351.9L1647.5,352.8L1647.9,353.8L1648.2,354.7L1648.5,355.6L1648.9,356.6L1649.2,357.5L1649.6,358.5L1649.9,359.4L1650.3,360.3L1650.6,361.3L1651.0,362.2L1651.3,363.1L1651.7,364.1L1652.0,365.0L1652.4,366.0L1652.7,366.9L1653.1,367.8L1653.4,368.8L1653.8,369.7L1654.1,370.6L1654.5,371.6L1654.8,372.5L1655.2,373.4L1655.5,374.4L1655.9,375.3L1656.2,376.2L1656.6,377.2L1657.0,378.1L1657.3,379.0L1657.7,380.0L1658.1,380.9L1658.4,381.8L1658.8,382.8L1659.2,383.7L1659.5,384.6L1659.9,385.5L1660.3,386.5L1660.7,387.4L1661.1,388.3L1661.5,389.2L1661.9,390.1L1662.3,391.1L1662.7,392.0L1663.1,392.9L1663.5,393.8L1663.9,394.7L1664.3,395.6L1664.7,396.5L1665.2,397.4L1665.6,398.3L1666.0,399.2L1666.5,400.1L1666.9,401.0L1667.4,401.9L1667.8,402.8L1668.3,403.7L1668.7,404.6L1669.2,405.5L1669.6,406.4L1670.1,407.3L1670.6,408.1L1671.1,409.0L1671.5,409.9L1672.0,410.8L1672.5,411.6L1673.0,412.5L1673.5,413.4L1674.0,414.2L1674.5,415.1L1675.0,416.0L1675.5,416.8L1676.1,417.7L1676.6,418.5L1677.1,419.4L1677.6,420.2L1678.2,421.1L1678.7,421.9L1679.3,422.7L1679.8,423.6L1680.4,424.4L1680.9,425.2L1681.5,426.0L1682.1,426.8L1682.7,427.6L1683.3,428.4L1684.0,429.2L1684.6,430.0L1685.3,430.7L1686.0,431.4L1686.7,432.2L1687.4,432.8L1688.2,433.5L1689.0,434.1L1689.8,434.7L1690.6,435.2L1691.5,435.6L1692.5,435.9L1693.5,436.1L1694.5,436.2L1695.5,436.2L1696.5,436.1L1697.5,436.1L1698.5,435.9L1699.4,435.8L1700.4,435.6L1701.4,435.4L1702.4,435.1L1703.3,434.8L1704.3,434.5L1705.2,434.1L1706.1,433.7L1707.0,433.3L1707.9,432.8L1708.7,432.3L1709.6,431.8L1710.4,431.2L1711.2,430.6L1712.0,430.0L1712.8,429.4L1713.6,428.7L1714.3,428.1L1715.1,427.4L1715.8,426.7L1716.5,426.0L1717.2,425.3L1717.8,424.5L1718.5,423.8L1719.1,423.0L1719.7,422.2L1720.4,421.4L1721.0,420.6L1721.6,419.8L1722.1,419.0L1722.7,418.2L1723.3,417.3L1723.8,416.5L1724.3,415.7L1724.9,414.8L1725.4,414.0L1725.9,413.1L1726.4,412.2L1726.9,411.4L1727.4,410.5L1727.8,409.6L1728.3,408.7L1728.8,407.8L1729.2,407.0L1729.7,406.1L1730.1,405.2L1730.6,404.3L1731.0,403.4L1731.5,402.5L1731.9,401.6L1732.3,400.7L1732.8,399.8L1733.2,398.9L1733.6,398.0L1734.0,397.1L1734.4,396.1L1734.9,395.2L1735.3,394.3L1735.7,393.4L1736.1,392.5L1736.5,391.6L1736.9,390.7L1737.3,389.8L1737.7,388.8L1738.1,387.9L1738.5,387.0L1738.9,386.1L1739.3,385.2L1739.7,384.3L1740.1,383.3L1740.5,382.4L1740.9,381.5L1741.3,380.6L1741.7,379.7L1742.1,378.8L1742.5,377.8L1742.9,376.9L1743.3,376.0L1743.7,375.1L1744.1,374.2L1744.5,373.3L1744.9,372.4L1745.3,371.4L1745.7,370.5L1746.1,369.6L1746.5,368.7L1746.9,367.8L1747.4,366.9L1747.8,366.0L1748.2,365.1L1748.6,364.1L1749.0,363.2L1749.4,362.3L1749.8,361.4L1750.2,360.5L1750.7,359.6L1751.1,358.7L1751.5,357.8L1751.9,356.9L1752.3,356.0L1752.8,355.1L1753.2,354.2L1753.6,353.2L1754.0,352.3L1754.5,351.4L1754.9,350.5L1755.3,349.6L1755.8,348.7L1756.2,347.8L1756.6,346.9L1757.1,346.0L1757.5,345.1L1758.0,344.2L1758.4,343.4L1758.9,342.5L1759.3,341.6L1759.8,340.7L1760.2,339.8L1760.7,338.9L1761.1,338.0L1761.6,337.1L1762.1,336.2L1762.5,335.4L1763.0,334.5L1763.5,333.6L1764.0,332.7L1764.4,331.8L1764.9,331.0L1765.4,330.1L1765.9,329.2L1766.4,328.3L1766.9,327.5L1767.4,326.6L1767.9,325.8L1768.4,324.9L1768.9,324.0L1769.5,323.2L1770.0,322.3L1770.5,321.5L1771.1,320.7L1771.6,319.8L1772.2,319.0L1772.7,318.2L1773.3,317.3L1773.9,316.5L1774.5,315.7L1775.0,314.9L1775.6,314.1L1776.3,313.3L1776.9,312.5L1777.5,311.8L1778.2,311.0L1778.8,310.3L1779.5,309.5L1780.2,308.8L1780.9,308.1L1781.7,307.4L1782.4,306.8L1783.2,306.2L1784.0,305.6L1784.9,305.1L1785.8,304.6L1786.7,304.2L1787.6,303.8L1788.6,303.6L1789.6,303.4L1790.6,303.4L1791.6,303.5L1792.6,303.6L1793.5,303.9L1794.5,304.2L1795.4,304.6L1796.3,305.1L1797.1,305.6L1797.9,306.2L1798.7,306.8L1799.4,307.5L1800.1,308.3L1800.8,309.0L1801.4,309.8L1802.0,310.6L1802.6,311.4L1803.1,312.2L1803.7,313.1L1804.2,313.9L1804.7,314.8L1805.2,315.6L1805.6,316.5L1806.1,317.4L1806.5,318.3L1807.0,319.2L1807.4,320.1L1807.8,321.0L1808.2,322.0L1808.6,322.9L1808.9,323.8L1809.3,324.7L1809.7,325.7L1810.0,326.6L1810.4,327.6L1810.7,328.5L1811.0,329.4L1811.3,330.4L1811.7,331.3L1812.0,332.3L1812.3,333.2L1812.6,334.2L1812.9,335.2L1813.1,336.1L1813.4,337.1L1813.7,338.0L1814.0,339.0L1814.2,340.0L1814.5,340.9L1814.8,341.9L1815.0,342.9L1815.2,343.8L1815.5,344.8L1815.7,345.8L1816.0,346.7L1816.2,347.7L1816.4,348.7L1816.6,349.7L1816.8,350.6L1817.0,351.6L1817.3,352.6L1817.5,353.6L1817.7,354.6L1817.9,355.5L1818.1,356.5L1818.2,357.5L1818.4,358.5L1818.6,359.5L1818.8,360.4L1819.0,361.4L1819.1,362.4L1819.3,363.4L1819.5,364.4L1819.7,365.4L1819.8,366.4L1820.0,367.3L1820.1,368.3L1820.3,369.3L1820.4,370.3L1820.6,371.3L1820.7,372.3L1820.8,373.3L1821.0,374.3L1821.1,375.3L1821.2,376.3L1821.4,377.2L1821.5,378.2L1821.6,379.2L1821.7,380.2L1821.9,381.2L1822.0,382.2L1822.1,383.2L1822.2,384.2L1822.3,385.2L1822.4,386.2L1822.5,387.2L1822.6,388.2L1822.7,389.2L1822.8,390.2L1822.9,391.2L1823.0,392.1L1823.1,393.1L1823.2,394.1L1823.3,395.1L1823.4,396.1L1823.5,397.1L1823.6,398.1L1823.7,399.1L1823.8,400.1L1823.9,401.1L1823.9,402.1L1824.0,403.1L1824.1,404.1L1824.2,405.1L1824.3,406.1L1824.4,407.1L1824.5,408.1L1824.5,409.1L1824.6,410.1L1824.7,411.1L1824.8,412.1L1824.9,413.1L1825.0,414.1L1825.1,415.1L1825.1,416.1L1825.2,417.0L1825.3,418.0L1825.4,419.0L1825.5,420.0L1825.6,421.0L1825.7,422.0L1825.8,423.0L1825.9,424.0L1826.0,425.0L1826.1,426.0L1826.2,427.0L1826.3,428.0L1826.4,429.0L1826.6,430.0L1826.7,431.0L1826.8,432.0L1827.0,432.9L1827.2,433.9L1827.4,434.9L1827.6,435.9L1827.9,436.8L1828.1,437.8L1828.3,438.8L1828.4,439.8L1828.5,440.8L1828.7,441.8L1828.7,442.8L1828.8,443.8L1828.9,444.8L1829.0,445.8L1829.1,446.8L1829.1,447.8L1829.2,448.8L1829.2,449.8L1829.3,450.8L1829.3,451.7L1829.4,452.7L1829.4,453.7L1829.5,454.7L1829.5,455.7L1829.6,456.7L1829.6,457.7L1829.7,458.7L1829.7,459.7L1829.7,460.7L1829.8,461.7L1829.8,462.7L1829.8,463.7L1829.9,464.7L1829.9,465.7L1829.9,466.7L1830.0,467.7L1830.0,468.7L1830.0,469.7L1830.0,470.7L1830.1,471.7L1830.1,472.7L1830.1,473.7L1830.2,474.7L1830.2,475.7L1830.2,476.7L1830.2,477.7L1830.3,478.7L1830.3,479.7L1830.3,480.7L1830.3,481.7L1830.4,482.7L1830.4,483.7L1830.4,484.7L1830.4,485.7L1830.5,486.7L1830.5,487.7L1830.5,488.7L1830.5,489.7L1830.6,490.7L1830.6,491.7L1830.6,492.7L1830.6,493.7L1830.7,494.7L1830.7,495.7L1830.7,496.7L1830.7,497.7L1830.7,498.7L1830.8,499.7L1830.8,500.7L1830.8,501.7L1830.8,502.7L1830.8,503.7L1830.9,504.7L1830.9,505.7L1830.9,506.7L1830.9,507.7L1831.0,508.7L1831.0,509.7L1831.0,510.7L1831.0,511.7L1831.0,512.7L1831.1,513.7L1831.1,514.7L1831.1,515.7L1831.1,516.7L1831.1,517.7L1831.2,518.7L1831.2,519.7L1831.2,520.7L1831.2,521.7L1831.2,522.7L1831.3,523.7L1831.3,524.7L1831.3,525.7L1831.3,526.7L1831.4,527.7L1831.4,528.7L1831.4,529.7L1831.4,530.7L1831.4,531.7L1831.5,532.7L1831.5,533.7L1831.5,534.7L1831.5,535.7L1831.5,536.7L1831.6,537.7L1831.6,538.7L1831.6,539.7L1831.6,540.7L1831.6,541.7L1831.7,542.7L1831.7,543.7L1831.7,544.7L1831.7,545.7L1831.7,546.7L1831.8,547.7L1831.8,548.7L1831.8,549.7L1831.8,550.7L1831.8,551.7L1831.9,552.7L1831.9,553.7L1831.9,554.7L1831.9,555.7L1831.9,556.7L1832.0,557.7L1832.0,558.7L1832.0,559.7L1832.0,560.7L1832.0,561.7L1832.1,562.7L1832.1,563.7L1832.1,564.7L1832.1,565.7L1832.1,566.7L1832.2,567.7L1832.2,568.7L1832.2,569.7L1832.2,570.7L1832.2,571.7L1832.3,572.7L1832.3,573.7L1832.3,574.7L1832.3,575.7L1832.3,576.7L1832.4,577.7L1832.4,578.7L1832.4,579.7L1832.4,580.7L1832.4,581.7L1832.5,582.7L1832.5,583.7L1832.5,584.7L1832.5,585.7L1832.5,586.7L1832.6,587.7L1832.6,588.7L1832.6,589.7L1832.6,590.7L1832.7,591.7L1832.7,592.7L1832.7,593.7L1832.7,594.7L1832.7,595.7L1832.8,596.7L1832.8,597.7L1832.8,598.7L1832.8,599.7L1832.8,600.7L1832.9,601.7L1832.9,602.7L1832.9,603.7L1832.9,604.7L1832.9,605.7L1833.0,606.7L1833.0,607.7L1833.0,608.7L1833.0,609.7L1833.0,610.7L1833.1,611.7L1833.1,612.7L1833.1,613.7L1833.1,614.7L1833.1,615.7L1833.2,616.7L1833.2,617.7L1833.2,618.7L1833.2,619.7L1833.2,620.7L1833.3,621.7L1833.3,622.7L1833.3,623.7L1833.3,624.7L1833.3,625.7L1833.4,626.7L1833.4,627.7L1833.4,628.7L1833.4,629.7L1833.4,630.7L1833.5,631.7L1833.5,632.7L1833.5,633.7L1833.5,634.7L1833.5,635.7L1833.6,636.7L1833.6,637.7L1833.6,638.7L1833.6,639.7L1833.6,640.7L1833.7,641.7L1833.7,642.7L1833.7,643.7L1833.7,644.7L1833.7,645.7L1833.8,646.7L1833.8,647.7L1833.8,648.7L1833.8,649.7L1833.8,650.7L1833.8,651.7L1833.9,652.7L1833.9,653.7L1833.9,654.7L1833.9,655.7L1833.9,656.7L1834.0,657.7L1834.0,658.7L1834.0,659.7L1834.0,660.7L1834.0,661.7L1834.0,662.7L1834.1,663.7L1834.1,664.7L1834.1,665.7L1834.1,666.7L1834.1,667.7L1834.2,668.7L1834.2,669.7L1834.2,670.7L1834.2,671.7L1834.2,672.7L1834.2,673.7L1834.3,674.7L1834.3,675.7L1834.3,676.7L1834.3,677.7L1834.3,678.7L1834.3,679.6L1834.4,680.6L1834.4,681.6L1834.4,682.6L1834.4,683.6L1834.4,684.6L1834.4,685.6L1834.5,686.6L1834.5,687.6L1834.5,688.6L1834.5,689.6L1834.5,690.6L1834.5,691.6L1834.6,692.6L1834.6,693.6L1834.6,694.6L1834.6,695.6L1834.6,696.6L1834.7,697.6L1834.7,698.6L1834.7,699.6L1834.7,700.6L1834.7,701.6L1834.7,702.6L1834.7,703.6L1834.8,704.6L1834.8,705.6L1834.8,706.6L1834.8,707.6L1834.8,708.6L1834.8,709.6L1834.9,710.6L1834.9,711.6L1834.9,712.6L1834.9,713.6L1834.9,714.6L1834.9,715.6L1835.0,716.6L1835.0,717.6L1835.0,718.6L1835.0,719.6L1835.0,720.6L1835.0,721.6L1835.1,722.6L1835.1,723.6L1835.1,724.6L1835.1,725.6L1835.1,726.6L1835.1,727.6L1835.2,728.6L1835.2,729.6L1835.2,730.6L1835.2,731.6L1835.2,732.6L1835.2,733.6L1835.3,734.6L1835.3,735.6L1835.3,736.6L1835.3,737.6L1835.3,738.6L1835.3,739.6L1835.3,740.6L1835.4,741.6L1835.4,742.6L1835.4,743.6L1835.4,744.6L1835.4,745.6L1835.4,746.6L1835.5,747.6L1835.5,748.6L1835.5,749.6L1835.5,750.6L1835.5,751.6L1835.5,752.6L1835.6,753.6L1835.6,754.6L1835.6,755.6L1835.6,756.6L1835.6,757.6L1835.6,758.6L1835.7,759.6L1835.7,760.6L1835.7,761.6L1835.7,762.6L1835.7,763.6L1835.7,764.6L1835.8,765.6L1835.8,766.6L1835.8,767.6L1835.8,768.6L1835.8,769.6L1835.8,770.6L1835.8,771.6L1835.9,772.6L1835.9,773.6L1835.9,774.6L1835.9,775.6L1835.9,776.6L1835.9,777.6L1836.0,778.6L1836.0,779.6L1836.0,780.6L1836.0,781.6L1836.0,782.6L1836.0,783.6L1836.1,784.6L1836.1,785.6L1836.1,786.6L1836.1,787.6L1836.1,788.6L1836.1,789.6L1836.2,790.6L1836.2,791.6L1836.2,792.6L1836.2,793.6L1836.2,794.6L1836.2,795.6L1836.3,796.6L1836.3,797.6L1836.3,798.6L1836.3,799.6L1836.3,800.6L1836.3,801.6L1836.4,802.6L1836.4,803.6L1836.4,804.6L1836.4,805.6L1836.4,806.6L1836.4,807.6L1836.5,808.6L1836.5,809.6L1836.5,810.6L1836.5,811.6L1836.5,812.6L1836.5,813.6L1836.6,814.6L1836.6,815.6L1836.6,816.6L1836.6,817.6L1836.6,818.6L1836.6,819.6L1836.7,820.6L1836.7,821.6L1836.7,822.6L1836.7,823.6L1836.7,824.6L1836.7,825.6L1836.8,826.6L1836.8,827.6L1836.8,828.6L1836.8,829.6L1836.8,830.6L1836.8,831.6L1836.9,832.6L1836.9,833.6L1836.9,834.6L1838.5,600.0L1840.0,300.0L1841.0,110.0L1841.6,58.5L1842.3,59.1L1842.7,60.1L1843.0,61.0L1843.3,62.0L1843.5,62.9L1843.7,63.9L1843.9,64.9L1844.1,65.9L1844.3,66.9L1844.5,67.8L1844.6,68.8L1844.8,69.8L1844.9,70.8L1845.0,71.8L1845.1,72.8L1845.2,73.8L1845.2,74.8L1845.3,75.8L1845.4,76.8L1845.4,77.8L1845.5,78.8L1845.5,79.8L1845.5,80.8L1845.6,81.8L1845.6,82.8L1845.7,83.8L1845.7,84.8L1845.7,85.8L1845.8,86.8L1845.8,87.8L1845.9,88.8L1845.9,89.8L1845.9,90.8L1846.0,91.8L1846.0,92.8L1846.0,93.8L1846.1,94.8L1846.1,95.8L1846.2,96.8L1846.2,97.8L1846.2,98.8L1846.3,99.7L1846.3,100.7L1846.3,101.7L1846.4,102.7L1846.4,103.7L1846.5,104.7L1846.5,105.7L1846.5,106.7L1846.6,107.7L1846.6,108.7L1846.7,109.7L1846.7,110.7L1846.8,111.7L1846.8,112.7L1846.9,113.7L1846.9,114.7L1847.0,115.7L1847.0,116.7L1847.1,117.7L1847.2,118.7L1847.2,119.7L1847.3,120.7L1847.4,121.7L1847.4,122.7L1847.5,123.7L1847.6,124.7L1847.7,125.7L1847.7,126.7L1847.8,127.7L1847.9,128.7L1848.0,129.7L1848.0,130.7L1848.1,131.7L1848.2,132.7L1848.3,133.7L1848.4,134.7L1848.5,135.6L1848.5,136.6L1848.6,137.6L1848.7,138.6L1848.8,139.6L1848.9,140.6L1849.0,141.6L1849.1,142.6L1849.2,143.6L1849.3,144.6L1849.4,145.6L1849.5,146.6L1849.6,147.6L1849.7,148.6L1849.8,149.6L1849.9,150.6L1850.0,151.6L1850.1,152.6L1850.2,153.5L1850.3,154.5L1850.4,155.5L1850.5,156.5L1850.6,157.5L1850.8,158.5L1850.9,159.5L1851.0,160.5L1851.1,161.5L1851.2,162.5L1851.3,163.5L1851.5,164.5L1851.6,165.5L1851.7,166.4L1851.8,167.4L1852.0,168.4L1852.1,169.4L1852.2,170.4L1852.4,171.4L1852.5,172.4L1852.6,173.4L1852.8,174.4L1852.9,175.4L1853.0,176.3L1853.2,177.3L1853.3,178.3L1853.5,179.3L1853.6,180.3L1853.7,181.3L1853.9,182.3L1854.0,183.3L1854.2,184.3L1854.3,185.3L1854.4,186.2L1854.6,187.2L1854.7,188.2L1854.8,189.2L1855.0,190.2L1855.1,191.2L1855.3,192.2L1855.4,193.2L1855.5,194.2L1855.7,195.2L1855.8,196.1L1855.9,197.1L1856.1,198.1L1856.2,199.1L1856.3,200.1L1856.5,201.1L1856.6,202.1L1856.7,203.1L1856.9,204.1L1857.0,205.1L1857.1,206.0L1857.3,207.0L1857.4,208.0L1857.5,209.0L1857.7,210.0L1857.8,211.0L1857.9,212.0L1858.1,213.0L1858.2,214.0L1858.3,215.0L1858.5,215.9L1858.6,216.9L1858.7,217.9L1858.9,218.9L1859.0,219.9L1859.2,220.9L1859.3,221.9L1859.4,222.9L1859.6,223.9L1859.7,224.8L1859.9,225.8L1860.0,226.8L1860.2,227.8L1860.3,228.8L1860.5,229.8L1860.6,230.8L1860.8,231.8L1860.9,232.8L1861.1,233.7L1861.2,234.7L1861.4,235.7L1861.5,236.7L1861.7,237.7L1861.8,238.7L1862.0,239.7L1862.1,240.6L1862.3,241.6L1862.5,242.6L1862.6,243.6L1862.8,244.6L1862.9,245.6L1863.1,246.6L1863.2,247.6L1863.4,248.5L1863.6,249.5L1863.7,250.5L1863.9,251.5L1864.1,252.5L1864.2,253.5L1864.4,254.5L1864.6,255.4L1864.7,256.4L1864.9,257.4L1865.1,258.4L1865.2,259.4L1865.4,260.4L1865.6,261.3L1865.8,262.3L1866.0,263.3L1866.1,264.3L1866.3,265.3L1866.5,266.3L1866.7,267.2L1866.9,268.2L1867.1,269.2L1867.3,270.2L1867.5,271.2L1867.7,272.1L1867.9,273.1L1868.1,274.1L1868.3,275.1L1868.5,276.0L1868.7,277.0L1868.9,278.0L1869.1,279.0L1869.3,280.0L1869.6,280.9L1869.8,281.9L1870.0,282.9L1870.2,283.9L1870.4,284.8L1870.7,285.8L1870.9,286.8L1871.1,287.7L1871.4,288.7L1871.6,289.7L1871.8,290.7L1872.1,291.6L1872.3,292.6L1872.5,293.6L1872.8,294.5L1873.0,295.5L1873.2,296.5L1873.5,297.5L1873.7,298.4L1874.0,299.4L1874.2,300.4L1874.5,301.3L1874.7,302.3L1874.9,303.3L1875.2,304.2L1875.4,305.2L1875.7,306.2L1875.9,307.1L1876.2,308.1L1876.5,309.1L1876.7,310.0L1877.0,311.0L1877.2,312.0L1877.5,312.9L1877.8,313.9L1878.0,314.9L1878.3,315.8L1878.6,316.8L1878.8,317.7L1879.1,318.7L1879.4,319.7L1879.6,320.6L1879.9,321.6L1880.2,322.5L1880.5,323.5L1880.7,324.5L1881.0,325.4L1881.3,326.4L1881.6,327.4L1881.8,328.3L1882.1,329.3L1882.4,330.2L1882.7,331.2L1882.9,332.2L1883.2,333.1L1883.5,334.1L1883.8,335.0L1884.0,336.0L1884.3,337.0L1884.6,337.9L1884.9,338.9L1885.2,339.8L1885.4,340.8L1885.7,341.7L1886.0,342.7L1886.3,343.7L1886.6,344.6L1886.9,345.6L1887.2,346.5L1887.5,347.5L1887.7,348.4L1888.0,349.4L1888.3,350.4L1888.6,351.3L1888.9,352.3L1889.2,353.2L1889.5,354.2L1889.7,355.1L1890.0,356.1L1890.3,357.1L1890.6,358.0L1890.9,359.0L1891.1,359.9L1891.4,360.9L1891.7,361.9L1892.0,362.8L1892.2,363.8L1892.5,364.7L1892.8,365.7L1893.1,366.7L1893.3,367.6L1893.6,368.6L1893.8,369.6L1894.1,370.5L1894.4,371.5L1894.6,372.5L1894.9,373.4L1895.1,374.4L1895.4,375.4L1895.6,376.3L1895.9,377.3L1896.1,378.3L1896.4,379.2L1896.7,380.2L1896.9,381.1L1897.2,382.1L1897.5,383.1L1897.7,384.0L1898.0,385.0L1898.3,386.0L1898.5,386.9L1898.8,387.9L1899.1,388.8L1899.4,389.8L1899.7,390.8L1900.0,391.7L1900.3,392.7L1900.6,393.6L1900.9,394.6L1901.2,395.5L1901.5,396.5L1901.8,397.4L1902.2,398.4L1902.5,399.3L1902.8,400.2L1903.1,401.2L1903.5,402.1L1903.8,403.1L1904.1,404.0L1904.5,405.0L1904.8,405.9L1905.1,406.8L1905.5,407.8L1905.8,408.7L1906.2,409.7L1906.5,410.6L1906.8,411.5L1907.2,412.5L1907.5,413.4L1907.9,414.3L1908.2,415.3L1908.6,416.2L1908.9,417.2L1909.3,418.1L1909.6,419.0L1910.0,420.0L1910.3,420.9L1910.7,421.8L1911.1,422.8L1911.4,423.7L1911.8,424.6L1912.2,425.5L1912.5,426.5L1912.9,427.4L1913.3,428.3L1913.7,429.2L1914.0,430.2L1914.4,431.1L1914.8,432.0L1915.1,433.0L1915.5,433.9L1915.9,434.8L1916.2,435.8L1916.6,436.7L1916.9,437.6L1917.3,438.6L1917.6,439.5L1918.0,440.4L1918.3,441.4L1918.6,442.3L1919.0,443.3L1919.3,444.2L1919.6,445.2L1919.9,446.1L1920.3,447.0L1920.6,448.0L1920.9,448.9L1921.2,449.9L1921.5,450.8L1921.9,451.8L1922.2,452.7L1922.5,453.7L1922.8,454.6L1923.1,455.6L1923.5,456.5L1923.8,457.5L1924.1,458.4L1924.4,459.3L1924.8,460.3L1925.1,461.2L1925.4,462.2L1925.8,463.1L1926.1,464.1L1926.4,465.0L1926.8,465.9L1927.1,466.9L1927.5,467.8L1927.8,468.7L1928.2,469.7L1928.5,470.6L1928.9,471.5L1929.3,472.5L1929.6,473.4L1930.0,474.3L1930.4,475.3L1930.7,476.2L1931.1,477.1L1931.5,478.0L1931.8,479.0L1932.2,479.9L1932.6,480.8L1933.0,481.8L1933.3,482.7L1933.7,483.6L1934.1,484.5L1934.4,485.5L1934.8,486.4L1935.2,487.3L1935.5,488.2L1935.9,489.2L1936.3,490.1L1936.6,491.0L1937.0,492.0L1937.4,492.9L1937.7,493.8L1938.1,494.8L1938.4,495.7L1938.8,496.6L1939.1,497.6L1939.4,498.5L1939.8,499.5L1940.1,500.4L1940.5,501.3L1940.8,502.3L1941.1,503.2L1941.4,504.2L1941.8,505.1L1942.1,506.1L1942.4,507.0L1942.7,508.0L1943.1,508.9L1943.4,509.8L1943.7,510.8L1944.0,511.7L1944.4,512.7L1944.7,513.6L1945.0,514.6L1945.3,515.5L1945.6,516.5L1945.9,517.4L1946.2,518.4L1946.5,519.3L1946.8,520.3L1947.1,521.2L1947.4,522.2L1947.7,523.1L1948.0,524.1L1948.3,525.1L1948.6,526.0L1948.8,527.0L1949.1,527.9L1949.4,528.9L1949.6,529.9L1949.9,530.8L1950.2,531.8L1950.4,532.8L1950.7,533.7L1950.9,534.7L1951.2,535.7L1951.4,536.6L1951.6,537.6L1951.9,538.6L1952.1,539.6L1952.3,540.5L1952.6,541.5L1952.8,542.5L1953.0,543.4L1953.2,544.4L1953.4,545.4L1953.6,546.4L1953.9,547.4L1954.1,548.3L1954.3,549.3L1954.5,550.3L1954.7,551.3L1954.9,552.2L1955.1,553.2L1955.3,554.2L1955.5,555.2L1955.7,556.2L1955.8,557.1L1956.0,558.1L1956.2,559.1L1956.4,560.1L1956.6,561.1L1956.8,562.0L1957.0,563.0L1957.2,564.0L1957.3,565.0L1957.5,566.0L1957.7,567.0L1957.9,567.9L1958.1,568.9L1958.2,569.9L1958.4,570.9L1958.6,571.9L1958.8,572.9L1958.9,573.8L1959.1,574.8L1959.3,575.8L1959.5,576.8L1959.6,577.8L1959.8,578.8L1960.0,579.7L1960.1,580.7L1960.3,581.7L1960.5,582.7L1960.6,583.7L1960.8,584.7L1961.0,585.7L1961.2,586.6L1961.3,587.6L1961.5,588.6L1961.6,589.6L1961.8,590.6L1962.0,591.6L1962.1,592.6L1962.3,593.5L1962.5,594.5L1962.6,595.5L1962.8,596.5L1962.9,597.5L1963.1,598.5L1963.3,599.5L1963.4,600.4L1963.6,601.4L1963.7,602.4L1963.9,603.4L1964.0,604.4L1964.2,605.4L1964.3,606.4L1964.5,607.4L1964.6,608.3L1964.8,609.3L1964.9,610.3L1965.1,611.3L1965.2,612.3L1965.4,613.3L1965.5,614.3L1965.7,615.3L1965.8,616.3L1966.0,617.2L1966.1,618.2L1966.2,619.2L1966.4,620.2L1966.5,621.2L1966.7,622.2L1966.8,623.2L1966.9,624.2L1967.1,625.2L1967.2,626.1L1967.3,627.1L1967.5,628.1L1967.6,629.1L1967.7,630.1L1967.9,631.1L1968.0,632.1L1968.1,633.1L1968.3,634.1L1968.4,635.1L1968.5,636.0L1968.6,637.0L1968.8,638.0L1968.9,639.0L1969.0,640.0L1969.2,641.0L1969.3,642.0L1969.4,643.0L1969.5,644.0L1969.7,645.0L1969.8,646.0L1969.9,647.0L1970.0,647.9L1970.1,648.9L1970.3,649.9L1970.4,650.9L1970.5,651.9L1970.6,652.9L1970.7,653.9L1970.8,654.9L1971.0,655.9L1971.1,656.9L1971.2,657.9L1971.3,658.9L1971.4,659.9L1971.5,660.8L1971.6,661.8L1971.7,662.8L1971.8,663.8L1971.9,664.8L1972.0,665.8L1972.1,666.8L1972.2,667.8L1972.3,668.8L1972.4,669.8L1972.5,670.8L1972.6,671.8L1972.7,672.8L1972.8,673.8L1972.9,674.8L1973.0,675.8L1973.1,676.7L1973.2,677.7L1973.3,678.7L1973.4,679.7L1973.5,680.7L1973.6,681.7L1973.7,682.7L1973.8,683.7L1973.9,684.7L1974.0,685.7L1974.1,686.7L1974.2,687.7L1974.3,688.7L1974.4,689.7L1974.5,690.7L1974.6,691.7L1974.7,692.7L1974.8,693.7L1974.9,694.6L1975.0,695.6L1975.1,696.6L1975.2,697.6L1975.2,698.6L1975.3,699.6L1975.4,700.6L1975.5,701.6L1975.6,702.6L1975.7,703.6L1975.8,704.6L1975.9,705.6L1976.0,706.6L1976.1,707.6L1976.2,708.6L1976.3,709.6L1976.4,710.6L1976.5,711.6L1976.6,712.6L1976.7,713.5L1976.8,714.5L1976.9,715.5L1977.0,716.5L1977.0,717.5L1977.1,718.5L1977.2,719.5L1977.3,720.5L1977.4,721.5L1977.5,722.5L1977.6,723.5L1977.7,724.5L1977.8,725.5L1977.9,726.5L1978.0,727.5L1978.1,728.5L1978.2,729.5L1978.3,730.5L1978.3,731.5L1978.4,732.4L1978.5,733.4L1978.6,734.4L1978.7,735.4L1978.8,736.4L1978.9,737.4L1979.0,738.4L1979.1,739.4L1979.2,740.4L1979.3,741.4L1979.3,742.4L1979.4,743.4L1979.5,744.4L1979.6,745.4L1979.7,746.4L1979.8,747.4L1979.9,748.4L1980.0,749.4L1980.1,750.4L1980.2,751.4L1980.2,752.3L1980.3,753.3L1980.4,754.3L1980.5,755.3L1980.6,756.3L1980.7,757.3L1980.8,758.3L1980.9,759.3L1981.0,760.3L1981.0,761.3L1981.1,762.3L1981.2,763.3L1981.3,764.3L1981.4,765.3L1981.5,766.3L1981.6,767.3L1981.7,768.3L1981.7,769.3L1981.8,770.3L1981.9,771.3L1982.0,772.3L1982.1,773.2L1982.2,774.2L1982.3,775.2L1982.4,776.2L1982.4,777.2L1982.5,778.2L1982.6,779.2L1982.7,780.2L1982.8,781.2L1982.9,782.2L1983.0,783.2L1983.1,784.2L1983.1,785.2L1983.2,786.2L1983.3,787.2L1983.4,788.2L1983.5,789.2L1983.6,790.2L1983.7,791.2L1983.7,792.2L1983.8,793.2L1983.9,794.2L1984.0,795.1L1984.1,796.1L1984.2,797.1L1984.3,798.1L1984.3,799.1L1984.4,800.1L1984.5,801.1L1984.6,802.1L1984.7,803.1L1984.8,804.1L1984.9,805.1L1984.9,806.1L1985.0,807.1L1985.1,808.1L1985.2,809.1L1985.3,810.1L1985.4,811.1L1985.4,812.1L1985.5,813.1L1985.6,814.1L1985.7,815.1L1985.8,816.1L1985.9,817.0L1985.9,818.0L1986.0,819.0L1986.1,820.0L1986.2,821.0L1986.3,822.0L1986.3,823.0L1986.4,824.0L1986.5,825.0L1986.6,826.0L1986.7,827.0L1986.7,828.0L1986.8,829.0L1986.9,830.0L1987.0,831.0L1987.1,832.0L1987.1,833.0L1987.2,834.0L1987.3,835.0L1987.4,836.0L1987.5,837.0L1987.5,838.0L1987.6,839.0L1987.7,840.0L1987.8,841.0L1987.8,841.9L1987.9,842.9L1988.0,843.9L1988.1,844.9L1988.1,845.9L1988.2,846.9L1988.3,847.9L1988.4,848.9L1988.4,849.9L1988.5,850.9L1988.6,851.9L1988.7,852.9L1988.7,853.9L1988.8,854.9L1988.9,855.9L1989.0,856.9L1989.0,857.9L1989.1,858.9L1989.2,859.9L1989.3,860.9L1989.3,861.9L1989.4,862.9L1989.5,863.9L1989.6,864.9L1989.6,865.9L1989.7,866.9L1989.8,867.9L1989.8,868.9L1989.9,869.8L1990.0,870.8L1990.1,871.8L1990.1,872.8L1990.2,873.8L1990.3,874.8L1990.3,875.8L1990.4,876.8L1990.5,877.8L1990.6,878.8L1990.6,879.8L1990.7,880.8L1990.8,881.8L1990.8,882.8L1990.9,883.8L1991.0,884.8L1991.0,885.8L1991.1,886.8L1991.2,887.8L1991.2,888.8L1991.3,889.8L1991.4,890.8L1991.4,891.8L1991.5,892.8L1991.6,893.8L1991.6,894.8L1991.7,895.8L1991.8,896.8L1991.9,897.8L1991.9,898.8L1992.0,899.7L1992.0,900.7L1992.1,901.7L1992.2,902.7L1992.2,903.7L1992.3,904.7L1992.4,905.7L1992.4,906.7L1992.5,907.7L1992.6,908.7L1992.6,909.7L1992.7,910.7L1992.8,911.7L1992.8,912.7L1992.9,913.7L1992.9,914.7L1993.0,915.7L1993.1,916.7L1993.1,917.7L1993.2,918.7L1993.2,919.7L1993.3,920.7L1993.4,921.7L1993.4,922.7L1993.5,923.7L1993.6,924.7L1993.6,925.7L1993.7,926.7L1993.7,927.7L1993.8,928.7L1993.9,929.7L1993.9,930.7L1994.0,931.7L1994.0,932.7L1994.1,933.7L1994.2,934.7L1994.2,935.6L1994.3,936.6L1994.3,937.6L1994.4,938.6L1994.5,939.6L1994.5,940.6L1994.6,941.6L1994.6,942.6L1994.7,943.6L1994.8,944.6L1994.8,945.6L1994.9,946.6L1994.9,947.6L1995.0,948.6L1995.1,949.6L1995.1,950.6L1995.2,951.6L1995.2,952.6L1995.3,953.6L1995.3,954.6L1995.4,955.6L1995.5,956.6L1995.5,957.6L1995.6,958.6L1995.6,959.6L1995.7,960.6L1995.8,961.6L1995.8,962.6L1995.9,963.6L1995.9,964.6L1996.0,965.6L1996.0,966.6L1996.1,967.6L1996.2,968.6L1996.2,969.6L1996.3,970.6L1996.3,971.6L1996.4,972.6L1996.5,973.5L1996.5,974.5L1996.6,975.5L1996.6,976.5L1996.7,977.5L1996.8,978.5L1996.8,979.5L1996.9,980.5L1996.9,981.5L1997.0,982.5L1997.1,983.5L1997.1,984.5L1997.2,985.5L1997.2,986.5L1997.3,987.5L1997.4,988.5L1997.4,989.5L1997.5,990.5L1997.5,991.5L1997.6,992.5L1997.7,993.5L1997.7,994.5L1997.8,995.5L1997.9,996.5L1997.9,997.5L1998.0,998.5L1998.0,999.5L1998.1,1000.5L1998.2,1001.5L1998.2,1002.5L1998.3,1003.5L1998.4,1004.5L1998.4,1005.5L1998.5,1006.5L1998.5,1007.5L1998.6,1008.5L1998.7,1009.4L1998.7,1010.4L1998.8,1011.4L1998.9,1012.4L1998.9,1013.4L1999.0,1014.4L1999.0,1015.4L1999.1,1016.4L1999.2,1017.4L1999.2,1018.4L1999.3,1019.4L1999.4,1020.4L1999.4,1021.4L1999.5,1022.4L1999.6,1023.4L1999.6,1024.4L1999.7,1025.4L1999.8,1026.4L1999.8,1027.4L1999.9,1028.4L2000.0,1029.4L2000.1,1030.4L2000.1,1031.4L2000.2,1032.4L2000.3,1033.4L2000.4,1034.4L2000.4,1035.4L2000.5,1036.4L2000.6,1037.4L2000.7,1038.4L2000.8,1039.3L2000.8,1040.3L2000.9,1041.3L2001.0,1042.3L2001.1,1043.3L2001.2,1044.3L2001.3,1045.3L2001.3,1046.3L2001.4,1047.3L2001.5,1048.3L2001.6,1049.3L2001.7,1050.3L2001.8,1051.3L2001.9,1052.3L2002.0,1053.3L2002.1,1054.3L2002.2,1055.3L2002.2,1056.3L2002.3,1057.3L2002.4,1058.3L2002.5,1059.3L2002.6,1060.2L2002.7,1061.2L2002.8,1062.2L2002.9,1063.2L2003.0,1064.2L2003.1,1065.2L2003.2,1066.2L2003.3,1067.2L2003.4,1068.2L2003.5,1069.2L2003.6,1070.2L2003.7,1071.2L2003.8,1072.2L2003.9,1073.2L2004.0,1074.2L2004.1,1075.2L2004.2,1076.2L2004.3,1077.1L2004.4,1078.1L2004.6,1079.1L2004.7,1080.1L2004.8,1081.1L2004.9,1082.1L2005.0,1083.1L2005.1,1084.1L2005.2,1085.1L2005.3,1086.1L2005.4,1087.1L2005.5,1088.1L2005.7,1089.1L2005.8,1090.1L2005.9,1091.0L2006.0,1092.0L2006.1,1093.0L2006.2,1094.0L2006.4,1095.0L2006.5,1096.0L2006.6,1097.0L2006.7,1096.0L2006.9,1095.0L2007.0,1094.0L2007.2,1093.0L2007.3,1092.1L2007.4,1091.1L2007.6,1090.1L2007.7,1089.1L2007.8,1088.1L2008.0,1087.1L2008.1,1086.1L2008.3,1085.1L2008.4,1084.1L2008.5,1083.1L2008.7,1082.1L2008.8,1081.2L2008.9,1080.2L2009.1,1079.2L2009.2,1078.2L2009.3,1077.2L2009.5,1076.2L2009.6,1075.2L2009.7,1074.2L2009.8,1073.2L2010.0,1072.2L2010.1,1071.2L2010.2,1070.3L2010.4,1069.3L2010.5,1068.3L2010.6,1067.3L2010.7,1066.3L2010.9,1065.3L2011.0,1064.3L2011.1,1063.3L2011.2,1062.3L2011.3,1061.3L2011.5,1060.3L2011.6,1059.3L2011.7,1058.3L2011.8,1057.3L2011.9,1056.4L2012.0,1055.4L2012.2,1054.4L2012.3,1053.4L2012.4,1052.4L2012.5,1051.4L2012.6,1050.4L2012.7,1049.4L2012.8,1048.4L2012.9,1047.4L2013.0,1046.4L2013.1,1045.4L2013.2,1044.4L2013.3,1043.4L2013.4,1042.4L2013.5,1041.4L2013.6,1040.4L2013.7,1039.4L2013.8,1038.5L2013.9,1037.5L2014.0,1036.5L2014.1,1035.5L2014.2,1034.5L2014.2,1033.5L2014.3,1032.5L2014.4,1031.5L2014.5,1030.5L2014.6,1029.5L2014.6,1028.5L2014.7,1027.5L2014.8,1026.5L2014.9,1025.5L2015.0,1024.5L2015.0,1023.5L2015.1,1022.5L2015.2,1021.5L2015.2,1020.5L2015.3,1019.5L2015.4,1018.5L2015.4,1017.5L2015.5,1016.5L2015.6,1015.5L2015.6,1014.5L2015.7,1013.5L2015.8,1012.5L2015.8,1011.5L2015.9,1010.5L2015.9,1009.5L2016.0,1008.5L2016.1,1007.5L2016.1,1006.5L2016.2,1005.5L2016.2,1004.5L2016.3,1003.5L2016.4,1002.6L2016.4,1001.6L2016.5,1000.6L2016.5,999.6L2016.6,998.6L2016.6,997.6L2016.7,996.6L2016.7,995.6L2016.8,994.6L2016.9,993.6L2016.9,992.6L2017.0,991.6L2017.0,990.6L2017.1,989.6L2017.1,988.6L2017.2,987.6L2017.2,986.6L2017.3,985.6L2017.3,984.6L2017.4,983.6L2017.4,982.6L2017.5,981.6L2017.5,980.6L2017.6,979.6L2017.7,978.6L2017.7,977.6L2017.8,976.6L2017.8,975.6L2017.9,974.6L2017.9,973.6L2018.0,972.6L2018.0,971.6L2018.1,970.6L2018.1,969.6L2018.2,968.6L2018.3,967.6L2018.3,966.6L2018.4,965.6L2018.4,964.6L2018.5,963.6L2018.5,962.6L2018.6,961.6L2018.7,960.6L2018.7,959.6L2018.8,958.6L2018.8,957.6L2018.9,956.6L2018.9,955.6L2019.0,954.6L2019.1,953.6L2019.1,952.6L2019.2,951.6L2019.3,950.6L2019.3,949.6L2019.4,948.6L2019.5,947.6L2019.5,946.6L2019.6,945.6L2019.7,944.6L2019.7,943.7L2019.8,942.7L2019.9,941.7L2019.9,940.7L2020.0,939.7L2020.1,938.7L2020.1,937.7L2020.2,936.7L2020.3,935.7L2020.4,934.7L2020.4,933.7L2020.5,932.7L2020.6,931.7L2020.6,930.7L2020.7,929.7L2020.8,928.7L2020.9,927.7L2020.9,926.7L2021.0,925.7L2021.1,924.7L2021.2,923.7L2021.3,922.7L2021.3,921.7L2021.4,920.7L2021.5,919.7L2021.6,918.7L2021.6,917.7L2021.7,916.7L2021.8,915.7L2021.9,914.7L2021.9,913.7L2022.0,912.7L2022.1,911.7L2022.2,910.7L2022.3,909.8L2022.3,908.8L2022.4,907.8L2022.5,906.8L2022.6,905.8L2022.6,904.8L2022.7,903.8L2022.8,902.8L2022.9,901.8L2022.9,900.8L2023.0,899.8L2023.1,898.8L2023.2,897.8L2023.2,896.8L2023.3,895.8L2023.4,894.8L2023.5,893.8L2023.5,892.8L2023.6,891.8L2023.7,890.8L2023.8,889.8L2023.8,888.8L2023.9,887.8L2024.0,886.8L2024.0,885.8L2024.1,884.8L2024.2,883.8L2024.3,882.8L2024.3,881.8L2024.4,880.8L2024.5,879.8L2024.5,878.8L2024.6,877.8L2024.7,876.8L2024.7,875.8L2024.8,874.8L2024.9,873.9L2024.9,872.9L2025.0,871.9L2025.1,870.9L2025.1,869.9L2025.2,868.9L2025.3,867.9L2025.3,866.9L2025.4,865.9L2025.5,864.9L2025.5,863.9L2025.6,862.9L2025.7,861.9L2025.7,860.9L2025.8,859.9L2025.9,858.9L2025.9,857.9L2026.0,856.9L2026.1,855.9L2026.1,854.9L2026.2,853.9L2026.3,852.9L2026.3,851.9L2026.4,850.9L2026.4,849.9L2026.5,848.9L2026.6,847.9L2026.6,846.9L2026.7,845.9L2026.8,844.9L2026.8,843.9L2026.9,842.9L2026.9,841.9L2027.0,840.9L2027.1,839.9L2027.1,838.9L2027.2,837.9L2027.2,836.9L2027.3,835.9L2027.4,834.9L2027.4,833.9L2027.5,832.9L2027.5,831.9L2027.6,830.9L2027.7,829.9L2027.7,828.9L2027.8,827.9L2027.8,827.0L2027.9,826.0L2028.0,825.0L2028.0,824.0L2028.1,823.0L2028.1,822.0L2028.2,821.0L2028.3,820.0L2028.3,819.0L2028.4,818.0L2028.4,817.0L2028.5,816.0L2028.5,815.0L2028.6,814.0L2028.7,813.0L2028.7,812.0L2028.8,811.0L2028.8,810.0L2028.9,809.0L2029.0,808.0L2029.0,807.0L2029.1,806.0L2029.1,805.0L2029.2,804.0L2029.2,803.0L2029.3,802.0L2029.4,801.0L2029.4,800.0L2029.5,799.0L2029.5,798.0L2029.6,797.0L2029.6,796.0L2029.7,795.0L2029.8,794.0L2029.8,793.0L2029.9,792.0L2029.9,791.0L2030.0,790.0L2030.0,789.0L2030.1,788.0L2030.1,787.0L2030.2,786.0L2030.3,785.0L2030.3,784.0L2030.4,783.0L2030.4,782.0L2030.5,781.0L2030.5,780.0L2030.6,779.0L2030.7,778.0L2030.7,777.0L2030.8,776.0L2030.8,775.0L2030.9,774.0L2031.0,773.0L2031.0,772.0L2031.1,771.1L2031.1,770.1L2031.2,769.1L2031.2,768.1L2031.3,767.1L2031.4,766.1L2031.4,765.1L2031.5,764.1L2031.5,763.1L2031.6,762.1L2031.6,761.1L2031.7,760.1L2031.8,759.1L2031.8,758.1L2031.9,757.1L2031.9,756.1L2032.0,755.1L2032.1,754.1L2032.1,753.1L2032.2,752.1L2032.2,751.1L2032.3,750.1L2032.4,749.1L2032.4,748.1L2032.5,747.1L2032.5,746.1L2032.6,745.1L2032.7,744.1L2032.7,743.1L2032.8,742.1L2032.8,741.1L2032.9,740.1L2033.0,739.1L2033.0,738.1L2033.1,737.1L2033.2,736.1L2033.2,735.1L2033.3,734.1L2033.4,733.1L2033.4,732.1L2033.5,731.1L2033.5,730.1L2033.6,729.1L2033.7,728.1L2033.7,727.1L2033.8,726.1L2033.9,725.1L2033.9,724.1L2034.0,723.1L2034.1,722.1L2034.1,721.2L2034.2,720.2L2034.3,719.2L2034.3,718.2L2034.4,717.2L2034.5,716.2L2034.5,715.2L2034.6,714.2L2034.7,713.2L2034.7,712.2L2034.8,711.2L2034.9,710.2L2035.0,709.2L2035.0,708.2L2035.1,707.2L2035.2,706.2L2035.2,705.2L2035.3,704.2L2035.4,703.2L2035.5,702.2L2035.5,701.2L2035.6,700.2L2035.7,699.2L2035.8,698.2L2035.8,697.2L2035.9,696.2L2036.0,695.2L2036.1,694.2L2036.1,693.2L2036.2,692.2L2036.3,691.2L2036.4,690.2L2036.4,689.2L2036.5,688.2L2036.6,687.2L2036.7,686.3L2036.7,685.3L2036.8,684.3L2036.9,683.3L2037.0,682.3L2037.1,681.3L2037.1,680.3L2037.2,679.3L2037.3,678.3L2037.4,677.3L2037.5,676.3L2037.5,675.3L2037.6,674.3L2037.7,673.3L2037.8,672.3L2037.9,671.3L2037.9,670.3L2038.0,669.3L2038.1,668.3L2038.2,667.3L2038.3,666.3L2038.3,665.3L2038.4,664.3L2038.5,663.3L2038.6,662.3L2038.7,661.3L2038.7,660.3L2038.8,659.3L2038.9,658.3L2039.0,657.3L2039.1,656.4L2039.2,655.4L2039.2,654.4L2039.3,653.4L2039.4,652.4L2039.5,651.4L2039.6,650.4L2039.6,649.4L2039.7,648.4L2039.8,647.4L2039.9,646.4L2040.0,645.4L2040.1,644.4L2040.1,643.4L2040.2,642.4L2040.3,641.4L2040.4,640.4L2040.5,639.4L2040.5,638.4L2040.6,637.4L2040.7,636.4L2040.8,635.4L2040.9,634.4L2040.9,633.4L2041.0,632.4L2041.1,631.4L2041.2,630.4L2041.3,629.4L2041.3,628.4L2041.4,627.4L2041.5,626.4L2041.6,625.4L2041.7,624.5L2041.7,623.5L2041.8,622.5L2041.9,621.5L2042.0,620.5L2042.0,619.5L2042.1,618.5L2042.2,617.5L2042.3,616.5L2042.3,615.5L2042.4,614.5L2042.5,613.5L2042.6,612.5L2042.6,611.5L2042.7,610.5L2042.8,609.5L2042.8,608.5L2042.9,607.5L2043.0,606.5L2043.1,605.5L2043.1,604.5L2043.2,603.5L2043.3,602.5L2043.3,601.5L2043.4,600.5L2043.4,599.5L2043.5,598.5L2043.6,597.5L2043.6,596.5L2043.7,595.5L2043.8,594.5L2043.8,593.5L2043.9,592.5L2043.9,591.5L2044.0,590.5L2044.1,589.5L2044.1,588.5L2044.2,587.5L2044.2,586.6L2044.3,585.6L2044.3,584.6L2044.4,583.6L2044.4,582.6L2044.5,581.6L2044.5,580.6L2044.6,579.6L2044.6,578.6L2044.7,577.6L2044.7,576.6L2044.8,575.6L2044.8,574.6L2044.9,573.6L2044.9,572.6L2045.0,571.6L2045.1,570.6L2045.1,569.6L2045.2,568.6L2045.2,567.6L2045.3,566.6L2045.3,565.6L2045.4,564.6L2045.4,563.6L2045.5,562.6L2045.5,561.6L2045.6,560.6L2045.7,559.6L2045.7,558.6L2045.8,557.6L2045.8,556.6L2045.9,555.6L2046.0,554.6L2046.0,553.6L2046.1,552.6L2046.1,551.6L2046.2,550.6L2046.3,549.6L2046.4,548.6L2046.4,547.6L2046.5,546.6L2046.6,545.6L2046.7,544.6L2046.7,543.6L2046.8,542.6L2046.9,541.6L2047.0,540.6L2047.1,539.6L2047.2,538.7L2047.2,537.7L2047.3,536.7L2047.4,535.7L2047.5,534.7L2047.6,533.7L2047.7,532.7L2047.8,531.7L2047.9,530.7L2048.1,529.7L2048.2,528.7L2048.3,527.7L2048.4,526.7L2048.5,525.7L2048.6,524.7L2048.7,523.7L2048.9,522.7L2049.0,521.7L2049.1,520.7L2049.3,519.7L2049.4,518.7L2049.5,517.7L2049.7,516.7L2049.8,515.7L2049.9,514.7L2050.1,513.7L2050.2,512.7L2050.4,511.7L2050.5,510.8L2050.6,509.8L2050.8,508.8L2050.9,507.8L2051.1,506.8L2051.3,505.8L2051.4,504.8L2051.6,503.8L2051.7,502.8L2051.9,501.8L2052.1,500.8L2052.2,499.8L2052.4,498.9L2052.6,497.9L2052.7,496.9L2052.9,495.9L2053.1,494.9L2053.2,493.9L2053.4,492.9L2053.6,491.9L2053.8,491.0L2053.9,490.0L2054.1,489.0L2054.3,488.0L2054.5,487.0L2054.7,486.0L2054.9,485.1L2055.1,484.1L2055.2,483.1L2055.4,482.1L2055.6,481.1L2055.8,480.2L2056.0,479.2L2056.2,478.2L2056.4,477.2L2056.6,476.2L2056.8,475.3L2057.0,474.3L2057.2,473.3L2057.4,472.4L2057.6,471.4L2057.8,470.4L2058.0,469.4L2058.2,468.5L2058.4,467.5L2058.6,466.5L2058.8,465.6L2059.0,464.6L2059.2,463.6L2059.4,462.7L2059.7,461.7L2059.9,460.7L2060.1,459.8L2060.3,458.8L2060.5,457.9L2060.7,456.9L2060.9,455.9L2061.2,455.0L2061.4,454.0L2061.6,453.1L2061.8,452.1L2062.1,451.1L2062.3,450.2L2062.5,449.2L2062.7,448.3L2063.0,447.3L2063.2,446.3L2063.5,445.4L2063.7,444.4L2063.9,443.5L2064.2,442.5L2064.4,441.5L2064.7,440.6L2064.9,439.6L2065.2,438.7L2065.4,437.7L2065.7,436.7L2066.0,435.8L2066.2,434.8L2066.5,433.8L2066.8,432.9L2067.1,431.9L2067.4,430.9L2067.6,430.0L2067.9,429.0L2068.2,428.0L2068.5,427.0L2068.8,426.1L2069.1,425.1L2069.4,424.1L2069.7,423.1L2070.1,422.2L2070.4,421.2L2070.7,420.2L2071.0,419.2L2071.4,418.2L2071.7,417.2L2072.0,416.2L2072.4,415.3L2072.8,414.3L2073.1,413.3L2073.5,412.3L2073.9,411.3L2074.3,410.4L2074.7,409.4L2075.1,408.5L2075.6,407.6L2076.0,406.7L2076.5,405.8L2077.0,404.9L2077.5,404.0L2078.1,403.2L2078.6,402.4L2079.2,401.6L2079.8,400.8L2080.4,400.0L2081.1,399.3L2081.8,398.6L2082.5,398.0L2083.2,397.3L2084.0,396.7L2084.8,396.2L2085.6,395.6L2086.5,395.1L2087.3,394.7L2088.2,394.2L2089.2,393.8L2090.1,393.4L2091.0,393.1L2092.0,392.7L2093.0,392.4L2094.0,392.1L2095.0,391.9L2096.0,391.7L2097.0,391.5L2098.0,391.3L2099.0,391.1L2100.0,391.0L2101.1,390.9L2102.1,390.8L2103.1,390.7L2104.1,390.6L2105.1,390.6L2106.1,390.6L2107.0,390.6L2108.0,390.6L2109.0,390.5L2110.0,390.4L2111.0,390.3L2112.0,390.2L2113.0,390.1L2114.0,390.0L2115.0,389.9L2115.9,389.8L2116.9,389.7L2117.9,389.5L2118.9,389.4L2119.9,389.2L2120.9,389.0L2121.9,388.8L2122.8,388.6L2123.8,388.3L2124.8,388.1L2125.7,387.8L2126.7,387.5L2127.6,387.1L2128.5,386.8L2129.5,386.4L2130.4,386.0L2131.3,385.6L2132.2,385.1L2133.0,384.6L2133.9,384.1L2134.8,383.6L2135.6,383.1L2136.4,382.5L2137.2,381.9L2138.0,381.3L2138.8,380.7L2139.6,380.1L2140.3,379.4L2141.1,378.8L2141.8,378.1L2142.5,377.4L2143.2,376.7L2143.9,375.9L2144.6,375.2L2145.3,374.5L2145.9,373.7L2146.6,373.0L2147.2,372.2L2147.8,371.4L2148.4,370.6L2149.0,369.8L2149.6,369.0L2150.2,368.2L2150.8,367.4L2151.4,366.6L2151.9,365.7L2152.5,364.9L2153.0,364.1L2153.5,363.2L2154.1,362.4L2154.6,361.5L2155.1,360.7L2155.6,359.8L2156.1,359.0L2156.7,358.1L2157.2,357.2L2157.7,356.4L2158.2,355.5L2158.6,354.6L2159.1,353.8L2159.6,352.9L2160.1,352.0L2160.6,351.1L2161.1,350.3L2161.5,349.4L2162.0,348.5L2162.5,347.6L2163.0,346.8L2163.4,345.9L2163.9,345.0L2164.4,344.1L2164.8,343.2L2165.3,342.3L2165.8,341.5L2166.2,340.6L2166.7,339.7L2167.1,338.8L2167.6,337.9L2168.1,337.0L2168.5,336.1L2169.0,335.3L2169.4,334.4L2169.9,333.5L2170.3,332.6L2170.8,331.7L2171.2,330.8L2171.7,329.9L2172.1,329.0L2172.6,328.1L2173.0,327.2L2173.5,326.3L2173.9,325.4L2174.4,324.6L2174.8,323.7L2175.3,322.8L2175.7,321.9L2176.1,321.0L2176.6,320.1L2177.0,319.2L2177.4,318.3L2177.9,317.4L2178.3,316.5L2178.7,315.6L2179.2,314.7L2179.6,313.8L2180.0,312.9L2180.5,312.0L2180.9,311.1L2181.3,310.2L2181.7,309.3L2182.1,308.3L2182.6,307.4L2183.0,306.5L2183.4,305.6L2183.8,304.7L2184.2,303.8L2184.7,302.9L2185.1,302.0L2185.5,301.1L2185.9,300.2L2186.3,299.3L2186.7,298.4L2187.1,297.5L2187.5,296.5L2188.0,295.6L2188.4,294.7L2188.8,293.8L2189.2,292.9L2189.6,292.0L2190.0,291.1L2190.4,290.2L2190.8,289.3L2191.2,288.4L2191.7,287.4L2192.1,286.5L2192.5,285.6L2192.9,284.7L2193.3,283.8L2193.7,282.9L2194.1,282.0L2194.5,281.1L2195.0,280.2L2195.4,279.3L2195.8,278.4L2196.2,277.4L2196.6,276.5L2197.0,275.6L2197.5,274.7L2197.9,273.8L2198.3,272.9L2198.7,272.0L2199.1,271.1L2199.6,270.2L2200.0,269.3L2200.4,268.4L2200.8,267.5L2201.3,266.6L2201.7,265.7L2202.1,264.8L2202.6,263.9L2203.0,263.0L2203.5,262.1L2203.9,261.2L2204.4,260.3L2204.8,259.4L2205.3,258.5L2205.7,257.6L2206.2,256.8L2206.6,255.9L2207.1,255.0L2207.6,254.1L2208.1,253.2L2208.5,252.4L2209.0,251.5L2209.5,250.6L2210.0,249.7L2210.5,248.9L2211.0,248.0L2211.5,247.2L2212.0,246.3L2212.6,245.5L2213.1,244.6L2213.6,243.8L2214.2,242.9L2214.7,242.1L2215.3,241.3L2215.9,240.5L2216.4,239.6L2217.0,238.8L2217.6,238.0L2218.2,237.2L2218.7,236.4L2219.3,235.6L2219.9,234.8L2220.5,234.0L2221.2,233.2L2221.8,232.4L2222.4,231.6L2223.0,230.8L2223.6,230.1L2224.3,229.3L2224.9,228.5L2225.5,227.8L2226.2,227.0L2226.8,226.2L2227.5,225.5L2228.1,224.7L2228.8,224.0L2229.4,223.2L2230.1,222.5L2230.8,221.7L2231.5,221.0L2232.1,220.3L2232.8,219.5L2233.5,218.8L2234.2,218.1L2235.0,217.4L2235.7,216.8L2236.4,216.1L2237.2,215.4L2237.9,214.8L2238.7,214.1L2239.5,213.5L2240.3,212.9L2241.1,212.4L2242.0,211.8L2242.8,211.3L2243.7,210.8L2244.6,210.4L2245.5,210.0L2246.4,209.6L2247.3,209.2L2248.3,208.9L2249.3,208.6L2250.2,208.4L2251.2,208.2L2252.2,208.1L2253.2,208.0L2254.2,208.0L2255.2,208.0L2256.2,208.1L2257.2,208.1L2258.2,208.3L2259.2,208.4L2260.1,208.6L2261.1,208.8L2262.1,209.1L2263.0,209.4L2264.0,209.7L2264.9,210.1L2265.8,210.5L2266.7,210.9L2267.6,211.3L2268.5,211.8L2269.4,212.3L2270.2,212.8L2271.1,213.4L2271.9,213.9L2272.7,214.5L2273.5,215.1L2274.3,215.7L2275.0,216.4L2275.8,217.0L2276.5,217.7L2277.3,218.4L2278.0,219.1L2278.7,219.8L2279.4,220.5L2280.1,221.2L2280.7,222.0L2281.4,222.7L2282.0,223.5L2282.6,224.3L2283.3,225.1L2283.9,225.9L2284.5,226.7L2285.1,227.5L2285.6,228.3L2286.2,229.1L2286.8,229.9L2287.3,230.8L2287.8,231.6L2288.4,232.5L2288.9,233.3L2289.4,234.2L2289.9,235.0L2290.4,235.9L2290.9,236.8L2291.4,237.6L2291.9,238.5L2292.4,239.4L2292.8,240.3L2293.3,241.1L2293.8,242.0L2294.2,242.9L2294.7,243.8L2295.1,244.7L2295.6,245.6L2296.0,246.5L2296.5,247.4L2296.9,248.3L2297.3,249.2L2297.8,250.1L2298.2,251.0L2298.7,251.9L2299.1,252.8L2299.5,253.7L2299.9,254.6L2300.4,255.5L2300.8,256.4L2301.2,257.3L2301.7,258.2L2302.1,259.1L2302.5,260.0L2302.9,260.9L2303.4,261.8L2303.8,262.7L2304.2,263.6L2304.6,264.5L2305.1,265.4L2305.5,266.3L2305.9,267.2L2306.4,268.1L2306.8,269.0L2307.2,269.9L2307.7,270.8L2308.1,271.7L2308.5,272.6L2309.0,273.5L2309.4,274.4L2309.8,275.3L2310.3,276.2L2310.7,277.1L2311.2,278.0L2311.6,278.9L2312.1,279.8L2312.5,280.6L2313.0,281.5L2313.4,282.4L2313.9,283.3L2314.4,284.2L2314.8,285.1L2315.3,286.0L2315.8,286.8L2316.2,287.7L2316.7,288.6L2317.2,289.5L2317.7,290.3L2318.2,291.2L2318.7,292.1L2319.2,292.9L2319.8,293.8L2320.3,294.6L2320.9,295.4L2321.5,296.2L2322.2,296.9L2322.9,297.6L2323.7,298.2L2324.6,298.6L2325.6,298.8L2326.6,298.7L2327.5,298.3L2328.4,297.8L2329.1,297.1L2329.8,296.4L2330.5,295.7L2331.1,294.9L2331.6,294.0L2332.1,293.2L2332.6,292.3L2333.1,291.4L2333.5,290.5L2334.0,289.6L2334.4,288.7L2334.8,287.8L2335.2,286.9L2335.5,286.0L2335.9,285.0L2336.2,284.1L2336.6,283.1L2336.9,282.2L2337.3,281.3L2337.6,280.3L2337.9,279.4L2338.2,278.4L2338.5,277.5L2338.8,276.5L2339.2,275.6L2339.5,274.6L2339.8,273.7L2340.1,272.7L2340.4,271.8L2340.7,270.8L2341.0,269.9L2341.3,268.9L2341.5,268.0L2341.8,267.0L2342.1,266.1L2342.4,265.1L2342.7,264.1L2343.0,263.2L2343.3,262.2L2343.6,261.3L2343.9,260.3L2344.2,259.4L2344.5,258.4L2344.8,257.5L2345.1,256.5L2345.4,255.6L2345.7,254.6L2346.0,253.7L2346.3,252.7L2346.7,251.8L2347.0,250.8L2347.3,249.9L2347.6,248.9L2347.9,248.0L2348.2,247.0L2348.5,246.1L2348.9,245.1L2349.2,244.2L2349.5,243.3L2349.8,242.3L2350.1,241.4L2350.5,240.4L2350.8,239.5L2351.1,238.5L2351.5,237.6L2351.8,236.6L2352.1,235.7L2352.5,234.8L2352.8,233.8L2353.1,232.9L2353.5,231.9L2353.8,231.0L2354.1,230.1L2354.5,229.1L2354.8,228.2L2355.2,227.3L2355.5,226.3L2355.9,225.4L2356.3,224.5L2356.6,223.5L2357.0,222.6L2357.4,221.7L2357.8,220.8L2358.2,219.8L2358.6,218.9L2359.0,218.0L2359.4,217.1L2359.8,216.2L2360.3,215.3L2360.8,214.5L2361.3,213.6L2361.8,212.7L2362.4,211.9L2363.0,211.1L2363.6,210.3L2364.3,209.6L2365.0,208.9L2365.8,208.3L2366.6,207.8L2367.5,207.3L2368.5,207.0L2369.4,206.7L2370.4,206.6L2371.4,206.5L2372.4,206.5L2373.4,206.6L2374.4,206.8L2375.3,207.1L2376.3,207.5L2377.1,208.0L2378.0,208.5L2378.8,209.1L2379.6,209.7L2380.3,210.4L2381.0,211.1L2381.7,211.8L2382.4,212.6L2383.0,213.3L2383.6,214.1L2384.2,214.9L2384.8,215.7L2385.3,216.6L2385.8,217.4L2386.4,218.3L2386.9,219.1L2387.4,220.0L2387.8,220.9L2388.3,221.8L2388.8,222.7L2389.2,223.6L2389.6,224.4L2390.1,225.4L2390.5,226.3L2390.9,227.2L2391.3,228.1L2391.7,229.0L2392.1,229.9L2392.5,230.8L2392.9,231.7L2393.3,232.7L2393.6,233.6L2394.0,234.5L2394.4,235.5L2394.7,236.4L2395.1,237.3L2395.5,238.2L2395.8,239.2L2396.2,240.1L2396.5,241.0L2396.9,242.0L2397.2,242.9L2397.5,243.9L2397.9,244.8L2398.2,245.8L2398.5,246.7L2398.8,247.6L2399.1,248.6L2399.4,249.6L2399.7,250.5L2400.0,251.5L2400.3,252.4L2400.5,253.4L2400.8,254.4L2401.1,255.3L2401.3,256.3L2401.5,257.3L2401.8,258.2L2402.0,259.2L2402.2,260.2L2402.4,261.1L2402.7,262.1L2402.9,263.1L2403.1,264.1L2403.3,265.1L2403.4,266.0L2403.6,267.0L2403.8,268.0L2404.0,269.0L2404.2,270.0L2404.4,270.9L2404.5,271.9L2404.7,272.9L2404.9,273.9L2405.0,274.9L2405.2,275.9L2405.4,276.8L2405.5,277.8L2405.7,278.8L2405.9,279.8L2406.0,280.8L2406.2,281.8L2406.4,282.8L2406.5,283.7L2406.7,284.7L2406.9,285.7L2407.0,286.7L2407.2,287.7L2407.3,288.7L2407.5,289.7L2407.7,290.6L2407.8,291.6L2408.0,292.6L2408.2,293.6L2408.3,294.6L2408.5,295.6L2408.6,296.6L2408.8,297.5L2409.0,298.5L2409.1,299.5L2409.3,300.5L2409.5,301.5L2409.6,302.5L2409.8,303.5L2409.9,304.4L2410.1,305.4L2410.2,306.4L2410.4,307.4L2410.6,308.4L2410.7,309.4L2410.9,310.4L2411.0,311.3L2411.2,312.3L2411.3,313.3L2411.5,314.3L2411.6,315.3L2411.8,316.3L2411.9,317.3L2412.0,318.3L2412.2,319.2L2412.3,320.2L2412.4,321.2L2412.6,322.2L2412.7,323.2L2412.8,324.2L2412.9,325.2L2413.0,326.2L2413.2,327.2L2413.3,328.2L2413.4,329.2L2413.5,330.1L2413.6,331.1L2413.7,332.1L2413.8,333.1L2413.9,334.1L2414.0,335.1L2414.1,336.1L2414.2,337.1L2414.3,338.1L2414.4,339.1L2414.5,340.1L2414.6,341.1L2414.7,342.1L2414.7,343.1L2414.8,344.1L2414.9,345.1L2415.0,346.1L2415.1,347.1L2415.1,348.0L2415.2,349.0L2415.3,350.0L2415.4,351.0L2415.4,352.0L2415.5,353.0L2415.6,354.0L2415.7,355.0L2415.7,356.0L2415.8,357.0L2415.9,358.0L2415.9,359.0L2416.0,360.0" stroke="#000" stroke-width="10" stroke-linejoin="miter" stroke-miterlimit="10"/>
<path d="M848.4,502.0L849.4,496.7L850.4,491.6L851.4,486.6L852.4,481.7L853.4,477.0L854.4,472.4L855.4,467.9L856.4,463.6L857.4,459.3L858.4,455.1L859.4,451.1L860.4,447.1L861.4,443.2L862.4,439.4L863.4,435.7L864.4,432.1L865.4,428.5L866.4,425.1L867.4,421.7L868.4,418.4L869.4,415.2L870.4,412.0L871.4,409.0L872.4,406.1L873.4,403.2L874.4,400.5L875.4,397.9L876.4,395.3L877.4,392.9L878.4,390.6L879.4,388.4L880.4,386.4L881.4,384.4L882.4,382.6L883.4,380.9L884.4,379.3L885.4,377.9L886.4,376.5L887.4,375.3L888.4,374.2L889.4,373.2L890.4,372.4L891.4,371.7L892.4,371.0L893.4,370.5L894.4,370.1L895.4,369.9L896.4,369.7L897.4,369.7L898.4,369.7L899.4,369.8L900.4,370.0L901.4,370.2L902.4,370.4L903.4,370.8L904.4,371.2L905.4,371.8L906.4,372.4L907.4,373.1L908.4,373.9L909.4,374.8L910.4,375.8L911.4,377.0L912.4,378.2L913.4,379.6L914.4,381.0L915.4,382.6L916.4,384.3L917.4,386.1L918.4,388.1L919.4,390.1L920.4,392.3L921.4,394.5L922.4,396.9L923.4,399.3L924.4,401.9L925.4,404.5L926.4,407.2L927.4,410.1L928.4,413.0L929.4,415.9L930.4,419.0L931.4,422.1L932.4,425.3L933.4,428.6L934.4,431.9L935.4,435.3L936.4,438.7L937.4,442.2L938.4,445.8L939.4,449.3L940.4,453.0L941.4,456.6L942.4,460.3L943.4,464.0L944.4,467.7L945.4,471.5L946.4,475.2L947.4,479.0L948.4,482.8L949.4,486.5L950.4,490.3L951.4,494.1L952.4,497.8L953.4,501.6L954.4,505.3L955.4,509.1L956.4,512.9L957.4,516.6L958.4,520.5L959.4,524.3L960.4,528.2L961.4,532.0L962.4,535.9L963.4,539.9L964.4,543.9L965.4,547.9L966.4,552.1L967.4,556.2L968.4,560.5L969.4,564.7L970.4,568.9L971.4,573.2L972.4,577.4L973.4,581.5L974.4,585.6L975.4,589.6L976.4,593.4L977.4,597.2L978.4,600.8L979.4,604.3L980.4,607.5L981.4,610.6L982.4,613.5L983.4,616.2L984.4,618.7L985.4,621.0L986.4,623.1L987.4,625.1L988.4,626.9L989.4,628.6L990.4,630.1L991.4,631.5L992.4,632.9L993.4,634.1L994.4,635.2L995.4,636.3L996.4,637.2L997.4,638.0L998.4,638.8L999.4,639.4L1000.4,640.0L1001.4,640.5L1002.4,641.0L1003.4,641.3L1004.4,641.6L1005.4,641.7L1006.4,641.7L1007.4,641.6L1008.4,641.4L1009.4,641.0L1010.4,640.4L1011.4,639.7L1012.0,639.2L1013.4,637.8L1014.7,636.5L1016.0,635.0L1017.0,633.7L1017.9,632.4L1018.7,630.9L1019.5,629.5L1020.2,628.1L1020.8,626.7L1021.4,625.2L1022.0,623.5L1022.5,621.9L1023.0,620.1L1023.5,618.3L1024.0,616.3L1024.5,614.2L1025.0,612.0L1025.3,610.4L1025.6,608.8L1026.0,607.0L1026.3,605.2L1026.6,603.3L1026.9,601.4L1027.2,599.4L1027.5,597.4L1027.8,595.4L1028.2,593.4L1028.5,591.4L1028.8,589.5L1029.1,587.6L1037.8,612.5L1040.0,595.2L1041.0,590.9L1042.0,586.5L1043.0,582.0L1044.0,577.5L1045.0,572.9L1046.0,568.4L1047.0,563.8L1048.0,559.2L1049.0,554.7L1050.0,550.3L1051.0,545.9L1052.0,541.5L1053.0,537.2L1054.0,532.9L1055.0,528.6L1056.0,524.4L1057.0,520.1L1058.0,515.9L1059.0,511.8L1060.0,507.6L1061.0,503.4L1062.0,499.3L1063.0,495.1L1064.0,490.9L1065.0,486.7L1066.0,482.6L1067.0,478.4L1068.0,474.2L1069.0,470.1L1070.0,465.9L1071.0,461.8L1072.0,457.7L1073.0,453.6L1074.0,449.5L1075.0,445.4L1076.0,441.4L1077.0,437.4L1078.0,433.4L1079.0,429.5L1080.0,425.6L1081.0,421.7L1082.0,417.8L1083.0,414.0L1084.0,410.3L1085.0,406.6L1086.0,402.9L1087.0,399.3L1088.0,395.7L1089.0,392.2L1090.0,388.7L1091.0,385.4L1092.0,382.1L1093.0,378.9L1094.0,375.8L1095.0,372.7L1096.0,369.7L1097.0,366.8L1098.0,363.9L1099.0,361.1L1100.0,358.3L1101.0,355.7L1102.0,353.1L1103.0,350.6L1104.0,348.2L1105.0,345.9L1106.0,343.7L1107.0,341.6L1108.0,339.5L1109.0,337.6L1110.0,335.7L1111.0,334.0L1112.0,332.4L1113.0,330.9L1114.0,329.5L1115.0,328.2L1116.0,326.9L1117.0,325.8L1118.0,324.8L1119.0,323.9L1120.0,323.1L1121.0,322.4L1122.0,321.8L1123.0,321.3L1124.0,320.9L1125.0,320.5L1126.0,320.3L1127.0,320.1L1128.0,320.0L1129.0,320.0L1130.0,320.1L1131.0,320.2L1132.0,320.5L1133.0,320.8L1134.0,321.3L1135.0,321.8L1136.0,322.4L1137.0,323.1L1138.0,323.9L1139.0,324.8L1140.0,325.8L1141.0,326.9L1142.0,328.1L1143.0,329.4L1144.0,330.8L1145.0,332.3L1146.0,333.9L1147.0,335.6L1148.0,337.4L1149.0,339.3L1150.0,341.3L1151.0,343.4L1152.0,345.6L1153.0,347.8L1154.0,350.2L1155.0,352.6L1156.0,355.2L1157.0,357.8L1158.0,360.5L1159.0,363.3L1160.0,366.2L1161.0,369.2L1162.0,372.2L1163.0,375.4L1164.0,378.6L1165.0,381.9L1166.0,385.2L1167.0,388.6L1168.0,392.1L1169.0,395.7L1170.0,399.3L1171.0,403.0L1172.0,406.7L1173.0,410.5L1174.0,414.4L1175.0,418.3L1176.0,422.2L1177.0,426.2L1178.0,430.3L1179.0,434.4L1180.0,438.5L1181.0,442.6L1182.0,446.8L1183.0,451.0L1184.0,455.3L1185.0,459.5L1186.0,463.7L1187.0,467.9L1188.0,472.1L1189.0,476.3L1190.0,480.5L1191.0,484.6L1192.0,488.7L1193.0,492.7L1194.0,496.7L1195.0,500.6L1196.0,504.5L1197.0,508.3L1198.0,512.1L1199.0,515.8L1200.0,519.4L1201.0,522.9L1202.0,526.3L1203.0,529.6L1204.0,532.9L1205.0,536.1L1206.0,539.3L1207.0,542.3L1208.0,545.3L1209.0,548.2L1210.0,551.0L1211.0,553.8L1212.0,556.4L1213.0,559.0L1214.0,561.5L1215.0,563.9L1216.0,566.3L1217.0,568.5L1218.0,570.7L1219.0,572.8L1220.0,574.8L1221.0,576.7L1222.0,578.5L1223.0,580.3L1224.0,581.9L1225.0,583.5L1226.0,585.0L1227.0,586.4L1228.0,587.7L1229.0,588.9L1230.0,590.0L1231.0,591.1L1232.0,592.0L1233.0,592.9L1234.0,593.7L1235.0,594.5L1236.0,595.1L1237.0,595.7L1238.0,596.2L1239.0,596.6L1240.0,597.0L1241.0,597.3L1242.0,597.5L1243.0,597.6L1244.0,597.7L1245.0,597.7L1246.0,597.7L1247.0,597.7L1248.0,597.7L1249.0,597.6L1250.0,597.4L1251.0,597.0L1252.0,596.6L1253.0,596.1L1254.0,595.5L1255.0,594.7L1256.0,593.9L1257.0,593.0L1258.0,591.9L1259.0,590.8L1260.0,589.5L1261.0,588.2L1262.0,586.7L1263.0,585.1L1264.0,583.4L1265.0,581.6L1266.0,579.6L1267.0,577.6L1268.0,575.5L1269.0,573.3L1270.0,571.0L1271.0,568.6L1272.0,566.1L1273.0,563.6L1274.0,561.1L1275.0,558.5L1276.0,555.8L1277.0,553.2L1278.0,550.5L1279.0,547.8L1282.5,521.3L1293.9,531.9L1297.0,513.4L1298.0,510.1L1299.0,506.7L1300.0,503.4L1301.0,500.0L1302.0,496.7L1303.0,493.3L1304.0,490.0L1305.0,486.6L1306.0,483.3L1307.0,480.0L1308.0,476.7L1309.0,473.4L1310.0,470.1L1311.0,467.2L1312.0,464.3L1313.0,461.5L1314.0,458.7L1315.0,455.9L1316.0,453.1L1317.0,450.4L1318.0,447.6L1319.0,444.9L1320.0,442.3L1321.0,439.6L1322.0,437.0L1323.0,434.4L1324.0,431.9L1325.0,429.4L1326.0,426.9L1327.0,424.5L1328.0,422.2L1329.0,419.9L1330.0,417.7L1331.0,415.5L1332.0,413.4L1333.0,411.4L1334.0,409.5L1335.0,407.6L1336.0,405.8L1337.0,404.1L1338.0,402.5L1339.0,401.0L1340.0,399.6L1341.0,398.3L1342.0,397.1L1343.0,396.0L1344.0,395.0L1345.0,394.1L1346.0,393.3L1347.0,392.5L1348.0,391.9L1349.0,391.3L1350.0,390.8L1351.0,390.4L1352.0,390.1L1353.0,389.9L1354.0,389.7L1355.0,389.6L1356.0,389.6L1357.0,389.7L1358.0,389.7L1359.0,389.9L1360.0,390.1L1361.0,390.4L1362.0,390.7L1363.0,391.2L1364.0,391.7L1365.0,392.2L1366.0,392.9L1367.0,393.7L1368.0,394.5L1369.0,395.4L1370.0,396.5L1371.0,397.6L1372.0,398.9L1373.0,400.2L1374.0,401.7L1375.0,403.2L1376.0,404.9L1377.0,406.6L1378.0,408.4L1379.0,410.3L1380.0,412.3L1381.0,414.4L1382.0,416.5L1383.0,418.6L1384.0,420.8L1385.0,423.1L1386.0,425.4L1387.0,427.7L1388.0,430.1L1389.0,432.5L1390.0,434.9L1391.0,437.4L1392.0,440.0L1393.0,442.6L1394.0,445.3L1395.0,448.1L1396.0,451.0L1397.0,454.0L1398.0,457.2L1399.0,460.5L1400.0,463.9L1401.0,467.5L1402.0,471.2L1403.0,475.1L1404.0,479.1L1405.0,483.2L1406.0,487.4L1407.0,491.8L1408.0,496.2L1409.0,500.7L1410.0,505.3L1411.0,509.9L1412.0,514.6L1413.0,519.4L1414.0,524.2L1415.0,529.0L1416.0,533.8L1417.0,538.7L1418.0,543.6L1419.0,548.4L1420.0,553.3L1421.0,558.2L1422.0,563.1L1423.0,568.0L1424.0,573.0L1425.0,578.0L1426.0,583.1L1427.0,588.2L1428.0,593.4L1429.0,598.6L1430.0,603.9L1431.0,609.3L1432.0,614.8L1433.0,620.3L1434.0,626.0L1435.0,631.7L1436.0,637.5L1437.0,643.4L1438.0,649.4L1439.0,655.5L1440.0,661.6L1441.0,667.6L1442.0,673.8L1443.0,679.9L1444.0,686.1L1445.0,692.3L1446.0,698.5L1447.0,704.8L1448.0,711.0L1449.0,717.3L1450.0,723.6L1451.0,729.8L1452.0,736.1L1453.0,742.4L1454.0,748.7L1455.0,755.0L1456.0,761.4L1457.0,767.7L1458.0,774.1L1459.0,780.5L1460.0,786.9L1461.0,793.3L1462.0,799.7L1466.8,836.0L1470.6,850.0L1473.6,858.0L1476.4,850.0L1477.7,836.0L1477.9,834.1L1478.0,832.1L1478.2,830.2L1478.3,828.3L1478.5,826.4L1478.6,824.5L1478.8,822.6L1479.0,820.7L1479.1,818.8L1479.3,816.9L1479.4,815.0L1479.6,813.1L1479.8,811.2L1479.9,809.3L1480.1,807.4L1480.2,805.5L1480.4,803.5L1480.6,801.6L1480.7,799.7L1480.9,797.7L1481.0,795.8L1481.2,793.8L1481.3,791.8L1481.5,789.8L1481.6,787.8L1481.8,785.7L1481.9,783.7L1482.1,781.6L1482.2,779.8L1482.4,777.9L1482.5,776.1L1482.6,774.3L1482.8,772.4L1482.9,770.6L1483.0,768.7L1483.1,766.9L1483.3,765.0L1483.4,763.1L1483.5,761.2L1483.7,759.4L1483.8,757.5L1483.9,755.6L1484.0,753.6L1484.2,751.7L1484.3,749.8L1484.4,747.8L1484.6,745.9L1484.7,743.9L1484.8,742.0L1484.9,740.0L1485.1,738.0L1485.2,736.0L1485.3,734.0L1485.4,732.0L1485.6,730.0L1485.7,727.9L1485.8,725.9L1485.9,723.8L1486.1,721.7L1486.2,719.6L1486.3,717.5L1486.4,715.4L1486.6,713.3L1486.7,711.2L1486.8,709.0L1486.9,707.2L1487.0,705.4L1487.1,703.6L1487.2,701.7L1487.3,699.9L1487.4,698.0L1487.5,696.1L1487.6,694.2L1487.7,692.2L1487.8,690.3L1487.9,688.3L1488.1,686.4L1488.2,684.4L1488.3,682.4L1488.4,680.4L1488.5,678.4L1488.6,676.4L1488.7,674.4L1488.8,672.3L1488.9,670.3L1489.0,668.2L1489.1,666.2L1489.2,664.1L1489.3,662.1L1489.4,660.0L1489.5,657.9L1489.6,655.9L1489.7,653.8L1489.8,651.7L1489.9,649.7L1490.0,647.6L1490.1,645.5L1490.3,643.5L1490.4,641.4L1490.5,639.3L1490.6,637.3L1490.7,635.2L1490.7,633.2L1490.8,631.1L1490.9,629.1L1491.0,627.1L1491.1,625.1L1491.2,623.1L1491.3,621.1L1491.4,619.1L1491.5,617.1L1491.6,615.2L1491.7,613.2L1491.8,611.3L1491.9,609.4L1492.0,607.5L1492.0,605.6L1492.1,603.7L1492.2,601.8L1492.3,600.0L1492.4,597.9L1492.5,595.8L1492.6,593.7L1492.7,591.7L1492.8,589.6L1492.8,587.6L1492.9,585.6L1493.0,583.5L1493.1,581.5L1493.2,579.5L1493.3,577.5L1493.3,575.5L1493.4,573.5L1493.5,571.6L1493.6,569.6L1493.6,567.6L1493.7,565.7L1493.8,563.7L1493.9,561.8L1493.9,559.9L1494.0,557.9L1494.1,556.0L1494.2,554.1L1494.2,552.2L1494.3,550.3L1494.4,548.4L1494.5,546.4L1494.5,544.5L1494.6,542.6L1494.7,540.8L1494.8,538.9L1494.8,537.0L1494.9,535.1L1495.0,533.2L1495.0,531.3L1495.1,529.4L1495.2,527.5L1495.3,525.7L1495.3,523.8L1495.4,521.9L1495.5,520.0L1495.6,518.0L1495.7,516.0L1495.7,514.0L1495.8,512.0L1495.9,510.0L1496.0,508.0L1496.1,506.0L1496.2,504.0L1496.2,502.0L1496.3,500.0L1496.4,498.0L1496.5,496.1L1496.6,494.1L1496.6,492.1L1496.7,490.1L1496.8,488.2L1496.9,486.2L1497.0,484.3L1497.1,482.3L1497.1,480.4L1497.2,478.4L1497.3,476.5L1497.4,474.6L1497.5,472.6L1497.6,470.7L1497.6,468.8L1497.7,466.9L1497.8,465.0L1497.9,463.1L1498.0,461.2L1498.1,459.3L1498.1,457.4L1498.2,455.6L1498.3,453.7L1498.4,451.9L1498.5,450.0L1498.6,447.9L1498.7,445.9L1498.8,443.9L1498.9,441.9L1499.0,439.9L1499.1,437.9L1499.2,435.9L1499.3,434.0L1499.4,432.0L1499.5,430.1L1499.6,428.2L1499.8,426.3L1499.9,424.3L1500.0,422.4L1500.1,420.5L1500.2,418.6L1500.3,416.7L1500.4,414.7L1500.5,412.8L1500.6,410.9L1500.7,408.9L1500.8,406.9L1500.9,405.0L1501.1,403.0L1501.2,401.0L1501.3,398.9L1501.4,396.9L1501.5,394.8L1501.6,392.7L1501.7,390.8L1501.8,389.0L1501.9,387.1L1502.0,385.2L1502.1,383.2L1502.2,381.3L1502.3,379.3L1502.3,377.4L1502.4,375.4L1502.5,373.4L1502.6,371.4L1502.7,369.4L1502.8,367.3L1502.9,365.3L1503.0,363.3L1503.1,361.2L1503.2,359.2L1503.3,357.1L1503.4,355.1L1503.4,353.0L1503.5,351.0L1503.6,349.0L1503.7,346.9L1503.8,344.9L1503.9,342.9L1504.0,340.9L1504.1,338.8L1504.2,336.8L1504.3,334.9L1504.4,332.9L1504.5,330.9L1504.6,329.0L1504.7,327.1L1504.8,325.1L1505.0,323.3L1505.1,321.4L1505.2,319.5L1505.3,317.7L1505.4,315.6L1505.6,313.5L1505.7,311.4L1505.8,309.3L1506.0,307.2L1506.1,305.1L1506.3,303.1L1506.4,301.0L1506.6,298.9L1506.7,296.9L1506.9,294.9L1507.0,292.8L1507.2,290.8L1507.3,288.8L1507.5,286.9L1507.6,284.9L1507.8,283.0L1507.9,281.0L1508.1,279.1L1508.3,277.2L1508.4,275.4L1508.6,273.5L1508.7,271.7L1508.9,269.9L1509.1,268.2L1509.3,266.4L1509.4,264.7L1509.6,263.0L1509.8,260.8L1510.1,258.7L1510.3,256.6L1510.6,254.6L1510.8,252.7L1511.1,250.7L1511.3,248.8L1511.6,246.9L1511.8,245.1L1512.1,243.2L1512.3,241.4L1512.6,239.5L1512.8,237.7L1513.1,235.8L1513.3,233.9L1513.6,232.0L1517.6,212.0L1527.0,420.5L1527.0,418.5L1527.1,416.5L1527.1,414.6L1527.1,412.6L1527.2,410.6L1527.2,408.6L1527.2,406.6L1527.3,404.6L1527.3,402.6L1527.3,400.6L1527.4,398.6L1527.4,396.6L1527.4,394.6L1527.5,392.6L1527.5,390.5L1527.5,388.5L1527.6,386.5L1527.6,384.5L1527.6,382.5L1527.7,380.5L1527.7,378.5L1527.7,376.4L1527.8,374.4L1527.8,372.4L1527.8,370.4L1527.9,368.4L1527.9,366.4L1527.9,364.4L1528.0,362.4L1528.0,360.4L1528.0,358.3L1528.1,356.3L1528.1,354.3L1528.1,352.3L1528.2,350.4L1528.2,348.4L1528.2,346.4L1528.3,344.4L1528.3,342.4L1528.3,340.4L1528.4,338.4L1528.4,336.5L1528.4,334.5L1528.4,332.5L1528.5,330.6L1528.5,328.6L1528.5,326.7L1528.6,324.7L1528.6,322.8L1528.6,320.9L1528.7,318.9L1528.7,317.0L1528.7,315.1L1528.8,313.2L1528.8,311.3L1528.8,309.4L1528.9,307.5L1528.9,305.6L1528.9,303.7L1529.0,301.9L1529.0,300.0L1529.0,297.9L1529.1,295.8L1529.1,293.6L1529.1,291.5L1529.2,289.4L1529.2,287.2L1529.2,285.0L1529.2,282.8L1529.3,280.7L1529.3,278.5L1529.3,276.3L1529.3,274.1L1529.3,271.9L1529.4,269.7L1529.4,267.5L1529.4,265.3L1529.4,263.2L1529.4,261.0L1529.5,258.8L1529.5,256.7L1529.5,254.5L1529.5,252.4L1529.5,250.3L1529.6,248.2L1529.6,246.1L1529.6,244.0L1529.6,241.9L1529.7,239.9L1529.7,237.9L1529.7,235.9L1529.8,233.9L1529.8,231.9L1529.8,230.0L1529.9,228.1L1529.9,226.3L1529.9,224.4L1530.0,222.6L1530.0,220.8L1530.1,219.1L1530.1,217.4L1530.2,215.7L1530.3,214.1L1530.3,212.5L1530.4,210.9L1530.5,209.4L1530.5,207.9L1530.6,206.5L1530.7,205.1L1530.8,202.7L1531.0,200.4L1531.1,198.1L1531.2,196.0L1531.4,194.0L1531.5,192.0L1531.7,190.1L1531.9,188.3L1532.1,186.6L1532.3,184.9L1532.5,183.3L1532.8,181.7L1533.1,180.2L1533.5,178.8L1534.1,176.7L1534.7,174.7L1535.4,172.8L1536.1,171.2L1537.1,169.7L1538.2,168.5L1539.8,167.4L1541.6,166.6L1543.6,166.0L1545.6,165.7L1547.5,165.6L1549.2,165.8L1550.9,166.3L1552.6,166.9L1554.3,167.7L1556.0,168.5L1557.7,169.3L1559.4,170.1L1561.1,171.1L1562.8,172.1L1564.5,173.4L1565.8,174.5L1567.1,175.7L1568.4,177.1L1569.7,178.5L1571.1,180.0L1572.4,181.5L1573.6,183.0L1574.8,184.5L1576.0,186.0L1577.1,187.5L1578.2,188.9L1579.2,190.4L1580.2,191.9L1581.2,193.4L1582.2,194.9L1583.1,196.4L1584.1,198.0L1585.0,199.6L1585.9,201.2L1586.9,202.9L1587.8,204.5L1588.7,206.2L1589.5,207.9L1590.4,209.6L1591.3,211.3L1592.1,213.0L1593.0,214.8L1593.9,216.6L1594.8,218.4L1595.6,220.1L1596.5,221.9L1597.3,223.7L1598.2,225.6L1599.0,227.4L1599.8,229.1L1600.6,230.9L1601.3,232.7L1602.1,234.5L1602.9,236.3L1603.6,238.1L1604.4,239.9L1605.1,241.7L1605.9,243.5L1607.0,245.8L1608.0,247.9L1609.0,250.0L1610.0,252.2L1611.0,254.4L1612.0,256.7L1613.0,259.1L1614.0,261.5L1615.0,264.0L1616.0,266.6L1617.0,269.2L1618.0,272.0L1619.0,274.7L1620.0,277.6L1621.0,280.6L1622.0,283.5L1623.0,286.6L1624.0,289.6L1625.0,292.7L1626.0,296.0L1627.0,299.3L1628.0,302.6L1629.0,305.8L1630.0,309.0L1631.0,312.1L1632.0,315.2L1633.0,318.1L1634.0,321.0L1635.0,323.9L1636.0,326.7L1637.0,329.4L1638.0,332.1L1639.0,334.8L1640.0,337.5L1641.0,340.1L1642.0,342.7L1643.0,345.3L1644.0,347.9L1645.0,350.5L1646.0,353.1L1647.0,355.8L1648.0,358.4L1649.0,361.1L1650.0,363.8L1651.0,366.5L1652.0,369.1L1653.0,371.8L1654.0,374.5L1655.0,377.1L1656.0,379.7L1657.0,382.2L1658.0,384.7L1659.0,387.2L1660.0,389.6L1661.0,392.0L1662.0,394.3L1663.0,396.5L1664.0,398.7L1665.0,400.9L1666.0,402.9L1667.0,404.9L1668.0,406.9L1669.0,408.8L1670.0,410.7L1671.0,412.5L1672.0,414.3L1673.0,416.1L1674.0,417.8L1675.0,419.4L1676.0,421.0L1677.0,422.5L1678.0,423.9L1679.0,425.3L1680.0,426.7L1681.0,428.0L1682.0,429.3L1683.0,430.5L1684.0,431.6L1685.0,432.6L1686.0,433.6L1687.0,434.4L1688.0,435.2L1689.0,435.8L1690.0,436.4L1691.0,436.8L1692.0,437.1L1693.0,437.2L1694.0,437.2L1695.0,437.2L1696.0,437.3L1697.0,437.4L1698.0,437.4L1699.0,437.4L1700.0,437.3L1701.0,437.2L1702.0,437.1L1703.0,436.9L1704.0,436.6L1705.0,436.4L1706.0,436.0L1707.0,435.7L1708.0,435.3L1709.0,434.8L1710.0,434.3L1711.0,433.7L1712.0,433.0L1713.0,432.3L1714.0,431.4L1715.0,430.6L1716.0,429.6L1717.0,428.6L1718.0,427.5L1719.0,426.4L1720.0,425.2L1721.0,423.9L1722.0,422.5L1723.0,421.1L1724.0,419.6L1725.0,418.1L1726.0,416.4L1727.0,414.7L1728.0,412.9L1729.0,411.0L1730.0,409.1L1731.0,407.1L1732.0,405.1L1733.0,403.0L1734.0,400.9L1735.0,398.7L1736.0,396.5L1737.0,394.3L1738.0,392.1L1739.0,389.8L1740.0,387.6L1741.0,385.4L1742.0,383.1L1743.0,380.9L1744.0,378.7L1745.0,376.5L1746.0,374.3L1747.0,372.1L1748.0,370.0L1749.0,367.8L1750.0,365.7L1751.0,363.6L1752.0,361.5L1753.0,359.4L1754.0,357.4L1755.0,355.3L1756.0,353.3L1757.0,351.3L1758.0,349.4L1759.0,347.4L1760.0,345.5L1761.0,343.7L1762.0,341.8L1763.0,340.0L1764.0,338.2L1765.0,336.5L1766.0,334.8L1767.0,333.1L1768.0,331.5L1769.0,329.9L1770.0,328.3L1787.3,311.5L1788.1,312.1L1788.9,312.7L1789.6,313.4L1790.4,314.0L1791.1,314.7L1791.8,315.5L1792.5,316.2L1793.1,316.9L1793.8,317.7L1794.4,318.5L1795.0,319.2L1795.7,320.0L1796.3,320.8L1796.9,321.6L1797.5,322.4L1798.1,323.2L1798.6,324.0L1799.2,324.9L1799.7,325.7L1800.2,326.6L1800.7,327.5L1801.1,328.4L1801.6,329.2L1802.0,330.1L1802.4,331.1L1802.8,332.0L1803.2,332.9L1803.6,333.8L1803.9,334.8L1804.2,335.7L1804.5,336.7L1804.7,337.6L1805.0,338.6L1805.3,339.6L1805.5,340.5L1805.8,341.5L1806.0,342.5L1806.2,343.5L1806.4,344.4L1806.6,345.4L1806.8,346.4L1807.1,347.4L1807.3,348.3L1807.4,349.3L1807.6,350.3L1807.8,351.3L1808.0,352.3L1808.2,353.2L1808.4,354.2L1808.5,355.2L1808.7,356.2L1808.8,357.2L1809.0,358.2L1809.1,359.2L1809.2,360.2L1809.4,361.1L1809.5,362.1L1809.6,363.1L1809.8,364.1L1809.9,365.1L1810.0,366.1L1810.1,367.1L1810.2,368.1L1810.4,369.1L1810.5,370.1L1810.6,371.1L1810.7,372.1L1810.8,373.0L1810.9,374.0L1811.0,375.0L1811.2,376.0L1811.3,377.0L1811.4,378.0L1811.5,379.0L1811.6,380.0L1811.7,381.0L1811.9,382.0L1812.0,383.0L1812.1,384.0L1812.2,384.9L1812.3,385.9L1812.4,386.9L1812.6,387.9L1812.7,388.9L1812.8,389.9L1812.9,390.9L1813.0,391.9L1813.1,392.9L1813.2,393.9L1813.4,394.9L1813.5,395.9L1813.6,396.9L1813.7,397.8L1813.8,398.8L1813.9,399.8L1814.0,400.8L1814.1,401.8L1814.2,402.8L1814.4,403.8L1814.5,404.8L1814.6,405.8L1814.7,406.8L1814.8,407.8L1814.9,408.8L1815.0,409.8L1815.1,410.7L1815.3,411.7L1815.4,412.7L1815.5,413.7L1815.6,414.7L1815.7,415.7L1815.8,416.7L1816.0,417.7L1816.1,418.7L1816.2,419.7L1816.4,420.7L1816.5,421.6L1816.6,422.6L1816.8,423.6L1816.9,424.6L1817.1,425.6L1817.2,426.6L1817.4,427.6L1817.5,428.6L1817.7,429.6L1817.8,430.5L1818.0,431.5L1818.1,432.5L1818.2,433.5L1818.3,434.5L1818.5,435.5L1818.6,436.5L1818.7,437.5L1818.8,438.5L1818.9,439.5L1819.0,440.5L1819.1,441.4L1819.2,442.4L1819.3,443.4L1819.4,444.4L1819.5,445.4L1819.6,446.4L1819.6,447.4L1819.7,448.4L1819.8,449.4L1819.9,450.4L1819.9,451.4L1820.0,452.4L1820.1,453.4L1820.1,454.4L1820.2,455.4L1820.2,456.4L1820.3,457.4L1820.4,458.4L1820.4,459.4L1820.5,460.4L1820.5,461.4L1820.6,462.4L1820.6,463.4L1820.7,464.4L1820.7,465.4L1820.8,466.4L1820.8,467.4L1820.9,468.4L1820.9,469.4L1820.9,470.3L1821.0,471.3L1821.0,472.3L1821.1,473.3L1821.1,474.3L1821.2,475.3L1821.2,476.3L1821.3,477.3L1821.3,478.3L1821.3,479.3L1821.4,480.3L1821.4,481.3L1821.5,482.3L1821.5,483.3L1821.5,484.3L1821.6,485.3L1821.6,486.3L1821.6,487.3L1821.7,488.3L1821.7,489.3L1821.8,490.3L1821.8,491.3L1821.8,492.3L1821.9,493.3L1821.9,494.3L1821.9,495.3L1822.0,496.3L1822.0,497.3L1822.0,498.3L1822.1,499.3L1822.1,500.3L1822.1,501.3L1822.2,502.3L1822.2,503.3L1822.2,504.3L1822.3,505.3L1822.3,506.3L1822.3,507.3L1822.4,508.3L1822.4,509.3L1822.4,510.3L1822.5,511.3L1822.5,512.3L1822.5,513.3L1822.6,514.3L1822.6,515.3L1822.6,516.3L1822.7,517.3L1822.7,518.3L1822.7,519.3L1822.8,520.3L1822.8,521.2L1822.8,522.2L1822.9,523.2L1822.9,524.2L1822.9,525.2L1822.9,526.2L1823.0,527.2L1823.0,528.2L1823.0,529.2L1823.1,530.2L1823.1,531.2L1823.1,532.2L1823.2,533.2L1823.2,534.2L1823.2,535.2L1823.2,536.2L1823.3,537.2L1823.3,538.2L1823.3,539.2L1823.4,540.2L1823.4,541.2L1823.4,542.2L1823.4,543.2L1823.5,544.2L1823.5,545.2L1823.5,546.2L1823.5,547.2L1823.6,548.2L1823.6,549.2L1823.6,550.2L1823.6,551.2L1823.7,552.2L1823.7,553.2L1823.7,554.2L1823.7,555.2L1823.8,556.2L1823.8,557.2L1823.8,558.2L1823.8,559.2L1823.9,560.2L1823.9,561.2L1823.9,562.2L1823.9,563.2L1823.9,564.2L1824.0,565.2L1824.0,566.2L1824.0,567.2L1824.0,568.2L1824.0,569.2L1824.1,570.2L1824.1,571.2L1824.1,572.2L1824.1,573.2L1824.1,574.2L1824.2,575.2L1824.2,576.2L1824.2,577.2L1824.2,578.2L1824.2,579.2L1824.3,580.2L1824.3,581.2L1824.3,582.2L1824.3,583.2L1824.3,584.1L1824.3,585.1L1824.4,586.1L1824.4,587.1L1824.4,588.1L1824.4,589.1L1824.4,590.1L1824.5,591.1L1824.5,592.1L1824.5,593.1L1824.5,594.1L1824.5,595.1L1824.6,596.1L1824.6,597.1L1824.6,598.1L1824.6,599.1L1824.6,600.1L1824.6,601.1L1824.7,602.1L1824.7,603.1L1824.7,604.1L1824.7,605.1L1824.7,606.1L1824.7,607.1L1824.8,608.1L1824.8,609.1L1824.8,610.1L1824.8,611.1L1824.8,612.1L1824.9,613.1L1824.9,614.1L1824.9,615.1L1824.9,616.1L1824.9,617.1L1824.9,618.1L1825.0,619.1L1825.0,620.1L1825.0,621.1L1825.0,622.1L1825.0,623.1L1825.0,624.1L1825.1,625.1L1825.1,626.1L1825.1,627.1L1825.1,628.1L1825.1,629.1L1825.2,630.1L1825.2,631.1L1825.2,632.1L1825.2,633.1L1825.2,634.1L1825.2,635.1L1825.3,636.1L1825.3,637.1L1825.3,638.1L1825.3,639.1L1825.3,640.1L1825.4,641.1L1825.4,642.1L1825.4,643.1L1825.4,644.1L1825.4,645.1L1825.4,646.1L1825.5,647.1L1825.5,648.1L1825.5,649.1L1825.5,650.1L1825.5,651.1L1825.6,652.1L1825.6,653.0L1825.6,654.0L1825.6,655.0L1825.6,656.0L1825.6,657.0L1825.7,658.0L1825.7,659.0L1825.7,660.0L1825.7,661.0L1825.7,662.0L1825.7,663.0L1825.8,664.0L1825.8,665.0L1825.8,666.0L1825.8,667.0L1825.8,668.0L1825.9,669.0L1825.9,670.0L1825.9,671.0L1825.9,672.0L1825.9,673.0L1825.9,674.0L1826.0,675.0L1826.0,676.0L1826.0,677.0L1826.0,678.0L1826.0,679.0L1826.0,680.0L1826.1,681.0L1826.1,682.0L1826.1,683.0L1826.1,684.0L1826.1,685.0L1826.1,686.0L1826.2,687.0L1826.2,688.0L1826.2,689.0L1826.2,690.0L1826.2,691.0L1826.2,692.0L1826.3,693.0L1826.3,694.0L1826.3,695.0L1826.3,696.0L1826.3,697.0L1826.3,698.0L1826.4,699.0L1826.4,700.0L1826.4,701.0L1826.4,702.0L1826.4,703.0L1826.4,704.0L1826.5,705.0L1826.5,706.0L1826.5,707.0L1826.5,708.0L1826.5,709.0L1826.5,710.0L1826.6,711.0L1826.6,712.0L1826.6,713.0L1826.6,714.0L1826.6,715.0L1826.7,716.0L1826.7,717.0L1826.7,718.0L1826.7,719.0L1826.7,720.0L1826.7,721.0L1826.8,722.0L1826.8,722.9L1826.8,723.9L1826.8,724.9L1826.8,725.9L1826.8,726.9L1826.9,727.9L1826.9,728.9L1826.9,729.9L1826.9,730.9L1826.9,731.9L1827.0,732.9L1827.0,733.9L1827.0,734.9L1827.0,735.9L1827.0,736.9L1827.1,737.9L1827.1,738.9L1827.1,739.9L1827.1,740.9L1827.1,741.9L1827.2,742.9L1827.2,743.9L1827.2,744.9L1827.2,745.9L1827.2,746.9L1827.3,747.9L1827.3,748.9L1827.3,749.9L1827.3,750.9L1827.3,751.9L1827.4,752.9L1827.4,753.9L1827.4,754.9L1827.4,755.9L1827.5,756.9L1827.5,757.9L1827.5,758.9L1827.5,759.9L1827.5,760.9L1827.6,761.9L1827.6,762.9L1827.6,763.9L1827.6,764.9L1827.7,765.9L1827.7,766.9L1827.7,767.9L1827.7,768.9L1827.7,769.9L1827.8,770.9L1827.8,771.9L1827.8,772.9L1827.8,773.9L1827.9,774.9L1827.9,775.9L1827.9,776.9L1827.9,777.9L1828.0,778.9L1828.0,779.9L1828.0,780.9L1828.0,781.9L1828.0,782.9L1828.1,783.9L1828.1,784.9L1828.1,785.9L1828.1,786.9L1828.2,787.9L1828.2,788.8L1828.2,789.8L1828.2,790.8L1828.3,791.8L1828.3,792.8L1828.3,793.8L1828.3,794.8L1828.4,795.8L1828.4,796.8L1828.4,797.8L1828.4,798.8L1828.5,799.8L1828.5,800.8L1828.5,801.8L1828.5,802.8L1828.6,803.8L1828.6,804.8L1828.6,805.8L1828.7,806.8L1828.7,807.8L1828.7,808.8L1828.7,809.8L1828.8,810.8L1828.8,811.8L1828.8,812.8L1828.9,813.8L1828.9,814.8L1828.9,815.8L1828.9,816.8L1829.0,817.8L1829.0,818.8L1829.8,745.0L1830.5,643.4L1831.3,541.7L1832.3,440.0L1833.0,250.0L1833.6,110.0L1835.2,56.0L1835.3,57.0L1835.4,58.0L1835.4,59.0L1835.5,60.0L1835.6,61.0L1835.7,62.0L1835.8,63.0L1835.9,64.0L1835.9,65.0L1836.0,66.0L1836.1,67.0L1836.2,68.0L1836.3,69.0L1836.4,69.9L1836.4,70.9L1836.5,71.9L1836.6,72.9L1836.7,73.9L1836.8,74.9L1836.9,75.9L1837.0,76.9L1837.0,77.9L1837.1,78.9L1837.2,79.9L1837.3,80.9L1837.4,81.9L1837.5,82.9L1837.6,83.9L1837.7,84.9L1837.8,85.9L1837.8,86.9L1837.9,87.9L1838.0,88.9L1838.1,89.9L1838.2,90.9L1838.3,91.9L1838.4,92.9L1838.5,93.8L1838.6,94.8L1838.7,95.8L1838.8,96.8L1838.8,97.8L1838.9,98.8L1839.0,99.8L1839.1,100.8L1839.2,101.8L1839.3,102.8L1839.4,103.8L1839.5,104.8L1839.6,105.8L1839.7,106.8L1839.8,107.8L1839.9,108.8L1840.0,109.8L1840.1,110.8L1840.2,111.8L1840.3,112.8L1840.4,113.7L1840.5,114.7L1840.6,115.7L1840.7,116.7L1840.8,117.7L1840.9,118.7L1841.0,119.7L1841.1,120.7L1841.2,121.7L1841.4,122.7L1841.5,123.7L1841.6,124.7L1841.7,125.7L1841.8,126.7L1841.9,127.7L1842.0,128.7L1842.1,129.7L1842.2,130.6L1842.3,131.6L1842.4,132.6L1842.5,133.6L1842.6,134.6L1842.7,135.6L1842.9,136.6L1843.0,137.6L1843.1,138.6L1843.2,139.6L1843.3,140.6L1843.4,141.6L1843.5,142.6L1843.6,143.6L1843.7,144.6L1843.8,145.6L1843.9,146.6L1844.0,147.5L1844.1,148.5L1844.2,149.5L1844.3,150.5L1844.4,151.5L1844.5,152.5L1844.6,153.5L1844.7,154.5L1844.8,155.5L1844.9,156.5L1845.0,157.5L1845.1,158.5L1845.3,159.5L1845.4,160.5L1845.5,161.5L1845.6,162.5L1845.7,163.5L1845.8,164.4L1845.9,165.4L1846.0,166.4L1846.1,167.4L1846.2,168.4L1846.3,169.4L1846.4,170.4L1846.5,171.4L1846.6,172.4L1846.7,173.4L1846.9,174.4L1847.0,175.4L1847.1,176.4L1847.2,177.4L1847.3,178.4L1847.4,179.4L1847.6,180.3L1847.7,181.3L1847.8,182.3L1847.9,183.3L1848.1,184.3L1848.2,185.3L1848.3,186.3L1848.4,187.3L1848.6,188.3L1848.7,189.3L1848.8,190.3L1848.9,191.3L1849.1,192.2L1849.2,193.2L1849.3,194.2L1849.5,195.2L1849.6,196.2L1849.7,197.2L1849.9,198.2L1850.0,199.2L1850.1,200.2L1850.3,201.2L1850.4,202.2L1850.5,203.1L1850.7,204.1L1850.8,205.1L1851.0,206.1L1851.1,207.1L1851.2,208.1L1851.4,209.1L1851.5,210.1L1851.7,211.1L1851.8,212.0L1852.0,213.0L1852.1,214.0L1852.3,215.0L1852.5,216.0L1852.6,217.0L1852.8,218.0L1853.0,219.0L1853.1,219.9L1853.3,220.9L1853.5,221.9L1853.7,222.9L1853.8,223.9L1854.0,224.9L1854.2,225.8L1854.4,226.8L1854.6,227.8L1854.7,228.8L1854.9,229.8L1855.1,230.8L1855.3,231.7L1855.5,232.7L1855.7,233.7L1855.9,234.7L1856.1,235.7L1856.3,236.6L1856.5,237.6L1856.7,238.6L1856.9,239.6L1857.1,240.5L1857.3,241.5L1857.5,242.5L1857.8,243.5L1858.0,244.5L1858.2,245.4L1858.4,246.4L1858.6,247.4L1858.9,248.4L1859.1,249.3L1859.3,250.3L1859.6,251.3L1859.8,252.2L1860.0,253.2L1860.3,254.2L1860.5,255.2L1860.8,256.1L1861.0,257.1L1861.3,258.1L1861.5,259.0L1861.8,260.0L1862.0,261.0L1862.3,261.9L1862.6,262.9L1862.8,263.9L1863.1,264.8L1863.4,265.8L1863.6,266.7L1863.9,267.7L1864.2,268.7L1864.5,269.6L1864.7,270.6L1865.0,271.5L1865.3,272.5L1865.6,273.5L1865.9,274.4L1866.2,275.4L1866.4,276.3L1866.7,277.3L1867.0,278.2L1867.3,279.2L1867.6,280.2L1867.9,281.1L1868.2,282.1L1868.5,283.0L1868.8,284.0L1869.0,284.9L1869.3,285.9L1869.6,286.9L1869.9,287.8L1870.2,288.8L1870.5,289.7L1870.8,290.7L1871.1,291.6L1871.4,292.6L1871.7,293.5L1872.0,294.5L1872.3,295.4L1872.7,296.4L1873.0,297.3L1873.3,298.3L1873.6,299.2L1873.9,300.2L1874.2,301.1L1874.6,302.1L1874.9,303.0L1875.2,304.0L1875.5,304.9L1875.9,305.8L1876.2,306.8L1876.6,307.7L1876.9,308.7L1877.3,309.6L1877.6,310.5L1878.0,311.5L1878.4,312.4L1878.7,313.3L1879.1,314.2L1879.5,315.2L1879.9,316.1L1880.3,317.0L1880.6,317.9L1881.0,318.9L1881.4,319.8L1881.8,320.7L1882.2,321.6L1882.5,322.6L1882.9,323.5L1883.3,324.4L1883.7,325.3L1884.0,326.3L1884.4,327.2L1884.7,328.1L1885.1,329.1L1885.4,330.0L1885.8,331.0L1886.1,331.9L1886.4,332.8L1886.8,333.8L1887.1,334.7L1887.5,335.7L1887.8,336.6L1888.1,337.5L1888.5,338.5L1888.8,339.4L1889.1,340.4L1889.4,341.3L1889.8,342.3L1890.1,343.2L1890.4,344.2L1890.7,345.1L1891.0,346.1L1891.4,347.0L1891.7,348.0L1892.0,348.9L1898.4,423.9L1906.0,415.0L1906.3,415.9L1906.7,416.9L1907.0,417.8L1907.4,418.8L1907.7,419.7L1908.1,420.6L1908.4,421.6L1908.8,422.5L1909.1,423.4L1909.5,424.4L1909.8,425.3L1910.1,426.3L1910.5,427.2L1910.8,428.1L1911.2,429.1L1911.5,430.0L1911.9,430.9L1912.2,431.9L1912.6,432.8L1912.9,433.8L1913.2,434.7L1913.6,435.6L1913.9,436.6L1914.3,437.5L1914.6,438.5L1915.0,439.4L1915.3,440.3L1915.7,441.3L1916.0,442.2L1916.4,443.1L1916.7,444.1L1917.0,445.0L1917.4,446.0L1917.7,446.9L1918.1,447.8L1918.4,448.8L1918.8,449.7L1919.1,450.6L1919.5,451.6L1919.8,452.5L1920.2,453.5L1920.5,454.4L1920.8,455.3L1921.2,456.3L1921.5,457.2L1921.8,458.2L1922.2,459.1L1922.5,460.0L1922.8,461.0L1923.2,461.9L1923.5,462.9L1923.8,463.8L1924.2,464.8L1924.5,465.7L1924.9,466.6L1925.2,467.6L1925.5,468.5L1925.8,469.5L1926.2,470.4L1926.5,471.4L1926.8,472.3L1927.2,473.2L1927.5,474.2L1927.8,475.1L1928.1,476.1L1928.5,477.0L1928.8,478.0L1929.1,478.9L1929.4,479.9L1929.7,480.8L1930.0,481.8L1930.3,482.7L1930.6,483.7L1930.9,484.6L1931.2,485.6L1931.5,486.5L1931.8,487.5L1932.1,488.4L1932.4,489.4L1932.7,490.3L1933.0,491.3L1933.3,492.3L1933.6,493.2L1933.9,494.2L1934.2,495.1L1934.5,496.1L1934.8,497.0L1935.0,498.0L1935.3,499.0L1935.6,499.9L1935.9,500.9L1936.2,501.8L1936.4,502.8L1936.7,503.8L1937.0,504.7L1937.3,505.7L1937.5,506.6L1937.8,507.6L1938.1,508.6L1938.3,509.5L1938.6,510.5L1938.8,511.5L1939.1,512.4L1939.4,513.4L1939.6,514.4L1939.8,515.3L1940.1,516.3L1940.3,517.3L1940.6,518.2L1940.8,519.2L1941.0,520.2L1941.3,521.2L1941.5,522.1L1941.7,523.1L1941.9,524.1L1942.2,525.1L1942.4,526.0L1942.6,527.0L1942.8,528.0L1943.0,529.0L1943.2,529.9L1943.4,530.9L1943.6,531.9L1943.8,532.9L1944.0,533.9L1944.2,534.8L1944.4,535.8L1944.6,536.8L1944.8,537.8L1945.0,538.8L1945.1,539.7L1945.3,540.7L1945.5,541.7L1945.7,542.7L1945.9,543.7L1946.0,544.7L1946.2,545.7L1946.4,546.6L1946.6,547.6L1946.7,548.6L1946.9,549.6L1947.1,550.6L1947.2,551.6L1947.4,552.5L1947.6,553.5L1947.7,554.5L1947.9,555.5L1948.0,556.5L1948.2,557.5L1948.4,558.5L1948.5,559.5L1948.7,560.4L1948.8,561.4L1949.0,562.4L1949.1,563.4L1949.3,564.4L1949.4,565.4L1949.6,566.4L1949.8,567.4L1949.9,568.3L1950.1,569.3L1950.2,570.3L1950.4,571.3L1950.5,572.3L1950.7,573.3L1950.8,574.3L1951.0,575.3L1951.1,576.2L1951.3,577.2L1951.4,578.2L1951.5,579.2L1951.7,580.2L1951.8,581.2L1952.0,582.2L1952.1,583.2L1952.3,584.2L1952.4,585.1L1952.6,586.1L1952.7,587.1L1952.9,588.1L1953.0,589.1L1953.1,590.1L1953.3,591.1L1953.4,592.1L1953.6,593.1L1953.7,594.0L1953.8,595.0L1954.0,596.0L1954.1,597.0L1954.3,598.0L1954.4,599.0L1954.5,600.0L1954.7,601.0L1954.8,602.0L1954.9,603.0L1955.1,603.9L1955.2,604.9L1955.3,605.9L1955.5,606.9L1955.6,607.9L1955.7,608.9L1955.8,609.9L1956.0,610.9L1956.1,611.9L1956.2,612.9L1956.3,613.9L1956.5,614.9L1956.6,615.8L1956.7,616.8L1956.8,617.8L1957.0,618.8L1957.1,619.8L1957.2,620.8L1957.3,621.8L1957.5,622.8L1957.6,623.8L1957.7,624.8L1957.8,625.8L1957.9,626.8L1958.1,627.7L1958.2,628.7L1958.3,629.7L1958.4,630.7L1958.5,631.7L1958.7,632.7L1958.8,633.7L1958.9,634.7L1959.0,635.7L1959.1,636.7L1959.2,637.7L1959.4,638.7L1959.5,639.7L1959.6,640.7L1959.7,641.6L1959.8,642.6L1959.9,643.6L1960.1,644.6L1960.2,645.6L1960.3,646.6L1960.4,647.6L1960.5,648.6L1960.6,649.6L1960.7,650.6L1960.9,651.6L1961.0,652.6L1961.1,653.6L1961.2,654.6L1961.3,655.5L1961.4,656.5L1961.5,657.5L1961.6,658.5L1961.8,659.5L1961.9,660.5L1962.0,661.5L1962.1,662.5L1962.2,663.5L1962.3,664.5L1962.4,665.5L1962.6,666.5L1962.7,667.5L1962.8,668.5L1962.9,669.4L1963.0,670.4L1963.1,671.4L1963.2,672.4L1963.3,673.4L1963.4,674.4L1963.5,675.4L1963.6,676.4L1963.8,677.4L1963.9,678.4L1964.0,679.4L1964.1,680.4L1964.2,681.4L1964.3,682.4L1964.4,683.4L1964.5,684.4L1964.6,685.3L1964.7,686.3L1964.8,687.3L1964.9,688.3L1965.0,689.3L1965.1,690.3L1965.2,691.3L1965.3,692.3L1965.4,693.3L1965.5,694.3L1965.6,695.3L1965.7,696.3L1965.8,697.3L1965.9,698.3L1966.0,699.3L1966.0,700.3L1966.1,701.3L1966.2,702.3L1966.3,703.3L1966.4,704.3L1966.5,705.2L1966.6,706.2L1966.7,707.2L1966.8,708.2L1966.9,709.2L1966.9,710.2L1967.0,711.2L1967.1,712.2L1967.2,713.2L1967.3,714.2L1967.4,715.2L1967.4,716.2L1967.5,717.2L1967.6,718.2L1967.7,719.2L1967.7,720.2L1967.8,721.2L1967.9,722.2L1968.0,723.2L1968.0,724.2L1968.1,725.2L1968.2,726.2L1968.3,727.2L1968.3,728.2L1968.4,729.2L1968.5,730.2L1968.5,731.2L1968.6,732.1L1968.7,733.1L1968.8,734.1L1968.8,735.1L1968.9,736.1L1969.0,737.1L1969.0,738.1L1969.1,739.1L1969.2,740.1L1969.2,741.1L1969.3,742.1L1969.4,743.1L1969.4,744.1L1969.5,745.1L1969.6,746.1L1969.6,747.1L1969.7,748.1L1969.8,749.1L1969.9,750.1L1969.9,751.1L1970.0,752.1L1970.1,753.1L1970.1,754.1L1970.2,755.1L1970.3,756.1L1970.3,757.1L1970.4,758.1L1970.5,759.1L1970.5,760.1L1970.6,761.1L1970.7,762.1L1970.7,763.1L1970.8,764.1L1970.9,765.1L1971.0,766.0L1971.0,767.0L1971.1,768.0L1971.2,769.0L1971.2,770.0L1971.3,771.0L1971.4,772.0L1971.5,773.0L1971.5,774.0L1971.6,775.0L1971.7,776.0L1971.8,777.0L1971.8,778.0L1971.9,779.0L1972.0,780.0L1972.0,781.0L1972.1,782.0L1972.2,783.0L1972.3,784.0L1972.3,785.0L1972.4,786.0L1972.5,787.0L1972.5,788.0L1972.6,789.0L1972.7,790.0L1972.8,791.0L1972.8,792.0L1972.9,793.0L1973.0,794.0L1973.1,795.0L1973.1,796.0L1973.2,797.0L1973.3,797.9L1973.3,798.9L1973.4,799.9L1973.5,800.9L1973.6,801.9L1973.6,802.9L1973.7,803.9L1973.8,804.9L1973.9,805.9L1973.9,806.9L1974.0,807.9L1974.1,808.9L1974.1,809.9L1974.2,810.9L1974.3,811.9L1974.4,812.9L1974.4,813.9L1974.5,814.9L1974.6,815.9L1974.7,816.9L1974.7,817.9L1974.8,818.9L1974.9,819.9L1975.0,820.9L1975.0,821.9L1975.1,822.9L1975.2,823.9L1975.3,824.9L1975.4,825.9L1975.4,826.9L1975.5,827.8L1975.6,828.8L1975.7,829.8L1975.7,830.8L1975.8,831.8L1975.9,832.8L1976.0,833.8L1976.1,834.8L1976.2,835.8L1976.2,836.8L1976.3,837.8L1976.4,838.8L1976.5,839.8L1976.6,840.8L1976.7,841.8L1976.7,842.8L1976.8,843.8L1976.9,844.8L1977.0,845.8L1977.1,846.8L1977.2,847.8L1977.2,848.8L1977.3,849.8L1977.4,850.8L1977.5,851.8L1977.6,852.7L1977.7,853.7L1977.8,854.7L1977.9,855.7L1977.9,856.7L1978.0,857.7L1978.1,858.7L1978.2,859.7L1978.3,860.7L1978.4,861.7L1978.5,862.7L1978.6,863.7L1978.7,864.7L1978.7,865.7L1978.8,866.7L1978.9,867.7L1979.0,868.7L1979.1,869.7L1979.2,870.7L1979.3,871.7L1979.4,872.7L1979.5,873.7L1979.6,874.6L1979.6,875.6L1979.7,876.6L1979.8,877.6L1979.9,878.6L1980.0,879.6L1980.1,880.6L1980.2,881.6L1980.3,882.6L1980.4,883.6L1980.5,884.6L1980.6,885.6L1980.6,886.6L1980.7,887.6L1980.8,888.6L1980.9,889.6L1981.0,890.6L1981.1,891.6L1981.2,892.6L1981.3,893.6L1981.4,894.6L1981.5,895.6L1981.6,896.5L1981.6,897.5L1981.7,898.5L1981.8,899.5L1981.9,900.5L1982.0,901.5L1982.1,902.5L1982.2,903.5L1982.3,904.5L1982.4,905.5L1982.5,906.5L1982.6,907.5L1982.7,908.5L1982.8,909.5L1982.9,910.5L1983.0,911.5L1983.1,912.5L1983.2,913.5L1983.3,914.4L1983.4,915.4L1983.5,916.4L1983.6,917.4L1983.7,918.4L1983.8,919.4L1983.9,920.4L1984.0,921.4L1984.1,922.4L1984.2,923.4L1984.3,924.4L1984.4,925.4L1984.5,926.4L1984.6,927.4L1984.7,928.4L1984.8,929.4L1984.9,930.4L1984.9,931.4L1985.0,932.4L1985.1,933.4L1985.2,934.4L1985.3,935.3L1985.3,936.3L1985.4,937.3L1985.5,938.3L1985.6,939.3L1985.6,940.3L1985.7,941.3L1985.8,942.3L1985.9,943.3L1985.9,944.3L1986.0,945.3L1986.1,946.3L1986.1,947.3L1986.2,948.3L1986.2,949.3L1986.3,950.3L1986.3,951.3L1986.4,952.3L1986.5,953.3L1986.5,954.3L1986.6,955.3L1986.6,956.3L1986.6,957.3L1986.7,958.3L1986.7,959.3L1986.8,960.3L1986.8,961.3L1986.9,962.3L1986.9,963.3L1987.0,964.3L1987.0,965.3L1987.1,966.3L1987.1,967.3L1987.1,968.3L1987.2,969.3L1987.2,970.3L1987.3,971.3L1987.3,972.3L1987.4,973.3L1987.4,974.3L1987.5,975.3L1987.5,976.3L1987.5,977.3L1987.6,978.3L1987.6,979.3L1987.7,980.3L1987.7,981.3L1987.8,982.3L1987.8,983.3L1987.9,984.3L1987.9,985.2L1988.0,986.2L1988.0,987.2L1988.1,988.2L1988.1,989.2L1988.2,990.2L1988.2,991.2L1988.3,992.2L1988.3,993.2L1988.4,994.2L1988.4,995.2L1988.5,996.2L1988.5,997.2L1988.6,998.2L1988.7,999.2L1988.7,1000.2L1988.8,1001.2L1988.8,1002.2L1988.9,1003.2L1988.9,1004.2L1989.0,1005.2L1989.0,1006.2L1989.1,1007.2L1989.2,1008.2L1989.2,1009.2L1989.3,1010.2L1989.3,1011.2L1989.4,1012.2L1989.4,1013.2L1989.5,1014.2L1989.6,1015.2L1989.6,1016.2L1989.7,1017.2L1989.7,1018.2L1989.8,1019.2L1989.9,1020.2L1989.9,1021.2L1990.0,1022.2L1990.1,1023.2L1990.1,1024.2L1990.2,1025.2L1990.3,1026.2L1990.4,1027.2L1990.5,1028.1L1990.5,1029.1L1990.6,1030.1L1990.7,1031.1L1990.8,1032.1L1990.9,1033.1L1991.0,1034.1L1991.1,1035.1L1991.2,1036.1L1991.3,1037.1L1991.4,1038.1L1991.5,1039.1L1991.6,1040.1L1991.7,1041.1L1991.8,1042.1L1991.9,1043.1L1992.0,1044.1L1992.2,1045.1L1992.3,1046.0L1992.5,1047.0L1992.6,1048.0L1992.8,1049.0L1998.6,1066.0L1998.7,1065.0L1998.9,1064.0L1999.0,1063.0L1999.2,1062.0L1999.3,1061.1L1999.4,1060.1L1999.6,1059.1L1999.7,1058.1L1999.8,1057.1L1999.9,1056.1L2000.1,1055.1L2000.2,1054.1L2000.3,1053.1L2000.4,1052.1L2000.5,1051.1L2000.6,1050.1L2000.7,1049.1L2000.8,1048.1L2000.9,1047.1L2001.0,1046.2L2001.1,1045.2L2001.2,1044.2L2001.3,1043.2L2001.4,1042.2L2001.5,1041.2L2001.6,1040.2L2001.7,1039.2L2001.8,1038.2L2001.9,1037.2L2002.0,1036.2L2002.1,1035.2L2002.2,1034.2L2002.3,1033.2L2002.4,1032.2L2002.5,1031.2L2002.6,1030.2L2002.7,1029.2L2002.8,1028.2L2002.8,1027.2L2002.9,1026.2L2003.0,1025.2L2003.1,1024.3L2003.2,1023.3L2003.3,1022.3L2003.4,1021.3L2003.5,1020.3L2003.5,1019.3L2003.6,1018.3L2003.7,1017.3L2003.8,1016.3L2003.9,1015.3L2004.0,1014.3L2004.0,1013.3L2004.1,1012.3L2004.2,1011.3L2004.3,1010.3L2004.3,1009.3L2004.4,1008.3L2004.5,1007.3L2004.6,1006.3L2004.6,1005.3L2004.7,1004.3L2004.8,1003.3L2004.8,1002.3L2004.9,1001.3L2005.0,1000.3L2005.1,999.3L2005.1,998.3L2005.2,997.3L2005.2,996.3L2005.3,995.3L2005.4,994.3L2005.4,993.3L2005.5,992.3L2005.6,991.3L2005.6,990.4L2005.7,989.4L2005.7,988.4L2005.8,987.4L2005.9,986.4L2005.9,985.4L2006.0,984.4L2006.0,983.4L2006.1,982.4L2006.1,981.4L2006.2,980.4L2006.2,979.4L2006.3,978.4L2006.3,977.4L2006.4,976.4L2006.4,975.4L2006.5,974.4L2006.5,973.4L2006.6,972.4L2006.6,971.4L2006.6,970.4L2006.7,969.4L2006.7,968.4L2006.8,967.4L2006.8,966.4L2006.9,965.4L2006.9,964.4L2007.0,963.4L2007.0,962.4L2007.1,961.4L2007.1,960.4L2007.2,959.4L2007.2,958.4L2007.3,957.4L2007.3,956.4L2007.4,955.4L2007.4,954.4L2007.5,953.4L2007.5,952.4L2007.6,951.4L2007.6,950.4L2007.7,949.4L2007.7,948.4L2007.8,947.4L2007.8,946.4L2007.9,945.4L2008.0,944.4L2008.0,943.4L2008.1,942.4L2008.2,941.4L2008.2,940.4L2008.3,939.4L2008.4,938.4L2008.4,937.4L2008.5,936.4L2008.6,935.4L2008.6,934.4L2008.7,933.4L2008.8,932.4L2008.9,931.4L2008.9,930.5L2009.0,929.5L2009.1,928.5L2009.2,927.5L2009.2,926.5L2009.3,925.5L2009.4,924.5L2009.5,923.5L2009.6,922.5L2009.6,921.5L2009.7,920.5L2009.8,919.5L2009.9,918.5L2010.0,917.5L2010.0,916.5L2010.1,915.5L2010.2,914.5L2010.3,913.5L2010.4,912.5L2010.5,911.5L2010.5,910.5L2010.6,909.5L2010.7,908.5L2010.8,907.5L2010.8,906.5L2010.9,905.5L2011.0,904.5L2011.1,903.5L2011.1,902.5L2011.2,901.5L2011.3,900.5L2011.4,899.5L2011.4,898.6L2011.5,897.6L2011.6,896.6L2011.6,895.6L2011.7,894.6L2011.8,893.6L2011.8,892.6L2011.9,891.6L2012.0,890.6L2012.0,889.6L2012.1,888.6L2012.2,887.6L2012.2,886.6L2012.3,885.6L2012.4,884.6L2012.4,883.6L2012.5,882.6L2012.6,881.6L2012.6,880.6L2012.7,879.6L2012.8,878.6L2012.8,877.6L2012.9,876.6L2012.9,875.6L2013.0,874.6L2013.1,873.6L2013.1,872.6L2013.2,871.6L2013.3,870.6L2013.3,869.6L2013.4,868.6L2013.4,867.6L2013.5,866.6L2013.6,865.6L2013.6,864.6L2013.7,863.6L2013.7,862.6L2013.8,861.6L2013.9,860.6L2013.9,859.6L2014.0,858.6L2014.0,857.6L2014.1,856.6L2014.1,855.6L2014.2,854.6L2014.3,853.6L2014.3,852.6L2014.4,851.6L2014.4,850.7L2014.5,849.7L2014.5,848.7L2014.6,847.7L2014.6,846.7L2014.7,845.7L2014.7,844.7L2014.8,843.7L2014.8,842.7L2014.9,841.7L2014.9,840.7L2015.0,839.7L2015.0,838.7L2015.1,837.7L2015.1,836.7L2015.2,835.7L2015.2,834.7L2015.3,833.7L2015.3,832.7L2015.3,831.7L2015.4,830.7L2015.4,829.7L2015.5,828.7L2015.5,827.7L2015.5,826.7L2015.6,825.7L2015.6,824.7L2015.7,823.7L2015.7,822.7L2015.7,821.7L2015.8,820.7L2015.8,819.7L2015.8,818.7L2015.9,817.7L2015.9,816.7L2015.9,815.7L2016.0,814.7L2016.0,813.7L2016.0,812.7L2016.1,811.7L2016.1,810.7L2016.1,809.7L2016.2,808.7L2016.2,807.7L2016.2,806.7L2016.3,805.7L2016.3,804.7L2016.3,803.7L2016.4,802.7L2016.4,801.7L2016.4,800.7L2016.5,799.7L2016.5,798.7L2016.5,797.7L2016.6,796.7L2016.6,795.7L2016.6,794.7L2016.7,793.7L2016.7,792.7L2016.7,791.7L2016.7,790.7L2016.8,789.7L2016.8,788.7L2016.8,787.7L2016.9,786.7L2016.9,785.7L2016.9,784.7L2017.0,783.7L2017.0,782.7L2017.0,781.7L2017.1,780.7L2017.1,779.7L2017.2,778.7L2017.2,777.7L2017.2,776.7L2017.3,775.7L2017.3,774.7L2017.3,773.7L2017.4,772.7L2017.4,771.7L2017.5,770.7L2017.5,769.7L2017.5,768.7L2017.6,767.7L2017.6,766.7L2017.7,765.7L2017.7,764.7L2017.7,763.7L2017.8,762.7L2017.8,761.7L2017.9,760.7L2017.9,759.7L2018.0,758.7L2018.0,757.7L2018.0,756.7L2018.1,755.7L2018.1,754.7L2018.2,753.7L2018.2,752.7L2018.3,751.7L2018.3,750.7L2018.4,749.7L2018.4,748.7L2018.4,747.7L2018.5,746.7L2018.5,745.7L2018.6,744.7L2018.6,743.7L2018.7,742.7L2018.7,741.7L2018.8,740.8L2018.8,739.8L2018.9,738.8L2018.9,737.8L2018.9,736.8L2019.0,735.8L2019.0,734.8L2019.1,733.8L2019.1,732.8L2019.2,731.8L2019.2,730.8L2019.3,729.8L2019.3,728.8L2019.4,727.8L2019.4,726.8L2019.5,725.8L2019.5,724.8L2019.6,723.8L2019.6,722.8L2019.7,721.8L2019.7,720.8L2019.8,719.8L2019.8,718.8L2019.9,717.8L2019.9,716.8L2020.0,715.8L2020.1,714.8L2020.1,713.8L2020.2,712.8L2020.2,711.8L2020.3,710.8L2020.3,709.8L2020.4,708.8L2020.4,707.8L2020.5,706.8L2020.6,705.8L2020.6,704.8L2020.7,703.8L2020.7,702.8L2020.8,701.8L2020.9,700.8L2020.9,699.8L2021.0,698.8L2021.0,697.8L2021.1,696.8L2021.2,695.8L2021.2,694.8L2021.3,693.8L2021.4,692.8L2021.4,691.8L2021.5,690.8L2021.6,689.8L2021.6,688.8L2021.7,687.8L2021.8,686.8L2021.8,685.8L2021.9,684.8L2022.0,683.8L2022.0,682.8L2022.1,681.9L2022.2,680.9L2022.2,679.9L2022.3,678.9L2022.4,677.9L2022.4,676.9L2022.5,675.9L2022.6,674.9L2022.6,673.9L2022.7,672.9L2022.8,671.9L2022.9,670.9L2022.9,669.9L2023.0,668.9L2023.1,667.9L2023.2,666.9L2023.2,665.9L2023.3,664.9L2023.4,663.9L2023.4,662.9L2023.5,661.9L2023.6,660.9L2023.7,659.9L2023.7,658.9L2023.8,657.9L2023.9,656.9L2024.0,655.9L2024.0,654.9L2024.1,653.9L2024.2,652.9L2024.2,651.9L2024.3,650.9L2024.4,649.9L2024.5,648.9L2024.5,647.9L2024.6,646.9L2024.7,645.9L2024.7,645.0L2024.8,644.0L2024.9,643.0L2025.0,642.0L2025.0,641.0L2025.1,640.0L2025.2,639.0L2025.2,638.0L2025.3,637.0L2025.4,636.0L2025.5,635.0L2025.5,634.0L2025.6,633.0L2025.7,632.0L2025.8,631.0L2025.8,630.0L2025.9,629.0L2026.0,628.0L2026.0,627.0L2026.1,626.0L2026.2,625.0L2026.3,624.0L2026.3,623.0L2026.4,622.0L2026.5,621.0L2026.6,620.0L2026.6,619.0L2026.7,618.0L2026.8,617.0L2026.9,616.0L2026.9,615.0L2027.0,614.0L2027.1,613.0L2027.2,612.0L2027.2,611.0L2027.3,610.1L2027.4,609.1L2027.5,608.1L2027.6,607.1L2027.6,606.1L2027.7,605.1L2027.8,604.1L2027.9,603.1L2027.9,602.1L2028.0,601.1L2028.1,600.1L2028.2,599.1L2028.3,598.1L2028.3,597.1L2028.4,596.1L2028.5,595.1L2028.6,594.1L2028.7,593.1L2028.8,592.1L2028.8,591.1L2028.9,590.1L2029.0,589.1L2029.1,588.1L2029.2,587.1L2029.3,586.1L2029.4,585.1L2029.5,584.1L2029.5,583.1L2029.6,582.1L2029.7,581.2L2029.8,580.2L2029.9,579.2L2030.0,578.2L2030.1,577.2L2030.2,576.2L2030.2,575.2L2030.3,574.2L2030.4,573.2L2030.5,572.2L2030.6,571.2L2030.7,570.2L2030.8,569.2L2030.9,568.2L2031.0,567.2L2031.1,566.2L2031.2,565.2L2031.3,564.2L2031.4,563.2L2031.4,562.2L2031.5,561.2L2031.6,560.2L2031.7,559.2L2031.8,558.3L2031.9,557.3L2032.0,556.3L2032.1,555.3L2032.2,554.3L2032.3,553.3L2032.4,552.3L2032.5,551.3L2032.6,550.3L2032.7,549.3L2032.8,548.3L2032.9,547.3L2033.0,546.3L2033.1,545.3L2033.2,544.3L2033.3,543.3L2033.4,542.3L2033.5,541.3L2033.6,540.3L2033.7,539.4L2033.9,538.4L2034.0,537.4L2034.1,536.4L2034.2,535.4L2034.3,534.4L2034.4,533.4L2034.5,532.4L2034.6,531.4L2034.7,530.4L2034.8,529.4L2034.9,528.4L2035.0,527.4L2035.1,526.4L2035.3,525.4L2035.4,524.4L2035.5,523.4L2035.6,522.5L2035.7,521.5L2035.8,520.5L2035.9,519.5L2036.0,518.5L2036.1,517.5L2036.3,516.5L2036.4,515.5L2036.5,514.5L2036.6,513.5L2036.7,512.5L2036.8,511.5L2036.9,510.5L2037.1,509.5L2037.2,508.5L2037.3,507.6L2037.4,506.6L2037.5,505.6L2037.6,504.6L2037.8,503.6L2037.9,502.6L2038.0,501.6L2038.1,500.6L2038.2,499.6L2038.4,498.6L2038.5,497.6L2038.6,496.6L2038.7,495.6L2038.9,494.6L2039.0,493.7L2039.1,492.7L2039.3,491.7L2039.4,490.7L2039.5,489.7L2039.6,488.7L2039.8,487.7L2039.9,486.7L2040.0,485.7L2040.2,484.7L2040.3,483.7L2040.5,482.8L2040.6,481.8L2040.7,480.8L2040.9,479.8L2041.0,478.8L2041.2,477.8L2041.3,476.8L2041.5,475.8L2041.6,474.8L2041.8,473.9L2041.9,472.9L2042.1,471.9L2042.2,470.9L2042.4,469.9L2042.5,468.9L2042.7,467.9L2042.8,466.9L2043.0,465.9L2043.1,465.0L2043.3,464.0L2043.5,463.0L2043.6,462.0L2043.8,461.0L2043.9,460.0L2044.1,459.0L2044.3,458.1L2044.4,457.1L2044.6,456.1L2044.8,455.1L2044.9,454.1L2045.1,453.1L2045.3,452.1L2045.5,451.2L2045.6,450.2L2045.8,449.2L2046.0,448.2L2046.2,447.2L2046.3,446.2L2046.5,445.2L2046.7,444.3L2046.9,443.3L2047.1,442.3L2047.2,441.3L2047.4,440.3L2047.6,439.4L2047.8,438.4L2048.0,437.4L2048.2,436.4L2048.4,435.4L2048.6,434.5L2048.8,433.5L2049.0,432.5L2049.2,431.5L2049.4,430.5L2049.6,429.6L2049.9,428.6L2050.1,427.6L2050.3,426.6L2050.5,425.7L2050.7,424.7L2051.0,423.7L2051.2,422.7L2051.4,421.8L2051.6,420.8L2051.9,419.8L2052.1,418.8L2052.3,417.9L2052.5,416.9L2052.8,415.9L2053.0,414.9L2053.2,414.0L2053.5,413.0L2053.7,412.0L2054.0,411.1L2054.2,410.1L2054.5,409.1L2054.7,408.2L2055.0,407.2L2055.2,406.2L2055.5,405.3L2055.8,404.3L2056.0,403.3L2056.3,402.4L2056.6,401.4L2056.9,400.5L2057.2,399.5L2057.5,398.6L2057.9,397.6L2058.2,396.7L2058.6,395.7L2058.9,394.8L2059.3,393.9L2059.7,393.0L2060.1,392.1L2060.6,391.2L2061.0,390.3L2061.4,389.4L2061.8,388.5L2062.3,387.6L2062.8,386.7L2063.2,385.8L2063.7,384.9L2064.2,384.1L2064.8,383.2L2065.3,382.4L2065.9,381.6L2066.5,380.8L2067.2,380.0L2067.9,379.3L2068.7,378.7L2069.5,378.1L2070.3,377.5L2071.1,376.9L2071.9,376.3L2072.7,375.8L2073.6,375.2L2074.4,374.7L2075.3,374.3L2076.2,373.9L2077.2,373.5L2078.1,373.3L2079.1,373.1L2080.1,373.0L2081.1,373.0L2082.1,373.0L2083.1,373.1L2084.1,373.1L2085.1,373.2L2086.1,373.2L2087.1,373.3L2088.1,373.4L2089.1,373.5L2090.1,373.6L2091.1,373.7L2092.1,373.9L2093.1,374.0L2094.1,374.1L2095.0,374.4L2096.0,374.6L2097.0,374.9L2097.9,375.2L2098.9,375.5L2099.8,375.8L2100.7,376.2L2101.7,376.5L2102.6,376.8L2103.6,377.2L2104.5,377.5L2105.5,377.8L2106.4,378.1L2107.4,378.3L2108.4,378.6L2109.3,378.8L2110.3,379.1L2111.3,379.4L2112.2,379.6L2113.2,379.9L2114.2,380.2L2115.1,380.4L2116.1,380.6L2117.1,380.8L2118.1,381.0L2119.0,381.2L2120.0,381.3L2121.0,381.4L2122.0,381.5L2123.0,381.5L2124.0,381.4L2125.0,381.3L2126.0,381.1L2127.0,380.9L2127.9,380.6L2128.9,380.3L2129.8,379.9L2130.7,379.5L2131.6,379.1L2132.5,378.7L2133.4,378.2L2134.3,377.8L2135.2,377.3L2136.0,376.7L2136.8,376.0L2137.5,375.3L2138.1,374.6L2138.8,373.8L2139.4,373.1L2140.0,372.3L2140.6,371.5L2141.2,370.7L2141.8,369.9L2142.4,369.0L2142.9,368.2L2143.4,367.3L2143.9,366.5L2144.4,365.6L2144.8,364.7L2145.2,363.7L2145.6,362.8L2145.9,361.9L2146.2,360.9L2146.5,360.0L2146.7,359.0L2147.0,358.0L2147.3,357.1L2147.5,356.1L2147.7,355.1L2148.0,354.2L2148.2,353.2L2148.5,352.2L2148.8,351.3L2149.0,350.3L2149.3,349.3L2149.6,348.4L2149.8,347.4L2150.1,346.4L2150.3,345.5L2150.6,344.5L2154.8,446.5L2165.3,373.2L2166.1,371.4L2166.9,369.6L2167.7,367.9L2168.5,366.2L2169.4,364.4L2170.2,362.7L2171.0,361.0L2171.8,359.2L2172.6,357.4L2173.4,355.6L2174.2,353.8L2175.0,351.9L2175.8,349.9L2176.6,347.9L2177.2,346.2L2177.9,344.5L2178.5,342.8L2179.1,341.0L2179.8,339.2L2180.4,337.3L2181.1,335.4L2181.7,333.5L2182.4,331.6L2183.0,329.6L2183.6,327.6L2184.3,325.7L2184.9,323.7L2185.5,321.7L2186.1,319.8L2186.7,317.8L2187.3,315.9L2187.8,314.0L2188.4,312.1L2188.9,310.2L2189.4,308.4L2189.9,306.6L2190.4,304.6L2190.9,302.6L2191.4,300.6L2191.9,298.7L2192.3,296.8L2192.8,294.8L2193.2,292.9L2193.6,291.0L2194.0,289.1L2194.4,287.3L2194.8,285.4L2195.2,283.5L2195.6,281.6L2196.0,279.7L2196.4,277.8L2196.8,275.9L2197.2,274.0L2205.9,377.5L2211.9,304.0L2216.6,298.6L2216.8,297.6L2217.1,296.7L2217.3,295.7L2217.5,294.7L2217.8,293.7L2218.0,292.8L2218.2,291.8L2218.5,290.8L2218.7,289.9L2219.0,288.9L2219.2,287.9L2219.5,287.0L2219.7,286.0L2220.0,285.0L2220.3,284.1L2220.5,283.1L2220.8,282.1L2221.1,281.2L2221.3,280.2L2221.6,279.3L2221.9,278.3L2222.2,277.3L2222.5,276.4L2222.8,275.4L2223.1,274.5L2223.4,273.5L2223.8,272.6L2224.1,271.6L2224.4,270.7L2224.8,269.8L2225.1,268.8L2225.5,267.9L2225.9,267.0L2226.3,266.1L2226.7,265.2L2227.1,264.3L2227.6,263.4L2228.0,262.5L2228.5,261.6L2229.0,260.7L2229.4,259.8L2229.9,259.0L2230.4,258.1L2231.0,257.2L2231.5,256.4L2232.0,255.5L2232.6,254.7L2233.1,253.9L2233.7,253.0L2234.2,252.2L2234.8,251.4L2235.4,250.6L2236.0,249.8L2236.6,249.0L2237.2,248.2L2237.8,247.4L2238.5,246.6L2239.1,245.9L2239.8,245.1L2240.4,244.4L2241.1,243.6L2241.8,242.9L2242.5,242.2L2243.2,241.5L2243.9,240.8L2244.6,240.1L2245.4,239.4L2246.1,238.8L2246.9,238.1L2247.7,237.5L2248.5,236.9L2249.3,236.3L2250.1,235.7L2250.9,235.2L2251.8,234.6L2252.6,234.1L2253.5,233.6L2254.4,233.1L2255.3,232.7L2256.2,232.3L2257.1,231.9L2258.1,231.6L2259.0,231.3L2260.0,231.1L2261.0,230.9L2262.0,230.8L2263.0,230.7L2264.0,230.7L2265.0,230.7L2266.0,230.8L2267.0,230.9L2267.9,231.0L2268.9,231.2L2269.9,231.3L2270.9,231.6L2271.9,231.8L2272.8,232.1L2273.8,232.4L2274.7,232.8L2275.6,233.2L2276.5,233.6L2277.4,234.0L2278.3,234.5L2279.2,235.0L2280.0,235.5L2280.9,236.0L2281.7,236.6L2282.5,237.1L2283.3,237.7L2284.1,238.3L2284.9,239.0L2285.7,239.6L2286.4,240.3L2287.2,240.9L2287.9,241.6L2288.7,242.3L2289.4,243.0L2290.1,243.7L2290.8,244.4L2291.5,245.1L2292.2,245.8L2292.9,246.5L2293.6,247.3L2294.2,248.0L2294.9,248.7L2295.6,249.5L2296.2,250.3L2296.9,251.0L2297.5,251.8L2298.1,252.6L2298.8,253.3L2299.4,254.1L2300.0,254.9L2300.6,255.7L2301.3,256.5L2301.9,257.3L2302.5,258.0L2303.1,258.8L2303.7,259.6L2304.3,260.4L2304.9,261.3L2305.5,262.1L2306.0,262.9L2306.6,263.7L2307.2,264.5L2307.8,265.3L2308.4,266.1L2309.0,266.9L2309.5,267.7L2310.1,268.5L2310.7,269.3L2311.4,270.1L2312.0,270.9L2312.6,271.7L2313.3,272.4L2314.0,273.1L2314.7,273.8L2315.5,274.4L2316.3,275.0L2317.2,275.5L2318.1,275.9L2319.1,276.1L2320.1,276.1L2321.1,275.9L2322.0,275.6L2322.9,275.2L2323.8,274.6L2324.5,274.0L2325.2,273.3L2325.9,272.5L2326.5,271.7L2327.1,270.9L2327.6,270.1L2328.1,269.2L2328.6,268.3L2329.0,267.4L2329.5,266.5L2329.9,265.6L2330.3,264.7L2330.6,263.8L2331.0,262.8L2331.4,261.9L2331.7,261.0L2332.1,260.0L2332.4,259.1L2332.7,258.1L2333.1,257.2L2333.4,256.3L2333.7,255.3L2334.0,254.4L2334.3,253.4L2334.6,252.5L2334.9,251.5L2335.2,250.6L2335.5,249.6L2335.8,248.7L2336.1,247.7L2336.4,246.7L2336.8,245.8L2337.1,244.8L2337.4,243.9L2337.7,242.9L2338.0,242.0L2338.3,241.0L2338.6,240.1L2338.9,239.1L2339.2,238.2L2339.5,237.2L2339.8,236.3L2340.1,235.3L2340.4,234.4L2340.7,233.4L2341.1,232.5L2341.4,231.5L2341.7,230.6L2342.0,229.6L2342.3,228.7L2342.6,227.7L2343.0,226.8L2343.3,225.8L2343.6,224.9L2343.9,223.9L2344.2,223.0L2344.5,222.0L2344.9,221.1L2345.2,220.1L2345.5,219.2L2345.8,218.3L2346.1,217.3L2346.4,216.4L2346.8,215.4L2347.1,214.5L2347.4,213.5L2347.7,212.6L2348.0,211.6L2348.4,210.7L2348.7,209.7L2349.0,208.8L2349.3,207.8L2349.7,206.9L2350.0,206.0L2350.3,205.0L2350.7,204.1L2351.0,203.1L2351.4,202.2L2351.8,201.3L2352.2,200.4L2352.6,199.4L2353.0,198.5L2353.4,197.6L2353.9,196.7L2354.4,195.9L2354.9,195.0L2355.5,194.2L2356.1,193.4L2356.7,192.7L2357.5,192.0L2358.3,191.4L2359.2,190.9L2360.1,190.6L2361.1,190.4L2362.1,190.3L2363.1,190.4L2364.0,190.6L2365.0,190.9L2365.8,191.4L2366.6,192.1L2367.3,192.8L2367.9,193.6L2368.5,194.4L2369.0,195.3L2369.4,196.2L2369.9,197.1L2370.3,198.0L2370.7,198.9L2371.0,199.8L2371.4,200.8L2371.7,201.7L2372.0,202.7L2372.3,203.6L2372.6,204.6L2372.9,205.5L2373.1,206.5L2373.4,207.5L2373.7,208.4L2373.9,209.4L2374.2,210.4L2374.4,211.3L2374.7,212.3L2374.9,213.3L2375.2,214.2L2375.4,215.2L2375.7,216.2L2375.9,217.1L2376.1,218.1L2376.4,219.1L2376.6,220.1L2376.8,221.0L2377.0,222.0L2377.3,223.0L2377.5,224.0L2377.7,224.9L2377.9,225.9L2378.1,226.9L2378.4,227.9L2378.6,228.8L2378.8,229.8L2379.0,230.8L2379.2,231.8L2379.4,232.7L2379.6,233.7L2379.8,234.7L2380.1,235.7L2380.3,236.7L2380.5,237.6L2380.7,238.6L2380.9,239.6L2381.1,240.6L2381.3,241.5L2381.4,242.5L2381.6,243.5L2381.8,244.5L2382.0,245.5L2382.2,246.5L2382.4,247.4L2382.6,248.4L2382.8,249.4L2382.9,250.4L2383.1,251.4L2383.3,252.4L2383.5,253.3L2383.7,254.3L2383.8,255.3L2384.0,256.3L2384.2,257.3L2384.3,258.3L2384.5,259.2L2384.7,260.2L2384.9,261.2L2385.0,262.2L2385.2,263.2L2385.4,264.2L2385.5,265.2L2385.7,266.1L2385.8,267.1L2386.0,268.1L2386.2,269.1L2386.3,270.1L2386.5,271.1L2386.6,272.1L2386.8,273.1L2387.0,274.0L2387.1,275.0L2387.3,276.0L2387.4,277.0L2387.6,278.0L2387.7,279.0L2387.9,280.0L2388.0,281.0L2388.2,281.9L2388.3,282.9L2388.5,283.9L2388.6,284.9L2388.8,285.9L2388.9,286.9L2389.1,287.9L2389.2,288.9L2389.4,289.8L2389.5,290.8L2389.7,291.8L2389.8,292.8L2390.0,293.8L2390.1,294.8L2390.2,295.8L2390.4,296.8L2390.5,297.8L2390.6,298.8L2390.8,299.8L2390.9,300.7L2391.0,301.7L2391.1,302.7L2391.2,303.7L2391.3,304.7L2391.5,305.7L2391.6,306.7L2391.7,307.7L2391.8,308.7L2391.9,309.7L2392.0,310.7L2392.1,311.7L2392.2,312.7L2392.3,313.7L2392.4,314.7L2392.5,315.7L2392.6,316.6L2392.6,317.6L2392.7,318.6L2392.8,319.6L2392.9,320.6L2393.0,321.6L2393.1,322.6L2393.1,323.6L2393.2,324.6L2393.3,325.6L2393.4,326.6L2393.4,327.6L2393.5,328.6L2393.6,329.6L2393.7,330.6L2393.7,331.6L2393.8,332.6L2393.9,333.6L2394.0,334.6L2394.0,335.6L2394.1,336.6L2394.2,337.6L2394.2,338.6L2394.3,339.6L2394.4,340.6L2394.5,341.6L2394.5,342.6L2394.6,343.6L2394.7,344.6L2394.7,345.6L2394.8,346.6L2394.9,347.6L2395.0,348.5L2395.0,349.5L2395.1,350.5L2395.2,351.5L2395.3,352.5L2395.3,353.5L2395.4,354.5L2395.5,355.5L2395.6,356.5L2395.6,357.5L2395.7,358.5L2395.8,359.5L2395.9,360.5L2395.9,361.5L2396.0,362.5L2396.1,363.5L2396.2,364.5L2396.2,365.5L2396.3,366.5L2396.4,367.5L2396.5,368.5L2396.5,369.5L2396.6,370.5L2396.7,371.5L2396.7,372.5L2396.8,373.5L2396.9,374.5L2396.9,375.5L2397.0,376.5L2397.1,377.5L2397.1,378.5L2397.2,379.5L2397.3,380.5L2397.3,381.5L2397.4,382.5L2397.4,383.4L2397.5,384.4L2397.5,385.4L2397.6,386.4L2397.7,387.4L2397.7,388.4L2397.8,389.4L2397.8,390.4L2397.9,391.4L2397.9,392.4L2398.0,393.4L2398.0,394.4L2398.1,395.4L2398.1,396.4L2398.2,397.4L2398.2,398.4L2398.3,399.4L2398.3,400.4L2398.4,401.4L2398.4,402.4L2398.5,403.4L2398.5,404.4L2398.5,405.4L2398.6,406.4L2398.6,407.4L2398.7,408.4L2398.7,409.4L2398.7,410.4L2398.8,411.4L2398.8,412.4L2398.8,413.4L2398.9,414.4L2398.9,415.4L2399.0,416.4L2399.0,417.4L2399.0,418.4L2399.1,419.4L2399.1,420.4L2399.1,421.4L2399.1,422.4L2399.2,423.4L2399.2,424.4L2399.2,425.4L2399.3,426.4L2399.3,427.4L2399.3,428.4L2399.4,429.4L2399.4,430.4L2399.4,431.4L2399.4,432.4L2399.5,433.4L2399.5,434.4L2399.5,435.4L2399.5,436.4L2399.6,437.4L2399.6,438.4L2399.6,439.4L2399.6,440.4L2399.7,441.4L2399.7,442.4L2399.7,443.4L2399.7,444.4L2399.8,445.4L2399.8,446.4L2399.8,447.4L2399.8,448.4L2399.9,449.4L2399.9,450.4L2399.9,451.4L2399.9,452.4L2400.0,453.4L2400.0,454.4L2400.0,455.4L2400.0,456.4L2400.1,457.4L2400.1,458.4L2400.1,459.4L2400.1,460.4L2400.1,461.4L2400.2,462.4L2400.2,463.4L2400.2,464.4L2400.2,465.4L2400.3,466.4L2400.3,467.4L2400.3,468.4L2400.3,469.4L2400.4,470.4L2400.4,471.4L2400.4,472.4L2400.4,473.4L2400.5,474.4L2400.5,475.4L2400.5,476.4L2400.5,477.4L2400.6,478.4L2400.6,479.4L2400.6,480.4L2400.6,481.4L2400.7,482.4L2400.7,483.4L2400.7,484.4L2400.7,485.4L2400.8,486.4L2400.8,487.4L2400.8,488.4L2400.8,489.4L2400.9,490.4L2400.9,491.4L2400.9,492.4L2401.0,493.4L2401.0,494.4L2401.0,495.4L2401.1,496.3L2401.1,497.3L2401.1,498.3L2401.2,499.3L2401.2,500.3L2401.2,501.3L2401.2,502.3L2401.3,503.3L2401.3,504.3L2401.3,505.3L2401.4,506.3L2401.4,507.3L2401.4,508.3L2401.5,509.3L2401.5,510.3L2401.5,511.3L2401.5,512.3L2401.6,513.3L2401.6,514.3L2401.6,515.3L2401.6,516.3L2401.7,517.3L2401.7,518.3L2401.7,519.3L2401.7,520.3L2401.8,521.3L2401.8,522.3L2401.8,523.3L2401.8,524.3L2401.8,525.3L2401.9,526.3L2401.9,527.3L2401.9,528.3L2401.9,529.3L2401.9,530.3L2402.0,531.3L2402.0,532.3L2402.0,533.3L2402.0,534.3L2402.0,535.3L2402.0,536.3L2402.0,537.3L2402.1,538.3L2402.1,539.3L2402.1,540.3L2402.1,541.3L2402.1,542.3L2402.1,543.3L2402.1,544.3L2402.2,545.3L2402.2,546.3L2402.2,547.3L2402.2,548.3L2402.2,549.3L2402.2,550.3L2402.2,551.3L2402.2,552.3L2402.3,553.3L2402.3,554.3L2402.3,555.3L2402.3,556.3L2402.3,557.3L2402.3,558.3L2402.3,559.3L2402.3,560.3L2402.3,561.3L2402.4,562.3L2402.4,563.3L2402.4,564.3L2402.4,565.3L2402.4,566.3L2402.4,567.3L2402.4,568.3L2402.4,569.3L2402.4,570.3L2402.4,571.3L2402.5,572.3L2402.5,573.3L2402.5,574.3L2402.5,575.3L2402.5,576.3L2402.5,577.3L2402.5,578.3L2402.5,579.3L2402.5,580.3L2402.5,581.3L2402.5,582.3L2402.5,583.3L2402.6,584.3L2402.6,585.3L2402.6,586.3L2402.6,587.3L2402.6,588.3L2402.6,589.3L2402.6,590.3L2402.6,591.3L2402.6,592.3L2402.6,593.3L2402.6,594.3L2402.6,595.3L2402.7,596.3L2402.7,597.3L2402.7,598.3L2402.7,599.3L2402.7,600.3L2402.7,601.3L2402.7,602.3L2407.3,414.6L2410.7,591.0L2414.5,440.0" stroke="#ec008c" stroke-width="5.9" stroke-linejoin="miter" stroke-miterlimit="10"/>
</g>
<rect x="1154.2" y="1118.7" width="1197.4" height="331.5" fill="#fff" stroke="#000" stroke-width="5.2"/>
<line x1="1192.9" y1="1212.9" x2="1389.0" y2="1212.9" stroke="#000" stroke-width="10"/>
<line x1="1192.9" y1="1355.9" x2="1389.0" y2="1355.9" stroke="#ec008c" stroke-width="5.9"/>
<text><tspan x="1790.47" y="1244.80" font-size="113.48" textLength="134.61" lengthAdjust="spacingAndGlyphs">ref</tspan></text>
<text><tspan x="1414.98" y="1387.25" font-size="115.39" textLength="115.14" lengthAdjust="spacingAndGlyphs">53</tspan> <tspan x="1568.19" y="1386.90" font-size="113.24" textLength="382.95" lengthAdjust="spacingAndGlyphs">random</tspan> <tspan x="1989.03" y="1386.90" font-size="113.21" textLength="305.43" lengthAdjust="spacingAndGlyphs">points</tspan></text>
<text><tspan x="806.37" y="1609.90" font-size="115.76" textLength="53.33" lengthAdjust="spacingAndGlyphs">1</tspan></text>
<text><tspan x="1200.85" y="1609.90" font-size="115.32" textLength="57.02" lengthAdjust="spacingAndGlyphs">2</tspan></text>
<text><tspan x="1594.27" y="1610.93" font-size="116.88" textLength="57.11" lengthAdjust="spacingAndGlyphs">3</tspan></text>
<text><tspan x="1992.01" y="1609.90" font-size="116.52" textLength="54.12" lengthAdjust="spacingAndGlyphs">4</tspan></text>
<text><tspan x="2383.38" y="1610.73" font-size="116.99" textLength="55.80" lengthAdjust="spacingAndGlyphs">5</tspan></text>
<text><tspan x="344.54" y="1533.74" font-size="115.56" textLength="55.53" lengthAdjust="spacingAndGlyphs">0</tspan></text>
<text><tspan x="255.70" y="1139.18" font-size="114.71" textLength="142.13" lengthAdjust="spacingAndGlyphs">0.1</tspan></text>
<text><tspan x="255.58" y="745.17" font-size="115.00" textLength="146.05" lengthAdjust="spacingAndGlyphs">0.2</tspan></text>
<text><tspan x="255.62" y="352.20" font-size="114.97" textLength="144.60" lengthAdjust="spacingAndGlyphs">0.3</tspan></text>
<text><tspan x="1023.40" y="1772.07" font-size="116.45" textLength="506.99" lengthAdjust="spacingAndGlyphs">Frequency</tspan> <tspan x="1578.81" y="1784.20" font-size="138.55" textLength="23.83" lengthAdjust="spacingAndGlyphs">[</tspan> <tspan x="1603.86" y="1773.90" font-size="113.53" textLength="194.57" lengthAdjust="spacingAndGlyphs">kHz</tspan> <tspan x="1799.50" y="1784.20" font-size="138.55" textLength="23.83" lengthAdjust="spacingAndGlyphs">]</tspan></text>
<text transform="rotate(-90)"><tspan x="-1155.53" y="148.20" font-size="113.24" textLength="529.84" lengthAdjust="spacingAndGlyphs">Amplitude</tspan> <tspan x="-582.25" y="158.29" font-size="138.61" textLength="24.12" lengthAdjust="spacingAndGlyphs">[</tspan> <tspan x="-557.82" y="148.10" font-size="118.93" textLength="131.67" lengthAdjust="spacingAndGlyphs">Pa</tspan> <tspan x="-426.44" y="158.29" font-size="138.61" textLength="24.12" lengthAdjust="spacingAndGlyphs">]</tspan></text>
</svg>
</body></html>
